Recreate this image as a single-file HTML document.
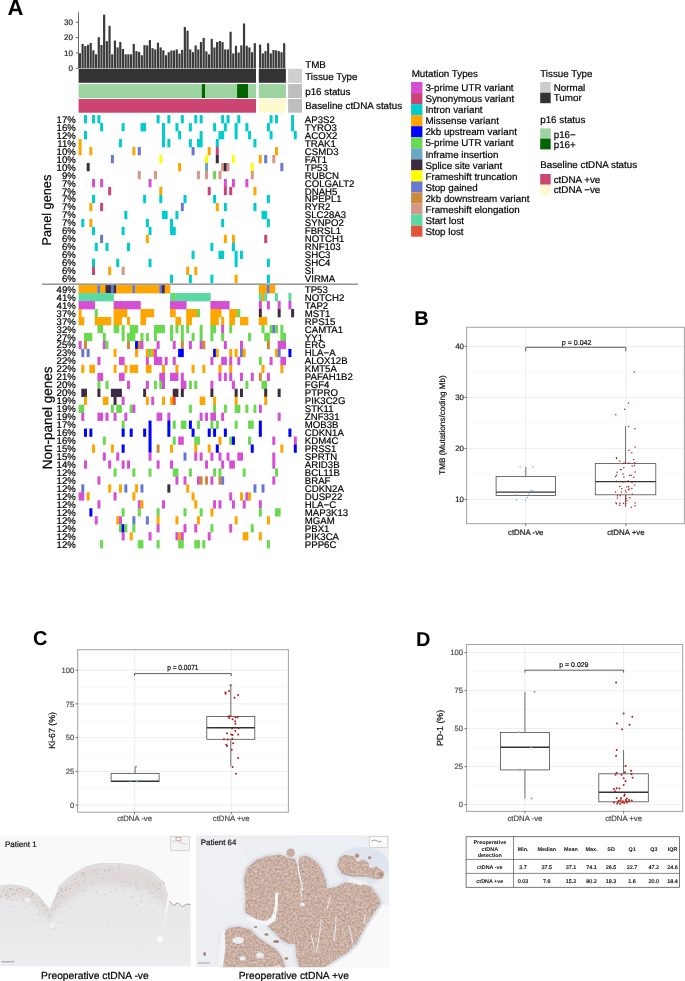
<!DOCTYPE html>
<html><head><meta charset="utf-8"><style>
html,body{margin:0;padding:0;background:#fff;}
body{width:685px;height:981px;overflow:hidden;position:relative;font-family:"Liberation Sans", sans-serif;}
svg{position:absolute;left:0;top:0;will-change:transform;}
svg text{font-family:"Liberation Sans", sans-serif;text-rendering:geometricPrecision;}
</style></head><body>
<svg width="685" height="981" viewBox="0 0 685 981" shape-rendering="auto">
<text transform="translate(7.40 14.70) scale(1 1.0)" font-size="22" text-anchor="start" font-weight="bold" fill="#000" >A</text>
<line x1="78.50" y1="12.30" x2="78.50" y2="68.30" stroke="#444" stroke-width="0.8" />
<line x1="75.90" y1="68.30" x2="78.50" y2="68.30" stroke="#444" stroke-width="0.8" />
<text transform="translate(73.00 71.10) scale(1 1.0)" font-size="8" text-anchor="end" font-weight="normal" fill="#222" stroke="#222" stroke-width="0.2" >0</text>
<line x1="75.90" y1="52.95" x2="78.50" y2="52.95" stroke="#444" stroke-width="0.8" />
<text transform="translate(73.00 55.75) scale(1 1.0)" font-size="8" text-anchor="end" font-weight="normal" fill="#222" stroke="#222" stroke-width="0.2" >10</text>
<line x1="75.90" y1="37.60" x2="78.50" y2="37.60" stroke="#444" stroke-width="0.8" />
<text transform="translate(73.00 40.40) scale(1 1.0)" font-size="8" text-anchor="end" font-weight="normal" fill="#222" stroke="#222" stroke-width="0.2" >20</text>
<line x1="75.90" y1="22.25" x2="78.50" y2="22.25" stroke="#444" stroke-width="0.8" />
<text transform="translate(73.00 25.05) scale(1 1.0)" font-size="8" text-anchor="end" font-weight="normal" fill="#222" stroke="#222" stroke-width="0.2" >30</text>
<rect x="78.85" y="53.26" width="2.19" height="15.04" fill="#3a3a3a" />
<rect x="81.54" y="43.89" width="2.19" height="24.41" fill="#3a3a3a" />
<rect x="84.23" y="46.04" width="2.19" height="22.26" fill="#3a3a3a" />
<rect x="86.92" y="44.81" width="2.19" height="23.49" fill="#3a3a3a" />
<rect x="89.61" y="42.97" width="2.19" height="25.33" fill="#3a3a3a" />
<rect x="92.30" y="50.34" width="2.19" height="17.96" fill="#3a3a3a" />
<rect x="94.99" y="54.33" width="2.19" height="13.97" fill="#3a3a3a" />
<rect x="97.68" y="37.14" width="2.19" height="31.16" fill="#3a3a3a" />
<rect x="100.37" y="44.97" width="2.19" height="23.33" fill="#3a3a3a" />
<rect x="103.06" y="14.58" width="2.19" height="53.72" fill="#3a3a3a" />
<rect x="105.75" y="41.13" width="2.19" height="27.17" fill="#3a3a3a" />
<rect x="108.44" y="25.78" width="2.19" height="42.52" fill="#3a3a3a" />
<rect x="111.13" y="54.33" width="2.19" height="13.97" fill="#3a3a3a" />
<rect x="113.82" y="40.52" width="2.19" height="27.78" fill="#3a3a3a" />
<rect x="116.51" y="47.42" width="2.19" height="20.88" fill="#3a3a3a" />
<rect x="119.20" y="42.05" width="2.19" height="26.25" fill="#3a3a3a" />
<rect x="121.89" y="48.96" width="2.19" height="19.34" fill="#3a3a3a" />
<rect x="124.58" y="54.33" width="2.19" height="13.97" fill="#3a3a3a" />
<rect x="127.27" y="54.33" width="2.19" height="13.97" fill="#3a3a3a" />
<rect x="129.96" y="54.33" width="2.19" height="13.97" fill="#3a3a3a" />
<rect x="132.65" y="43.89" width="2.19" height="24.41" fill="#3a3a3a" />
<rect x="135.34" y="51.11" width="2.19" height="17.19" fill="#3a3a3a" />
<rect x="138.03" y="51.88" width="2.19" height="16.42" fill="#3a3a3a" />
<rect x="140.72" y="55.25" width="2.19" height="13.05" fill="#3a3a3a" />
<rect x="143.41" y="45.12" width="2.19" height="23.18" fill="#3a3a3a" />
<rect x="146.10" y="45.43" width="2.19" height="22.87" fill="#3a3a3a" />
<rect x="148.79" y="40.06" width="2.19" height="28.24" fill="#3a3a3a" />
<rect x="151.48" y="48.19" width="2.19" height="20.11" fill="#3a3a3a" />
<rect x="154.17" y="49.42" width="2.19" height="18.88" fill="#3a3a3a" />
<rect x="156.86" y="42.67" width="2.19" height="25.63" fill="#3a3a3a" />
<rect x="159.55" y="47.42" width="2.19" height="20.88" fill="#3a3a3a" />
<rect x="162.24" y="50.34" width="2.19" height="17.96" fill="#3a3a3a" />
<rect x="164.93" y="55.25" width="2.19" height="13.05" fill="#3a3a3a" />
<rect x="167.62" y="52.18" width="2.19" height="16.12" fill="#3a3a3a" />
<rect x="170.31" y="50.49" width="2.19" height="17.81" fill="#3a3a3a" />
<rect x="173.00" y="50.49" width="2.19" height="17.81" fill="#3a3a3a" />
<rect x="175.69" y="49.42" width="2.19" height="18.88" fill="#3a3a3a" />
<rect x="178.38" y="53.56" width="2.19" height="14.74" fill="#3a3a3a" />
<rect x="181.07" y="49.88" width="2.19" height="18.42" fill="#3a3a3a" />
<rect x="183.76" y="27.01" width="2.19" height="41.29" fill="#3a3a3a" />
<rect x="186.45" y="30.69" width="2.19" height="37.61" fill="#3a3a3a" />
<rect x="189.14" y="49.42" width="2.19" height="18.88" fill="#3a3a3a" />
<rect x="191.83" y="52.18" width="2.19" height="16.12" fill="#3a3a3a" />
<rect x="194.52" y="45.43" width="2.19" height="22.87" fill="#3a3a3a" />
<rect x="197.21" y="49.42" width="2.19" height="18.88" fill="#3a3a3a" />
<rect x="199.90" y="42.05" width="2.19" height="26.25" fill="#3a3a3a" />
<rect x="202.59" y="37.91" width="2.19" height="30.39" fill="#3a3a3a" />
<rect x="205.28" y="51.41" width="2.19" height="16.88" fill="#3a3a3a" />
<rect x="207.97" y="54.33" width="2.19" height="13.97" fill="#3a3a3a" />
<rect x="210.66" y="38.83" width="2.19" height="29.47" fill="#3a3a3a" />
<rect x="213.35" y="47.42" width="2.19" height="20.88" fill="#3a3a3a" />
<rect x="216.04" y="42.05" width="2.19" height="26.25" fill="#3a3a3a" />
<rect x="218.73" y="40.98" width="2.19" height="27.32" fill="#3a3a3a" />
<rect x="221.42" y="42.05" width="2.19" height="26.25" fill="#3a3a3a" />
<rect x="224.11" y="49.42" width="2.19" height="18.88" fill="#3a3a3a" />
<rect x="226.80" y="49.42" width="2.19" height="18.88" fill="#3a3a3a" />
<rect x="229.49" y="31.77" width="2.19" height="36.53" fill="#3a3a3a" />
<rect x="232.18" y="53.41" width="2.19" height="14.89" fill="#3a3a3a" />
<rect x="234.87" y="45.74" width="2.19" height="22.56" fill="#3a3a3a" />
<rect x="237.56" y="52.49" width="2.19" height="15.81" fill="#3a3a3a" />
<rect x="240.25" y="45.43" width="2.19" height="22.87" fill="#3a3a3a" />
<rect x="242.94" y="23.48" width="2.19" height="44.82" fill="#3a3a3a" />
<rect x="245.63" y="45.74" width="2.19" height="22.56" fill="#3a3a3a" />
<rect x="248.32" y="47.42" width="2.19" height="20.88" fill="#3a3a3a" />
<rect x="251.01" y="52.18" width="2.19" height="16.12" fill="#3a3a3a" />
<rect x="253.70" y="43.13" width="2.19" height="25.17" fill="#3a3a3a" />
<rect x="259.05" y="44.51" width="2.17" height="23.79" fill="#3a3a3a" />
<rect x="261.72" y="53.41" width="2.17" height="14.89" fill="#3a3a3a" />
<rect x="264.39" y="51.11" width="2.17" height="17.19" fill="#3a3a3a" />
<rect x="267.06" y="43.13" width="2.17" height="25.17" fill="#3a3a3a" />
<rect x="269.73" y="53.41" width="2.17" height="14.89" fill="#3a3a3a" />
<rect x="272.40" y="50.03" width="2.17" height="18.27" fill="#3a3a3a" />
<rect x="275.07" y="50.34" width="2.17" height="17.96" fill="#3a3a3a" />
<rect x="277.74" y="51.11" width="2.17" height="17.19" fill="#3a3a3a" />
<rect x="280.41" y="52.18" width="2.17" height="16.12" fill="#3a3a3a" />
<rect x="283.08" y="43.13" width="2.17" height="25.17" fill="#3a3a3a" />
<rect x="78.60" y="68.80" width="177.40" height="14.00" fill="#333333" />
<rect x="258.80" y="68.80" width="27.10" height="14.00" fill="#333333" />
<rect x="78.60" y="84.10" width="177.40" height="13.90" fill="#9dd3a0" />
<rect x="258.80" y="84.10" width="27.10" height="13.90" fill="#9dd3a0" />
<rect x="201.90" y="84.10" width="3.10" height="13.90" fill="#006400" />
<rect x="237.10" y="84.10" width="10.90" height="13.90" fill="#006400" />
<rect x="78.60" y="99.00" width="177.40" height="13.70" fill="#cc4470" />
<rect x="258.80" y="99.00" width="27.10" height="13.70" fill="#fffacd" />
<rect x="288.10" y="68.80" width="13.90" height="14.00" fill="#cfcfcf" />
<rect x="288.10" y="84.10" width="13.90" height="13.90" fill="#bebebe" />
<rect x="288.10" y="99.00" width="13.90" height="13.70" fill="#bebebe" />
<text transform="translate(305.20 68.40) scale(1 1.0)" font-size="9.8" text-anchor="start" font-weight="normal" fill="#000" stroke="#000" stroke-width="0.2" >TMB</text>
<text transform="translate(305.20 80.00) scale(1 1.0)" font-size="9.8" text-anchor="start" font-weight="normal" fill="#000" stroke="#000" stroke-width="0.2" >Tissue Type</text>
<text transform="translate(305.20 94.90) scale(1 1.0)" font-size="9.8" text-anchor="start" font-weight="normal" fill="#000" stroke="#000" stroke-width="0.2" >p16 status</text>
<text transform="translate(305.20 109.20) scale(1 1.0)" font-size="9.8" text-anchor="start" font-weight="normal" fill="#000" stroke="#000" stroke-width="0.2" >Baseline ctDNA status</text>
<rect x="83.98" y="115.10" width="2.99" height="8.28" fill="#00cccc" />
<rect x="92.05" y="115.10" width="2.99" height="8.28" fill="#00cccc" />
<rect x="97.43" y="115.10" width="2.99" height="8.28" fill="#00cccc" />
<rect x="156.61" y="115.10" width="2.99" height="8.28" fill="#00cccc" />
<rect x="167.37" y="115.10" width="2.99" height="8.28" fill="#00cccc" />
<rect x="180.82" y="115.10" width="2.99" height="8.28" fill="#00cccc" />
<rect x="194.27" y="115.10" width="2.99" height="8.28" fill="#00cccc" />
<rect x="199.65" y="115.10" width="2.99" height="8.28" fill="#00cccc" />
<rect x="221.17" y="115.10" width="2.99" height="8.28" fill="#00cccc" />
<rect x="226.55" y="115.10" width="2.99" height="8.28" fill="#00cccc" />
<rect x="237.31" y="115.10" width="2.99" height="8.28" fill="#00cccc" />
<rect x="269.59" y="115.10" width="2.99" height="8.28" fill="#00cccc" />
<rect x="274.97" y="115.10" width="2.99" height="8.28" fill="#00cccc" />
<rect x="291.11" y="115.10" width="2.99" height="8.28" fill="#00cccc" />
<text transform="translate(75.80 122.69) scale(1 1.0)" font-size="9.6" text-anchor="end" font-weight="normal" fill="#000" stroke="#000" stroke-width="0.2" >17%</text>
<text transform="translate(304.80 122.69) scale(1 1.0)" font-size="9.65" text-anchor="start" font-weight="normal" fill="#000" stroke="#000" stroke-width="0.2" >AP3S2</text>
<rect x="100.12" y="123.08" width="2.99" height="8.28" fill="#00cccc" />
<rect x="121.64" y="123.08" width="2.99" height="8.28" fill="#00cccc" />
<rect x="140.47" y="123.08" width="5.68" height="8.28" fill="#00cccc" />
<rect x="161.99" y="123.08" width="2.99" height="8.28" fill="#00cccc" />
<rect x="175.44" y="123.08" width="2.99" height="8.28" fill="#00cccc" />
<rect x="188.89" y="123.08" width="2.99" height="8.28" fill="#00cccc" />
<rect x="213.10" y="123.08" width="2.99" height="8.28" fill="#00cccc" />
<rect x="223.86" y="123.08" width="2.99" height="8.28" fill="#00cccc" />
<rect x="234.62" y="123.08" width="2.99" height="8.28" fill="#00cccc" />
<rect x="245.38" y="123.08" width="2.99" height="8.28" fill="#00cccc" />
<rect x="266.90" y="123.08" width="2.99" height="8.28" fill="#00cccc" />
<rect x="291.11" y="123.08" width="2.99" height="8.28" fill="#00cccc" />
<text transform="translate(75.80 130.67) scale(1 1.0)" font-size="9.6" text-anchor="end" font-weight="normal" fill="#000" stroke="#000" stroke-width="0.2" >16%</text>
<text transform="translate(304.80 130.67) scale(1 1.0)" font-size="9.65" text-anchor="start" font-weight="normal" fill="#000" stroke="#000" stroke-width="0.2" >TYRO3</text>
<rect x="83.98" y="131.06" width="2.99" height="8.28" fill="#00cccc" />
<rect x="161.99" y="131.06" width="2.99" height="8.28" fill="#00cccc" />
<rect x="178.13" y="131.06" width="2.99" height="8.28" fill="#00cccc" />
<rect x="199.65" y="131.06" width="2.99" height="8.28" fill="#00cccc" />
<rect x="218.48" y="131.06" width="5.68" height="8.28" fill="#00cccc" />
<rect x="234.62" y="131.06" width="2.99" height="8.28" fill="#00cccc" />
<rect x="248.07" y="131.06" width="2.99" height="8.28" fill="#00cccc" />
<rect x="269.59" y="131.06" width="2.99" height="8.28" fill="#00cccc" />
<rect x="293.80" y="131.06" width="2.99" height="8.28" fill="#00cccc" />
<text transform="translate(75.80 138.65) scale(1 1.0)" font-size="9.6" text-anchor="end" font-weight="normal" fill="#000" stroke="#000" stroke-width="0.2" >12%</text>
<text transform="translate(304.80 138.65) scale(1 1.0)" font-size="9.65" text-anchor="start" font-weight="normal" fill="#000" stroke="#000" stroke-width="0.2" >ACOX2</text>
<rect x="78.60" y="139.04" width="2.99" height="8.28" fill="#ffa500" />
<rect x="118.95" y="139.04" width="2.99" height="8.28" fill="#00cccc" />
<rect x="161.99" y="139.04" width="2.99" height="8.28" fill="#00cccc" />
<rect x="167.37" y="139.04" width="2.99" height="8.28" fill="#00cccc" />
<rect x="188.89" y="139.04" width="2.99" height="8.28" fill="#00cccc" />
<rect x="196.96" y="139.04" width="5.68" height="8.28" fill="#00cccc" />
<rect x="215.79" y="139.04" width="2.99" height="8.28" fill="#00cccc" />
<rect x="253.45" y="139.04" width="2.99" height="8.28" fill="#00cccc" />
<text transform="translate(75.80 146.63) scale(1 1.0)" font-size="9.6" text-anchor="end" font-weight="normal" fill="#000" stroke="#000" stroke-width="0.2" >11%</text>
<text transform="translate(304.80 146.63) scale(1 1.0)" font-size="9.65" text-anchor="start" font-weight="normal" fill="#000" stroke="#000" stroke-width="0.2" >TRAK1</text>
<rect x="78.60" y="147.02" width="2.99" height="8.28" fill="#ffa500" />
<rect x="89.36" y="147.02" width="2.99" height="8.28" fill="#ffa500" />
<rect x="132.40" y="147.02" width="2.99" height="8.28" fill="#ffa500" />
<rect x="137.78" y="147.02" width="2.99" height="8.28" fill="#6878d0" />
<rect x="191.58" y="147.02" width="2.99" height="8.28" fill="#6878d0" />
<rect x="207.72" y="147.02" width="2.99" height="8.28" fill="#ffa500" />
<rect x="215.79" y="147.02" width="2.99" height="8.28" fill="#cc4477" />
<rect x="274.97" y="147.02" width="2.99" height="8.28" fill="#ffa500" />
<text transform="translate(75.80 154.61) scale(1 1.0)" font-size="9.6" text-anchor="end" font-weight="normal" fill="#000" stroke="#000" stroke-width="0.2" >10%</text>
<text transform="translate(304.80 154.61) scale(1 1.0)" font-size="9.65" text-anchor="start" font-weight="normal" fill="#000" stroke="#000" stroke-width="0.2" >CSMD3</text>
<rect x="110.88" y="155.00" width="2.99" height="8.28" fill="#6878d0" />
<rect x="159.30" y="155.00" width="2.99" height="8.28" fill="#ffff00" />
<rect x="205.03" y="155.00" width="2.99" height="8.28" fill="#ffff00" />
<rect x="215.79" y="155.00" width="2.99" height="8.28" fill="#3d2b42" />
<rect x="231.93" y="155.00" width="2.99" height="8.28" fill="#ffff00" />
<rect x="258.83" y="155.00" width="2.99" height="8.28" fill="#ffa500" />
<rect x="264.21" y="155.00" width="2.99" height="8.28" fill="#6878d0" />
<rect x="272.28" y="155.00" width="2.99" height="8.28" fill="#d49888" />
<text transform="translate(75.80 162.59) scale(1 1.0)" font-size="9.6" text-anchor="end" font-weight="normal" fill="#000" stroke="#000" stroke-width="0.2" >10%</text>
<text transform="translate(304.80 162.59) scale(1 1.0)" font-size="9.65" text-anchor="start" font-weight="normal" fill="#000" stroke="#000" stroke-width="0.2" >FAT1</text>
<rect x="86.67" y="162.98" width="2.99" height="8.28" fill="#3d2b42" />
<rect x="178.13" y="162.98" width="2.99" height="8.28" fill="#ffa500" />
<rect x="205.03" y="162.98" width="2.99" height="8.28" fill="#6aa8c4" />
<rect x="221.17" y="162.98" width="2.99" height="8.28" fill="#d49888" />
<rect x="223.86" y="162.98" width="2.99" height="8.28" fill="#3d2b42" />
<rect x="226.55" y="162.98" width="2.99" height="8.28" fill="#d49888" />
<rect x="250.76" y="162.98" width="2.99" height="8.28" fill="#ffff00" />
<rect x="280.35" y="162.98" width="2.99" height="8.28" fill="#6878d0" />
<text transform="translate(75.80 170.57) scale(1 1.0)" font-size="9.6" text-anchor="end" font-weight="normal" fill="#000" stroke="#000" stroke-width="0.2" >10%</text>
<text transform="translate(304.80 170.57) scale(1 1.0)" font-size="9.65" text-anchor="start" font-weight="normal" fill="#000" stroke="#000" stroke-width="0.2" >TP53</text>
<rect x="137.78" y="170.96" width="2.99" height="8.28" fill="#d49888" />
<rect x="153.92" y="170.96" width="2.99" height="8.28" fill="#d49888" />
<rect x="196.96" y="170.96" width="2.99" height="8.28" fill="#d49888" />
<rect x="205.03" y="170.96" width="2.99" height="8.28" fill="#d49888" />
<rect x="213.10" y="170.96" width="2.99" height="8.28" fill="#6ad94f" />
<rect x="218.48" y="170.96" width="2.99" height="8.28" fill="#d49888" />
<rect x="250.76" y="170.96" width="2.99" height="8.28" fill="#d49888" />
<text transform="translate(75.80 178.55) scale(1 1.0)" font-size="9.6" text-anchor="end" font-weight="normal" fill="#000" stroke="#000" stroke-width="0.2" >9%</text>
<text transform="translate(304.80 178.55) scale(1 1.0)" font-size="9.65" text-anchor="start" font-weight="normal" fill="#000" stroke="#000" stroke-width="0.2" >RUBCN</text>
<rect x="92.05" y="178.94" width="2.99" height="8.28" fill="#d44fd4" />
<rect x="100.12" y="178.94" width="2.99" height="8.28" fill="#d44fd4" />
<rect x="148.54" y="178.94" width="2.99" height="8.28" fill="#d44fd4" />
<rect x="223.86" y="178.94" width="2.99" height="8.28" fill="#d44fd4" />
<rect x="231.93" y="178.94" width="2.99" height="8.28" fill="#d44fd4" />
<rect x="245.38" y="178.94" width="2.99" height="8.28" fill="#d44fd4" />
<text transform="translate(75.80 186.53) scale(1 1.0)" font-size="9.6" text-anchor="end" font-weight="normal" fill="#000" stroke="#000" stroke-width="0.2" >7%</text>
<text transform="translate(304.80 186.53) scale(1 1.0)" font-size="9.65" text-anchor="start" font-weight="normal" fill="#000" stroke="#000" stroke-width="0.2" >COLGALT2</text>
<rect x="108.19" y="186.92" width="2.99" height="8.28" fill="#cc4477" />
<rect x="159.30" y="186.92" width="2.99" height="8.28" fill="#ffa500" />
<rect x="207.72" y="186.92" width="2.99" height="8.28" fill="#cc4477" />
<rect x="223.86" y="186.92" width="2.99" height="8.28" fill="#cc4477" />
<rect x="229.24" y="186.92" width="2.99" height="8.28" fill="#cc4477" />
<rect x="253.45" y="186.92" width="2.99" height="8.28" fill="#ffa500" />
<text transform="translate(75.80 194.51) scale(1 1.0)" font-size="9.6" text-anchor="end" font-weight="normal" fill="#000" stroke="#000" stroke-width="0.2" >7%</text>
<text transform="translate(304.80 194.51) scale(1 1.0)" font-size="9.65" text-anchor="start" font-weight="normal" fill="#000" stroke="#000" stroke-width="0.2" >DNAH5</text>
<rect x="92.05" y="194.90" width="2.99" height="8.28" fill="#00cccc" />
<rect x="143.16" y="194.90" width="2.99" height="8.28" fill="#00cccc" />
<rect x="159.30" y="194.90" width="2.99" height="8.28" fill="#00cccc" />
<rect x="183.51" y="194.90" width="2.99" height="8.28" fill="#00cccc" />
<rect x="213.10" y="194.90" width="2.99" height="8.28" fill="#00cccc" />
<rect x="266.90" y="194.90" width="2.99" height="8.28" fill="#00cccc" />
<text transform="translate(75.80 202.49) scale(1 1.0)" font-size="9.6" text-anchor="end" font-weight="normal" fill="#000" stroke="#000" stroke-width="0.2" >7%</text>
<text transform="translate(304.80 202.49) scale(1 1.0)" font-size="9.65" text-anchor="start" font-weight="normal" fill="#000" stroke="#000" stroke-width="0.2" >NPEPL1</text>
<rect x="89.36" y="202.88" width="2.99" height="8.28" fill="#ffa500" />
<rect x="100.12" y="202.88" width="2.99" height="8.28" fill="#cc4477" />
<rect x="180.82" y="202.88" width="2.99" height="8.28" fill="#6878d0" />
<rect x="215.79" y="202.88" width="2.99" height="8.28" fill="#ffa500" />
<rect x="223.86" y="202.88" width="2.99" height="8.28" fill="#00cccc" />
<rect x="253.45" y="202.88" width="2.99" height="8.28" fill="#00cccc" />
<text transform="translate(75.80 210.47) scale(1 1.0)" font-size="9.6" text-anchor="end" font-weight="normal" fill="#000" stroke="#000" stroke-width="0.2" >7%</text>
<text transform="translate(304.80 210.47) scale(1 1.0)" font-size="9.65" text-anchor="start" font-weight="normal" fill="#000" stroke="#000" stroke-width="0.2" >RYR2</text>
<rect x="124.33" y="210.86" width="2.99" height="8.28" fill="#00cccc" />
<rect x="161.99" y="210.86" width="5.68" height="8.28" fill="#00cccc" />
<rect x="175.44" y="210.86" width="2.99" height="8.28" fill="#00cccc" />
<rect x="261.52" y="210.86" width="5.68" height="8.28" fill="#00cccc" />
<text transform="translate(75.80 218.45) scale(1 1.0)" font-size="9.6" text-anchor="end" font-weight="normal" fill="#000" stroke="#000" stroke-width="0.2" >7%</text>
<text transform="translate(304.80 218.45) scale(1 1.0)" font-size="9.65" text-anchor="start" font-weight="normal" fill="#000" stroke="#000" stroke-width="0.2" >SLC28A3</text>
<rect x="81.29" y="218.84" width="2.99" height="8.28" fill="#00cccc" />
<rect x="89.36" y="218.84" width="2.99" height="8.28" fill="#ffa500" />
<rect x="145.85" y="218.84" width="2.99" height="8.28" fill="#00cccc" />
<rect x="170.06" y="218.84" width="2.99" height="8.28" fill="#00cccc" />
<rect x="221.17" y="218.84" width="2.99" height="8.28" fill="#00cccc" />
<rect x="266.90" y="218.84" width="2.99" height="8.28" fill="#00cccc" />
<text transform="translate(75.80 226.43) scale(1 1.0)" font-size="9.6" text-anchor="end" font-weight="normal" fill="#000" stroke="#000" stroke-width="0.2" >7%</text>
<text transform="translate(304.80 226.43) scale(1 1.0)" font-size="9.65" text-anchor="start" font-weight="normal" fill="#000" stroke="#000" stroke-width="0.2" >SYNPO2</text>
<rect x="92.05" y="226.82" width="2.99" height="8.28" fill="#00cccc" />
<rect x="121.64" y="226.82" width="2.99" height="8.28" fill="#00cccc" />
<rect x="148.54" y="226.82" width="2.99" height="8.28" fill="#00cccc" />
<rect x="170.06" y="226.82" width="5.68" height="8.28" fill="#00cccc" />
<text transform="translate(75.80 234.41) scale(1 1.0)" font-size="9.6" text-anchor="end" font-weight="normal" fill="#000" stroke="#000" stroke-width="0.2" >6%</text>
<text transform="translate(304.80 234.41) scale(1 1.0)" font-size="9.65" text-anchor="start" font-weight="normal" fill="#000" stroke="#000" stroke-width="0.2" >FBRSL1</text>
<rect x="100.12" y="234.80" width="2.99" height="8.28" fill="#6878d0" />
<rect x="145.85" y="234.80" width="2.99" height="8.28" fill="#ffa500" />
<rect x="223.86" y="234.80" width="2.99" height="8.28" fill="#ffa500" />
<rect x="231.93" y="234.80" width="2.99" height="8.28" fill="#ffa500" />
<rect x="264.21" y="234.80" width="2.99" height="8.28" fill="#cc4477" />
<text transform="translate(75.80 242.39) scale(1 1.0)" font-size="9.6" text-anchor="end" font-weight="normal" fill="#000" stroke="#000" stroke-width="0.2" >6%</text>
<text transform="translate(304.80 242.39) scale(1 1.0)" font-size="9.65" text-anchor="start" font-weight="normal" fill="#000" stroke="#000" stroke-width="0.2" >NOTCH1</text>
<rect x="94.74" y="242.78" width="2.99" height="8.28" fill="#00cccc" />
<rect x="105.50" y="242.78" width="2.99" height="8.28" fill="#00cccc" />
<rect x="127.02" y="242.78" width="2.99" height="8.28" fill="#00cccc" />
<rect x="210.41" y="242.78" width="2.99" height="8.28" fill="#00cccc" />
<rect x="231.93" y="242.78" width="2.99" height="8.28" fill="#00cccc" />
<text transform="translate(75.80 250.37) scale(1 1.0)" font-size="9.6" text-anchor="end" font-weight="normal" fill="#000" stroke="#000" stroke-width="0.2" >6%</text>
<text transform="translate(304.80 250.37) scale(1 1.0)" font-size="9.65" text-anchor="start" font-weight="normal" fill="#000" stroke="#000" stroke-width="0.2" >RNF103</text>
<rect x="191.58" y="250.76" width="2.99" height="8.28" fill="#00cccc" />
<rect x="218.48" y="250.76" width="5.68" height="8.28" fill="#00cccc" />
<rect x="234.62" y="250.76" width="2.99" height="8.28" fill="#00cccc" />
<rect x="240.00" y="250.76" width="2.99" height="8.28" fill="#00cccc" />
<text transform="translate(75.80 258.35) scale(1 1.0)" font-size="9.6" text-anchor="end" font-weight="normal" fill="#000" stroke="#000" stroke-width="0.2" >6%</text>
<text transform="translate(304.80 258.35) scale(1 1.0)" font-size="9.65" text-anchor="start" font-weight="normal" fill="#000" stroke="#000" stroke-width="0.2" >SHC3</text>
<rect x="92.05" y="258.74" width="2.99" height="8.28" fill="#00cccc" />
<rect x="116.26" y="258.74" width="2.99" height="8.28" fill="#00cccc" />
<rect x="148.54" y="258.74" width="2.99" height="8.28" fill="#00cccc" />
<rect x="234.62" y="258.74" width="2.99" height="8.28" fill="#00cccc" />
<rect x="266.90" y="258.74" width="2.99" height="8.28" fill="#00cccc" />
<text transform="translate(75.80 266.33) scale(1 1.0)" font-size="9.6" text-anchor="end" font-weight="normal" fill="#000" stroke="#000" stroke-width="0.2" >6%</text>
<text transform="translate(304.80 266.33) scale(1 1.0)" font-size="9.65" text-anchor="start" font-weight="normal" fill="#000" stroke="#000" stroke-width="0.2" >SHC4</text>
<rect x="92.05" y="266.72" width="2.99" height="8.28" fill="#cc4477" />
<rect x="108.19" y="266.72" width="2.99" height="8.28" fill="#ffa500" />
<rect x="121.64" y="266.72" width="2.99" height="8.28" fill="#d49888" />
<rect x="186.20" y="266.72" width="2.99" height="8.28" fill="#ffa500" />
<rect x="194.27" y="266.72" width="2.99" height="8.28" fill="#ffa500" />
<text transform="translate(75.80 274.31) scale(1 1.0)" font-size="9.6" text-anchor="end" font-weight="normal" fill="#000" stroke="#000" stroke-width="0.2" >6%</text>
<text transform="translate(304.80 274.31) scale(1 1.0)" font-size="9.65" text-anchor="start" font-weight="normal" fill="#000" stroke="#000" stroke-width="0.2" >SI</text>
<rect x="170.06" y="274.70" width="2.99" height="8.28" fill="#00cccc" />
<rect x="188.89" y="274.70" width="2.99" height="8.28" fill="#00cccc" />
<rect x="210.41" y="274.70" width="2.99" height="8.28" fill="#00cccc" />
<rect x="234.62" y="274.70" width="2.99" height="8.28" fill="#ffa500" />
<rect x="266.90" y="274.70" width="2.99" height="8.28" fill="#00cccc" />
<text transform="translate(75.80 282.29) scale(1 1.0)" font-size="9.6" text-anchor="end" font-weight="normal" fill="#000" stroke="#000" stroke-width="0.2" >6%</text>
<text transform="translate(304.80 282.29) scale(1 1.0)" font-size="9.65" text-anchor="start" font-weight="normal" fill="#000" stroke="#000" stroke-width="0.2" >VIRMA</text>
<rect x="78.60" y="285.10" width="19.13" height="8.27" fill="#ffa500" />
<rect x="97.43" y="285.10" width="2.99" height="8.27" fill="#6878d0" />
<rect x="100.12" y="285.10" width="5.68" height="8.27" fill="#ffa500" />
<rect x="105.50" y="285.10" width="5.68" height="8.27" fill="#3d2b42" />
<rect x="110.88" y="285.10" width="2.99" height="8.27" fill="#6878d0" />
<rect x="113.57" y="285.10" width="2.99" height="8.27" fill="#3d2b42" />
<rect x="116.26" y="285.10" width="16.44" height="8.27" fill="#ffa500" />
<rect x="132.40" y="285.10" width="2.99" height="8.27" fill="#6878d0" />
<rect x="135.09" y="285.10" width="24.51" height="8.27" fill="#ffa500" />
<rect x="159.30" y="285.10" width="2.99" height="8.27" fill="#6878d0" />
<rect x="161.99" y="285.10" width="2.99" height="8.27" fill="#3d2b42" />
<rect x="164.68" y="285.10" width="5.68" height="8.27" fill="#ffa500" />
<rect x="258.83" y="285.10" width="8.37" height="8.27" fill="#ffa500" />
<rect x="266.90" y="285.10" width="2.99" height="8.27" fill="#6878d0" />
<rect x="269.59" y="285.10" width="5.68" height="8.27" fill="#ffa500" />
<text transform="translate(75.80 292.69) scale(1 1.0)" font-size="9.6" text-anchor="end" font-weight="normal" fill="#000" stroke="#000" stroke-width="0.2" >49%</text>
<text transform="translate(304.80 292.69) scale(1 1.0)" font-size="9.65" text-anchor="start" font-weight="normal" fill="#000" stroke="#000" stroke-width="0.2" >TP53</text>
<rect x="78.60" y="293.07" width="35.27" height="8.27" fill="#58daa2" />
<rect x="170.06" y="293.07" width="2.99" height="8.27" fill="#58daa2" />
<rect x="172.75" y="293.07" width="2.99" height="8.27" fill="#6ad94f" />
<rect x="175.44" y="293.07" width="35.27" height="8.27" fill="#58daa2" />
<rect x="258.83" y="293.07" width="2.99" height="8.27" fill="#58daa2" />
<rect x="261.52" y="293.07" width="2.99" height="8.27" fill="#ffa500" />
<rect x="264.21" y="293.07" width="2.99" height="8.27" fill="#58daa2" />
<rect x="274.97" y="293.07" width="2.99" height="8.27" fill="#58daa2" />
<rect x="288.42" y="293.07" width="2.99" height="8.27" fill="#58daa2" />
<text transform="translate(75.80 300.66) scale(1 1.0)" font-size="9.6" text-anchor="end" font-weight="normal" fill="#000" stroke="#000" stroke-width="0.2" >41%</text>
<text transform="translate(304.80 300.66) scale(1 1.0)" font-size="9.65" text-anchor="start" font-weight="normal" fill="#000" stroke="#000" stroke-width="0.2" >NOTCH2</text>
<rect x="78.60" y="301.04" width="16.44" height="8.27" fill="#d44fd4" />
<rect x="113.57" y="301.04" width="27.20" height="8.27" fill="#d44fd4" />
<rect x="170.06" y="301.04" width="16.44" height="8.27" fill="#d44fd4" />
<rect x="210.41" y="301.04" width="19.13" height="8.27" fill="#d44fd4" />
<rect x="258.83" y="301.04" width="2.99" height="8.27" fill="#d44fd4" />
<rect x="266.90" y="301.04" width="2.99" height="8.27" fill="#d44fd4" />
<rect x="277.66" y="301.04" width="2.99" height="8.27" fill="#d44fd4" />
<rect x="288.42" y="301.04" width="2.99" height="8.27" fill="#d44fd4" />
<text transform="translate(75.80 308.63) scale(1 1.0)" font-size="9.6" text-anchor="end" font-weight="normal" fill="#000" stroke="#000" stroke-width="0.2" >41%</text>
<text transform="translate(304.80 308.63) scale(1 1.0)" font-size="9.65" text-anchor="start" font-weight="normal" fill="#000" stroke="#000" stroke-width="0.2" >TAP2</text>
<rect x="78.60" y="309.01" width="2.99" height="8.27" fill="#ffa500" />
<rect x="94.74" y="309.01" width="2.99" height="8.27" fill="#6ad94f" />
<rect x="113.57" y="309.01" width="13.75" height="8.27" fill="#ffa500" />
<rect x="140.47" y="309.01" width="13.75" height="8.27" fill="#ffa500" />
<rect x="170.06" y="309.01" width="5.68" height="8.27" fill="#ffa500" />
<rect x="186.20" y="309.01" width="11.06" height="8.27" fill="#ffa500" />
<rect x="196.96" y="309.01" width="2.99" height="8.27" fill="#6ad94f" />
<rect x="210.41" y="309.01" width="11.06" height="8.27" fill="#ffa500" />
<rect x="229.24" y="309.01" width="8.37" height="8.27" fill="#ffa500" />
<rect x="237.31" y="309.01" width="2.99" height="8.27" fill="#6ad94f" />
<rect x="258.83" y="309.01" width="2.99" height="8.27" fill="#3d2b42" />
<rect x="277.66" y="309.01" width="2.99" height="8.27" fill="#3d2b42" />
<rect x="291.11" y="309.01" width="2.99" height="8.27" fill="#3d2b42" />
<text transform="translate(75.80 316.60) scale(1 1.0)" font-size="9.6" text-anchor="end" font-weight="normal" fill="#000" stroke="#000" stroke-width="0.2" >37%</text>
<text transform="translate(304.80 316.60) scale(1 1.0)" font-size="9.65" text-anchor="start" font-weight="normal" fill="#000" stroke="#000" stroke-width="0.2" >MST1</text>
<rect x="78.60" y="316.98" width="5.68" height="8.27" fill="#ffa500" />
<rect x="94.74" y="316.98" width="16.44" height="8.27" fill="#ffa500" />
<rect x="113.57" y="316.98" width="8.37" height="8.27" fill="#ffa500" />
<rect x="127.02" y="316.98" width="2.99" height="8.27" fill="#ffa500" />
<rect x="140.47" y="316.98" width="5.68" height="8.27" fill="#ffa500" />
<rect x="175.44" y="316.98" width="5.68" height="8.27" fill="#ffa500" />
<rect x="186.20" y="316.98" width="5.68" height="8.27" fill="#ffa500" />
<rect x="210.41" y="316.98" width="8.37" height="8.27" fill="#ffa500" />
<rect x="221.17" y="316.98" width="2.99" height="8.27" fill="#ffa500" />
<rect x="229.24" y="316.98" width="5.68" height="8.27" fill="#ffa500" />
<rect x="240.00" y="316.98" width="8.37" height="8.27" fill="#ffa500" />
<rect x="258.83" y="316.98" width="8.37" height="8.27" fill="#ffa500" />
<text transform="translate(75.80 324.57) scale(1 1.0)" font-size="9.6" text-anchor="end" font-weight="normal" fill="#000" stroke="#000" stroke-width="0.2" >37%</text>
<text transform="translate(304.80 324.57) scale(1 1.0)" font-size="9.65" text-anchor="start" font-weight="normal" fill="#000" stroke="#000" stroke-width="0.2" >RPS15</text>
<rect x="97.43" y="324.95" width="5.68" height="8.27" fill="#6ad94f" />
<rect x="113.57" y="324.95" width="5.68" height="8.27" fill="#6ad94f" />
<rect x="121.64" y="324.95" width="2.99" height="8.27" fill="#6ad94f" />
<rect x="129.71" y="324.95" width="8.37" height="8.27" fill="#6ad94f" />
<rect x="153.92" y="324.95" width="11.06" height="8.27" fill="#6ad94f" />
<rect x="170.06" y="324.95" width="2.99" height="8.27" fill="#6ad94f" />
<rect x="175.44" y="324.95" width="2.99" height="8.27" fill="#6ad94f" />
<rect x="180.82" y="324.95" width="2.99" height="8.27" fill="#6ad94f" />
<rect x="186.20" y="324.95" width="2.99" height="8.27" fill="#6ad94f" />
<rect x="199.65" y="324.95" width="2.99" height="8.27" fill="#6ad94f" />
<rect x="210.41" y="324.95" width="5.68" height="8.27" fill="#6ad94f" />
<rect x="221.17" y="324.95" width="2.99" height="8.27" fill="#d44fd4" />
<rect x="229.24" y="324.95" width="2.99" height="8.27" fill="#6ad94f" />
<rect x="261.52" y="324.95" width="2.99" height="8.27" fill="#6ad94f" />
<rect x="269.59" y="324.95" width="2.99" height="8.27" fill="#6ad94f" />
<rect x="272.28" y="324.95" width="2.99" height="8.27" fill="#6878d0" />
<rect x="274.97" y="324.95" width="2.99" height="8.27" fill="#6ad94f" />
<rect x="280.35" y="324.95" width="2.99" height="8.27" fill="#6ad94f" />
<text transform="translate(75.80 332.54) scale(1 1.0)" font-size="9.6" text-anchor="end" font-weight="normal" fill="#000" stroke="#000" stroke-width="0.2" >32%</text>
<text transform="translate(304.80 332.54) scale(1 1.0)" font-size="9.65" text-anchor="start" font-weight="normal" fill="#000" stroke="#000" stroke-width="0.2" >CAMTA1</text>
<rect x="83.98" y="332.92" width="8.37" height="8.27" fill="#6ad94f" />
<rect x="102.81" y="332.92" width="2.99" height="8.27" fill="#6ad94f" />
<rect x="121.64" y="332.92" width="2.99" height="8.27" fill="#6ad94f" />
<rect x="127.02" y="332.92" width="8.37" height="8.27" fill="#6ad94f" />
<rect x="140.47" y="332.92" width="2.99" height="8.27" fill="#6ad94f" />
<rect x="145.85" y="332.92" width="2.99" height="8.27" fill="#6ad94f" />
<rect x="153.92" y="332.92" width="2.99" height="8.27" fill="#6ad94f" />
<rect x="170.06" y="332.92" width="2.99" height="8.27" fill="#6ad94f" />
<rect x="180.82" y="332.92" width="2.99" height="8.27" fill="#6ad94f" />
<rect x="191.58" y="332.92" width="2.99" height="8.27" fill="#6ad94f" />
<rect x="199.65" y="332.92" width="2.99" height="8.27" fill="#6ad94f" />
<rect x="210.41" y="332.92" width="2.99" height="8.27" fill="#6ad94f" />
<rect x="221.17" y="332.92" width="2.99" height="8.27" fill="#6ad94f" />
<rect x="248.07" y="332.92" width="2.99" height="8.27" fill="#6ad94f" />
<rect x="264.21" y="332.92" width="5.68" height="8.27" fill="#6ad94f" />
<rect x="280.35" y="332.92" width="5.68" height="8.27" fill="#6ad94f" />
<text transform="translate(75.80 340.51) scale(1 1.0)" font-size="9.6" text-anchor="end" font-weight="normal" fill="#000" stroke="#000" stroke-width="0.2" >27%</text>
<text transform="translate(304.80 340.51) scale(1 1.0)" font-size="9.65" text-anchor="start" font-weight="normal" fill="#000" stroke="#000" stroke-width="0.2" >YY1</text>
<rect x="78.60" y="340.89" width="2.99" height="8.27" fill="#d44fd4" />
<rect x="83.98" y="340.89" width="2.99" height="8.27" fill="#cd8a3c" />
<rect x="102.81" y="340.89" width="2.99" height="8.27" fill="#d44fd4" />
<rect x="105.50" y="340.89" width="2.99" height="8.27" fill="#6ad94f" />
<rect x="127.02" y="340.89" width="2.99" height="8.27" fill="#cd8a3c" />
<rect x="135.09" y="340.89" width="2.99" height="8.27" fill="#0000ff" />
<rect x="137.78" y="340.89" width="2.99" height="8.27" fill="#cd8a3c" />
<rect x="140.47" y="340.89" width="2.99" height="8.27" fill="#d44fd4" />
<rect x="156.61" y="340.89" width="2.99" height="8.27" fill="#d44fd4" />
<rect x="172.75" y="340.89" width="2.99" height="8.27" fill="#d44fd4" />
<rect x="180.82" y="340.89" width="2.99" height="8.27" fill="#cd8a3c" />
<rect x="188.89" y="340.89" width="2.99" height="8.27" fill="#d44fd4" />
<rect x="199.65" y="340.89" width="2.99" height="8.27" fill="#d44fd4" />
<rect x="202.34" y="340.89" width="2.99" height="8.27" fill="#cd8a3c" />
<rect x="223.86" y="340.89" width="2.99" height="8.27" fill="#d44fd4" />
<rect x="240.00" y="340.89" width="2.99" height="8.27" fill="#d44fd4" />
<rect x="266.90" y="340.89" width="2.99" height="8.27" fill="#cd8a3c" />
<rect x="277.66" y="340.89" width="8.37" height="8.27" fill="#d44fd4" />
<text transform="translate(75.80 348.48) scale(1 1.0)" font-size="9.6" text-anchor="end" font-weight="normal" fill="#000" stroke="#000" stroke-width="0.2" >25%</text>
<text transform="translate(304.80 348.48) scale(1 1.0)" font-size="9.65" text-anchor="start" font-weight="normal" fill="#000" stroke="#000" stroke-width="0.2" >ERG</text>
<rect x="81.29" y="348.86" width="2.99" height="8.27" fill="#6878d0" />
<rect x="86.67" y="348.86" width="2.99" height="8.27" fill="#6878d0" />
<rect x="113.57" y="348.86" width="2.99" height="8.27" fill="#ffa500" />
<rect x="135.09" y="348.86" width="2.99" height="8.27" fill="#ffa500" />
<rect x="145.85" y="348.86" width="2.99" height="8.27" fill="#ffa500" />
<rect x="148.54" y="348.86" width="2.99" height="8.27" fill="#6ad94f" />
<rect x="151.23" y="348.86" width="2.99" height="8.27" fill="#ffa500" />
<rect x="153.92" y="348.86" width="2.99" height="8.27" fill="#d44fd4" />
<rect x="178.13" y="348.86" width="5.68" height="8.27" fill="#0000ff" />
<rect x="213.10" y="348.86" width="2.99" height="8.27" fill="#0000ff" />
<rect x="215.79" y="348.86" width="2.99" height="8.27" fill="#ffa500" />
<rect x="229.24" y="348.86" width="2.99" height="8.27" fill="#ffa500" />
<rect x="234.62" y="348.86" width="2.99" height="8.27" fill="#ffa500" />
<rect x="240.00" y="348.86" width="2.99" height="8.27" fill="#6878d0" />
<rect x="242.69" y="348.86" width="2.99" height="8.27" fill="#ffa500" />
<rect x="274.97" y="348.86" width="2.99" height="8.27" fill="#ffa500" />
<rect x="277.66" y="348.86" width="2.99" height="8.27" fill="#6878d0" />
<rect x="288.42" y="348.86" width="2.99" height="8.27" fill="#0000ff" />
<text transform="translate(75.80 356.45) scale(1 1.0)" font-size="9.6" text-anchor="end" font-weight="normal" fill="#000" stroke="#000" stroke-width="0.2" >23%</text>
<text transform="translate(304.80 356.45) scale(1 1.0)" font-size="9.65" text-anchor="start" font-weight="normal" fill="#000" stroke="#000" stroke-width="0.2" >HLA−A</text>
<rect x="97.43" y="356.83" width="2.99" height="8.27" fill="#d44fd4" />
<rect x="118.95" y="356.83" width="5.68" height="8.27" fill="#d44fd4" />
<rect x="145.85" y="356.83" width="2.99" height="8.27" fill="#d44fd4" />
<rect x="153.92" y="356.83" width="8.37" height="8.27" fill="#d44fd4" />
<rect x="164.68" y="356.83" width="2.99" height="8.27" fill="#d44fd4" />
<rect x="172.75" y="356.83" width="2.99" height="8.27" fill="#d44fd4" />
<rect x="210.41" y="356.83" width="2.99" height="8.27" fill="#d44fd4" />
<rect x="221.17" y="356.83" width="5.68" height="8.27" fill="#d44fd4" />
<rect x="229.24" y="356.83" width="2.99" height="8.27" fill="#d44fd4" />
<rect x="237.31" y="356.83" width="2.99" height="8.27" fill="#d44fd4" />
<rect x="258.83" y="356.83" width="2.99" height="8.27" fill="#6ad94f" />
<rect x="269.59" y="356.83" width="2.99" height="8.27" fill="#d44fd4" />
<rect x="280.35" y="356.83" width="5.68" height="8.27" fill="#d44fd4" />
<text transform="translate(75.80 364.42) scale(1 1.0)" font-size="9.6" text-anchor="end" font-weight="normal" fill="#000" stroke="#000" stroke-width="0.2" >22%</text>
<text transform="translate(304.80 364.42) scale(1 1.0)" font-size="9.65" text-anchor="start" font-weight="normal" fill="#000" stroke="#000" stroke-width="0.2" >ALOX12B</text>
<rect x="81.29" y="364.80" width="2.99" height="8.27" fill="#ffa500" />
<rect x="89.36" y="364.80" width="5.68" height="8.27" fill="#ffa500" />
<rect x="113.57" y="364.80" width="2.99" height="8.27" fill="#ffa500" />
<rect x="124.33" y="364.80" width="2.99" height="8.27" fill="#ffa500" />
<rect x="129.71" y="364.80" width="8.37" height="8.27" fill="#ffa500" />
<rect x="145.85" y="364.80" width="5.68" height="8.27" fill="#ffa500" />
<rect x="161.99" y="364.80" width="2.99" height="8.27" fill="#ffa500" />
<rect x="175.44" y="364.80" width="2.99" height="8.27" fill="#ffa500" />
<rect x="191.58" y="364.80" width="2.99" height="8.27" fill="#ffa500" />
<rect x="202.34" y="364.80" width="2.99" height="8.27" fill="#ffa500" />
<rect x="218.48" y="364.80" width="2.99" height="8.27" fill="#ffa500" />
<rect x="229.24" y="364.80" width="2.99" height="8.27" fill="#ffa500" />
<rect x="261.52" y="364.80" width="2.99" height="8.27" fill="#ffa500" />
<rect x="280.35" y="364.80" width="2.99" height="8.27" fill="#ffa500" />
<text transform="translate(75.80 372.39) scale(1 1.0)" font-size="9.6" text-anchor="end" font-weight="normal" fill="#000" stroke="#000" stroke-width="0.2" >22%</text>
<text transform="translate(304.80 372.39) scale(1 1.0)" font-size="9.65" text-anchor="start" font-weight="normal" fill="#000" stroke="#000" stroke-width="0.2" >KMT5A</text>
<rect x="97.43" y="372.77" width="5.68" height="8.27" fill="#d44fd4" />
<rect x="118.95" y="372.77" width="5.68" height="8.27" fill="#d44fd4" />
<rect x="159.30" y="372.77" width="5.68" height="8.27" fill="#d44fd4" />
<rect x="170.06" y="372.77" width="8.37" height="8.27" fill="#d44fd4" />
<rect x="180.82" y="372.77" width="2.99" height="8.27" fill="#d44fd4" />
<rect x="218.48" y="372.77" width="2.99" height="8.27" fill="#d44fd4" />
<rect x="223.86" y="372.77" width="2.99" height="8.27" fill="#d44fd4" />
<rect x="229.24" y="372.77" width="2.99" height="8.27" fill="#d44fd4" />
<rect x="240.00" y="372.77" width="2.99" height="8.27" fill="#d44fd4" />
<rect x="250.76" y="372.77" width="2.99" height="8.27" fill="#d44fd4" />
<rect x="258.83" y="372.77" width="2.99" height="8.27" fill="#cd8a3c" />
<rect x="266.90" y="372.77" width="2.99" height="8.27" fill="#d44fd4" />
<text transform="translate(75.80 380.36) scale(1 1.0)" font-size="9.6" text-anchor="end" font-weight="normal" fill="#000" stroke="#000" stroke-width="0.2" >21%</text>
<text transform="translate(304.80 380.36) scale(1 1.0)" font-size="9.65" text-anchor="start" font-weight="normal" fill="#000" stroke="#000" stroke-width="0.2" >PAFAH1B2</text>
<rect x="97.43" y="380.74" width="2.99" height="8.27" fill="#6ad94f" />
<rect x="105.50" y="380.74" width="2.99" height="8.27" fill="#6ad94f" />
<rect x="127.02" y="380.74" width="2.99" height="8.27" fill="#d44fd4" />
<rect x="145.85" y="380.74" width="2.99" height="8.27" fill="#d44fd4" />
<rect x="153.92" y="380.74" width="2.99" height="8.27" fill="#6ad94f" />
<rect x="159.30" y="380.74" width="2.99" height="8.27" fill="#6ad94f" />
<rect x="161.99" y="380.74" width="2.99" height="8.27" fill="#d44fd4" />
<rect x="180.82" y="380.74" width="5.68" height="8.27" fill="#d44fd4" />
<rect x="188.89" y="380.74" width="2.99" height="8.27" fill="#6ad94f" />
<rect x="194.27" y="380.74" width="2.99" height="8.27" fill="#6ad94f" />
<rect x="210.41" y="380.74" width="2.99" height="8.27" fill="#d44fd4" />
<rect x="231.93" y="380.74" width="2.99" height="8.27" fill="#d44fd4" />
<rect x="245.38" y="380.74" width="2.99" height="8.27" fill="#6ad94f" />
<rect x="261.52" y="380.74" width="5.68" height="8.27" fill="#6ad94f" />
<text transform="translate(75.80 388.33) scale(1 1.0)" font-size="9.6" text-anchor="end" font-weight="normal" fill="#000" stroke="#000" stroke-width="0.2" >20%</text>
<text transform="translate(304.80 388.33) scale(1 1.0)" font-size="9.65" text-anchor="start" font-weight="normal" fill="#000" stroke="#000" stroke-width="0.2" >FGF4</text>
<rect x="81.29" y="388.71" width="5.68" height="8.27" fill="#3d2b42" />
<rect x="97.43" y="388.71" width="2.99" height="8.27" fill="#3d2b42" />
<rect x="110.88" y="388.71" width="11.06" height="8.27" fill="#3d2b42" />
<rect x="143.16" y="388.71" width="2.99" height="8.27" fill="#3d2b42" />
<rect x="172.75" y="388.71" width="5.68" height="8.27" fill="#3d2b42" />
<rect x="180.82" y="388.71" width="2.99" height="8.27" fill="#3d2b42" />
<rect x="210.41" y="388.71" width="2.99" height="8.27" fill="#3d2b42" />
<rect x="234.62" y="388.71" width="2.99" height="8.27" fill="#3d2b42" />
<rect x="240.00" y="388.71" width="2.99" height="8.27" fill="#3d2b42" />
<rect x="264.21" y="388.71" width="2.99" height="8.27" fill="#3d2b42" />
<rect x="277.66" y="388.71" width="2.99" height="8.27" fill="#3d2b42" />
<text transform="translate(75.80 396.30) scale(1 1.0)" font-size="9.6" text-anchor="end" font-weight="normal" fill="#000" stroke="#000" stroke-width="0.2" >20%</text>
<text transform="translate(304.80 396.30) scale(1 1.0)" font-size="9.65" text-anchor="start" font-weight="normal" fill="#000" stroke="#000" stroke-width="0.2" >PTPRO</text>
<rect x="83.98" y="396.68" width="2.99" height="8.27" fill="#ffa500" />
<rect x="102.81" y="396.68" width="5.68" height="8.27" fill="#ffa500" />
<rect x="113.57" y="396.68" width="2.99" height="8.27" fill="#3d2b42" />
<rect x="121.64" y="396.68" width="2.99" height="8.27" fill="#d44fd4" />
<rect x="145.85" y="396.68" width="2.99" height="8.27" fill="#ffa500" />
<rect x="151.23" y="396.68" width="2.99" height="8.27" fill="#d44fd4" />
<rect x="161.99" y="396.68" width="2.99" height="8.27" fill="#ffa500" />
<rect x="170.06" y="396.68" width="2.99" height="8.27" fill="#ffa500" />
<rect x="172.75" y="396.68" width="2.99" height="8.27" fill="#e0543a" />
<rect x="199.65" y="396.68" width="5.68" height="8.27" fill="#ffa500" />
<rect x="213.10" y="396.68" width="2.99" height="8.27" fill="#ffa500" />
<rect x="234.62" y="396.68" width="2.99" height="8.27" fill="#ffa500" />
<rect x="264.21" y="396.68" width="2.99" height="8.27" fill="#ffa500" />
<text transform="translate(75.80 404.27) scale(1 1.0)" font-size="9.6" text-anchor="end" font-weight="normal" fill="#000" stroke="#000" stroke-width="0.2" >19%</text>
<text transform="translate(304.80 404.27) scale(1 1.0)" font-size="9.65" text-anchor="start" font-weight="normal" fill="#000" stroke="#000" stroke-width="0.2" >PIK3C2G</text>
<rect x="78.60" y="404.65" width="5.68" height="8.27" fill="#6ad94f" />
<rect x="110.88" y="404.65" width="2.99" height="8.27" fill="#6ad94f" />
<rect x="116.26" y="404.65" width="5.68" height="8.27" fill="#6ad94f" />
<rect x="129.71" y="404.65" width="2.99" height="8.27" fill="#6ad94f" />
<rect x="132.40" y="404.65" width="2.99" height="8.27" fill="#d44fd4" />
<rect x="188.89" y="404.65" width="2.99" height="8.27" fill="#6ad94f" />
<rect x="213.10" y="404.65" width="2.99" height="8.27" fill="#6ad94f" />
<rect x="223.86" y="404.65" width="2.99" height="8.27" fill="#6ad94f" />
<rect x="234.62" y="404.65" width="5.68" height="8.27" fill="#6ad94f" />
<rect x="245.38" y="404.65" width="2.99" height="8.27" fill="#6ad94f" />
<rect x="253.45" y="404.65" width="2.99" height="8.27" fill="#6ad94f" />
<rect x="258.83" y="404.65" width="2.99" height="8.27" fill="#d44fd4" />
<text transform="translate(75.80 412.24) scale(1 1.0)" font-size="9.6" text-anchor="end" font-weight="normal" fill="#000" stroke="#000" stroke-width="0.2" >19%</text>
<text transform="translate(304.80 412.24) scale(1 1.0)" font-size="9.65" text-anchor="start" font-weight="normal" fill="#000" stroke="#000" stroke-width="0.2" >STK11</text>
<rect x="81.29" y="412.62" width="2.99" height="8.27" fill="#d44fd4" />
<rect x="97.43" y="412.62" width="5.68" height="8.27" fill="#d44fd4" />
<rect x="105.50" y="412.62" width="2.99" height="8.27" fill="#d44fd4" />
<rect x="113.57" y="412.62" width="2.99" height="8.27" fill="#d44fd4" />
<rect x="124.33" y="412.62" width="2.99" height="8.27" fill="#d44fd4" />
<rect x="156.61" y="412.62" width="5.68" height="8.27" fill="#d44fd4" />
<rect x="167.37" y="412.62" width="2.99" height="8.27" fill="#d44fd4" />
<rect x="199.65" y="412.62" width="2.99" height="8.27" fill="#d44fd4" />
<rect x="205.03" y="412.62" width="2.99" height="8.27" fill="#d44fd4" />
<rect x="210.41" y="412.62" width="5.68" height="8.27" fill="#d44fd4" />
<rect x="221.17" y="412.62" width="2.99" height="8.27" fill="#d44fd4" />
<rect x="277.66" y="412.62" width="2.99" height="8.27" fill="#d44fd4" />
<text transform="translate(75.80 420.21) scale(1 1.0)" font-size="9.6" text-anchor="end" font-weight="normal" fill="#000" stroke="#000" stroke-width="0.2" >19%</text>
<text transform="translate(304.80 420.21) scale(1 1.0)" font-size="9.65" text-anchor="start" font-weight="normal" fill="#000" stroke="#000" stroke-width="0.2" >ZNF331</text>
<rect x="121.64" y="420.59" width="2.99" height="8.27" fill="#6ad94f" />
<rect x="148.54" y="420.59" width="2.99" height="8.27" fill="#0000ff" />
<rect x="167.37" y="420.59" width="2.99" height="8.27" fill="#0000ff" />
<rect x="172.75" y="420.59" width="2.99" height="8.27" fill="#6ad94f" />
<rect x="180.82" y="420.59" width="5.68" height="8.27" fill="#6ad94f" />
<rect x="188.89" y="420.59" width="2.99" height="8.27" fill="#0000ff" />
<rect x="196.96" y="420.59" width="2.99" height="8.27" fill="#6ad94f" />
<rect x="210.41" y="420.59" width="2.99" height="8.27" fill="#6ad94f" />
<rect x="215.79" y="420.59" width="2.99" height="8.27" fill="#6ad94f" />
<rect x="234.62" y="420.59" width="2.99" height="8.27" fill="#6ad94f" />
<rect x="248.07" y="420.59" width="5.68" height="8.27" fill="#6ad94f" />
<rect x="258.83" y="420.59" width="2.99" height="8.27" fill="#0000ff" />
<text transform="translate(75.80 428.18) scale(1 1.0)" font-size="9.6" text-anchor="end" font-weight="normal" fill="#000" stroke="#000" stroke-width="0.2" >17%</text>
<text transform="translate(304.80 428.18) scale(1 1.0)" font-size="9.65" text-anchor="start" font-weight="normal" fill="#000" stroke="#000" stroke-width="0.2" >MOB3B</text>
<rect x="83.98" y="428.56" width="2.99" height="8.27" fill="#0000ff" />
<rect x="89.36" y="428.56" width="2.99" height="8.27" fill="#0000ff" />
<rect x="121.64" y="428.56" width="2.99" height="8.27" fill="#0000ff" />
<rect x="129.71" y="428.56" width="2.99" height="8.27" fill="#0000ff" />
<rect x="143.16" y="428.56" width="2.99" height="8.27" fill="#0000ff" />
<rect x="148.54" y="428.56" width="2.99" height="8.27" fill="#0000ff" />
<rect x="167.37" y="428.56" width="2.99" height="8.27" fill="#0000ff" />
<rect x="191.58" y="428.56" width="2.99" height="8.27" fill="#0000ff" />
<rect x="207.72" y="428.56" width="2.99" height="8.27" fill="#0000ff" />
<rect x="213.10" y="428.56" width="2.99" height="8.27" fill="#0000ff" />
<rect x="223.86" y="428.56" width="2.99" height="8.27" fill="#0000ff" />
<rect x="258.83" y="428.56" width="2.99" height="8.27" fill="#0000ff" />
<rect x="288.42" y="428.56" width="2.99" height="8.27" fill="#0000ff" />
<text transform="translate(75.80 436.15) scale(1 1.0)" font-size="9.6" text-anchor="end" font-weight="normal" fill="#000" stroke="#000" stroke-width="0.2" >16%</text>
<text transform="translate(304.80 436.15) scale(1 1.0)" font-size="9.65" text-anchor="start" font-weight="normal" fill="#000" stroke="#000" stroke-width="0.2" >CDKN1A</text>
<rect x="102.81" y="436.53" width="2.99" height="8.27" fill="#6ad94f" />
<rect x="148.54" y="436.53" width="2.99" height="8.27" fill="#0000ff" />
<rect x="172.75" y="436.53" width="2.99" height="8.27" fill="#6ad94f" />
<rect x="178.13" y="436.53" width="5.68" height="8.27" fill="#d44fd4" />
<rect x="194.27" y="436.53" width="5.68" height="8.27" fill="#6ad94f" />
<rect x="218.48" y="436.53" width="2.99" height="8.27" fill="#ffa500" />
<rect x="229.24" y="436.53" width="2.99" height="8.27" fill="#6ad94f" />
<rect x="231.93" y="436.53" width="2.99" height="8.27" fill="#0000ff" />
<rect x="248.07" y="436.53" width="2.99" height="8.27" fill="#6ad94f" />
<rect x="272.28" y="436.53" width="2.99" height="8.27" fill="#d44fd4" />
<rect x="293.80" y="436.53" width="2.99" height="8.27" fill="#d44fd4" />
<text transform="translate(75.80 444.12) scale(1 1.0)" font-size="9.6" text-anchor="end" font-weight="normal" fill="#000" stroke="#000" stroke-width="0.2" >16%</text>
<text transform="translate(304.80 444.12) scale(1 1.0)" font-size="9.65" text-anchor="start" font-weight="normal" fill="#000" stroke="#000" stroke-width="0.2" >KDM4C</text>
<rect x="92.05" y="444.50" width="2.99" height="8.27" fill="#ffa500" />
<rect x="110.88" y="444.50" width="2.99" height="8.27" fill="#ffa500" />
<rect x="121.64" y="444.50" width="2.99" height="8.27" fill="#0000ff" />
<rect x="148.54" y="444.50" width="2.99" height="8.27" fill="#0000ff" />
<rect x="156.61" y="444.50" width="2.99" height="8.27" fill="#cd8a3c" />
<rect x="170.06" y="444.50" width="2.99" height="8.27" fill="#ffa500" />
<rect x="194.27" y="444.50" width="2.99" height="8.27" fill="#ffa500" />
<rect x="207.72" y="444.50" width="2.99" height="8.27" fill="#ffa500" />
<rect x="215.79" y="444.50" width="2.99" height="8.27" fill="#0000ff" />
<rect x="250.76" y="444.50" width="2.99" height="8.27" fill="#0000ff" />
<rect x="280.35" y="444.50" width="2.99" height="8.27" fill="#ffa500" />
<rect x="293.80" y="444.50" width="2.99" height="8.27" fill="#0000ff" />
<text transform="translate(75.80 452.09) scale(1 1.0)" font-size="9.6" text-anchor="end" font-weight="normal" fill="#000" stroke="#000" stroke-width="0.2" >15%</text>
<text transform="translate(304.80 452.09) scale(1 1.0)" font-size="9.65" text-anchor="start" font-weight="normal" fill="#000" stroke="#000" stroke-width="0.2" >PRSS1</text>
<rect x="102.81" y="452.47" width="2.99" height="8.27" fill="#d44fd4" />
<rect x="116.26" y="452.47" width="2.99" height="8.27" fill="#d44fd4" />
<rect x="148.54" y="452.47" width="2.99" height="8.27" fill="#d44fd4" />
<rect x="183.51" y="452.47" width="2.99" height="8.27" fill="#6878d0" />
<rect x="194.27" y="452.47" width="2.99" height="8.27" fill="#d44fd4" />
<rect x="199.65" y="452.47" width="2.99" height="8.27" fill="#d44fd4" />
<rect x="210.41" y="452.47" width="2.99" height="8.27" fill="#d44fd4" />
<rect x="218.48" y="452.47" width="2.99" height="8.27" fill="#d44fd4" />
<rect x="226.55" y="452.47" width="2.99" height="8.27" fill="#d44fd4" />
<rect x="237.31" y="452.47" width="5.68" height="8.27" fill="#d44fd4" />
<rect x="272.28" y="452.47" width="2.99" height="8.27" fill="#d44fd4" />
<text transform="translate(75.80 460.06) scale(1 1.0)" font-size="9.6" text-anchor="end" font-weight="normal" fill="#000" stroke="#000" stroke-width="0.2" >15%</text>
<text transform="translate(304.80 460.06) scale(1 1.0)" font-size="9.65" text-anchor="start" font-weight="normal" fill="#000" stroke="#000" stroke-width="0.2" >SPRTN</text>
<rect x="83.98" y="460.44" width="2.99" height="8.27" fill="#d44fd4" />
<rect x="108.19" y="460.44" width="2.99" height="8.27" fill="#d44fd4" />
<rect x="121.64" y="460.44" width="2.99" height="8.27" fill="#d44fd4" />
<rect x="127.02" y="460.44" width="2.99" height="8.27" fill="#d44fd4" />
<rect x="156.61" y="460.44" width="2.99" height="8.27" fill="#d44fd4" />
<rect x="170.06" y="460.44" width="2.99" height="8.27" fill="#d44fd4" />
<rect x="205.03" y="460.44" width="2.99" height="8.27" fill="#d44fd4" />
<rect x="221.17" y="460.44" width="2.99" height="8.27" fill="#d44fd4" />
<rect x="229.24" y="460.44" width="5.68" height="8.27" fill="#d44fd4" />
<rect x="272.28" y="460.44" width="2.99" height="8.27" fill="#d44fd4" />
<text transform="translate(75.80 468.03) scale(1 1.0)" font-size="9.6" text-anchor="end" font-weight="normal" fill="#000" stroke="#000" stroke-width="0.2" >14%</text>
<text transform="translate(304.80 468.03) scale(1 1.0)" font-size="9.65" text-anchor="start" font-weight="normal" fill="#000" stroke="#000" stroke-width="0.2" >ARID3B</text>
<rect x="113.57" y="468.41" width="2.99" height="8.27" fill="#6ad94f" />
<rect x="132.40" y="468.41" width="2.99" height="8.27" fill="#6ad94f" />
<rect x="148.54" y="468.41" width="2.99" height="8.27" fill="#6ad94f" />
<rect x="172.75" y="468.41" width="5.68" height="8.27" fill="#6ad94f" />
<rect x="188.89" y="468.41" width="2.99" height="8.27" fill="#6ad94f" />
<rect x="213.10" y="468.41" width="2.99" height="8.27" fill="#6ad94f" />
<rect x="218.48" y="468.41" width="2.99" height="8.27" fill="#6ad94f" />
<rect x="242.69" y="468.41" width="2.99" height="8.27" fill="#6ad94f" />
<rect x="274.97" y="468.41" width="2.99" height="8.27" fill="#6ad94f" />
<text transform="translate(75.80 476.00) scale(1 1.0)" font-size="9.6" text-anchor="end" font-weight="normal" fill="#000" stroke="#000" stroke-width="0.2" >12%</text>
<text transform="translate(304.80 476.00) scale(1 1.0)" font-size="9.65" text-anchor="start" font-weight="normal" fill="#000" stroke="#000" stroke-width="0.2" >BCL11B</text>
<rect x="97.43" y="476.38" width="2.99" height="8.27" fill="#d44fd4" />
<rect x="175.44" y="476.38" width="2.99" height="8.27" fill="#d44fd4" />
<rect x="183.51" y="476.38" width="2.99" height="8.27" fill="#d44fd4" />
<rect x="196.96" y="476.38" width="2.99" height="8.27" fill="#d44fd4" />
<rect x="199.65" y="476.38" width="2.99" height="8.27" fill="#cd8a3c" />
<rect x="205.03" y="476.38" width="2.99" height="8.27" fill="#cd8a3c" />
<rect x="210.41" y="476.38" width="2.99" height="8.27" fill="#d44fd4" />
<rect x="218.48" y="476.38" width="2.99" height="8.27" fill="#cd8a3c" />
<rect x="221.17" y="476.38" width="2.99" height="8.27" fill="#6878d0" />
<rect x="272.28" y="476.38" width="2.99" height="8.27" fill="#d44fd4" />
<text transform="translate(75.80 483.97) scale(1 1.0)" font-size="9.6" text-anchor="end" font-weight="normal" fill="#000" stroke="#000" stroke-width="0.2" >12%</text>
<text transform="translate(304.80 483.97) scale(1 1.0)" font-size="9.65" text-anchor="start" font-weight="normal" fill="#000" stroke="#000" stroke-width="0.2" >BRAF</text>
<rect x="81.29" y="484.35" width="2.99" height="8.27" fill="#6878d0" />
<rect x="108.19" y="484.35" width="2.99" height="8.27" fill="#ffa500" />
<rect x="118.95" y="484.35" width="2.99" height="8.27" fill="#ffa500" />
<rect x="124.33" y="484.35" width="2.99" height="8.27" fill="#6878d0" />
<rect x="135.09" y="484.35" width="2.99" height="8.27" fill="#ffa500" />
<rect x="140.47" y="484.35" width="2.99" height="8.27" fill="#6878d0" />
<rect x="167.37" y="484.35" width="2.99" height="8.27" fill="#3d2b42" />
<rect x="186.20" y="484.35" width="2.99" height="8.27" fill="#ffa500" />
<rect x="253.45" y="484.35" width="2.99" height="8.27" fill="#6878d0" />
<rect x="261.52" y="484.35" width="2.99" height="8.27" fill="#6878d0" />
<text transform="translate(75.80 491.94) scale(1 1.0)" font-size="9.6" text-anchor="end" font-weight="normal" fill="#000" stroke="#000" stroke-width="0.2" >12%</text>
<text transform="translate(304.80 491.94) scale(1 1.0)" font-size="9.65" text-anchor="start" font-weight="normal" fill="#000" stroke="#000" stroke-width="0.2" >CDKN2A</text>
<rect x="78.60" y="492.32" width="5.68" height="8.27" fill="#d44fd4" />
<rect x="86.67" y="492.32" width="2.99" height="8.27" fill="#ffa500" />
<rect x="113.57" y="492.32" width="2.99" height="8.27" fill="#d44fd4" />
<rect x="132.40" y="492.32" width="2.99" height="8.27" fill="#ffa500" />
<rect x="191.58" y="492.32" width="2.99" height="8.27" fill="#ffa500" />
<rect x="229.24" y="492.32" width="2.99" height="8.27" fill="#d44fd4" />
<rect x="240.00" y="492.32" width="2.99" height="8.27" fill="#ffa500" />
<rect x="245.38" y="492.32" width="2.99" height="8.27" fill="#d44fd4" />
<rect x="248.07" y="492.32" width="2.99" height="8.27" fill="#ffa500" />
<text transform="translate(75.80 499.91) scale(1 1.0)" font-size="9.6" text-anchor="end" font-weight="normal" fill="#000" stroke="#000" stroke-width="0.2" >12%</text>
<text transform="translate(304.80 499.91) scale(1 1.0)" font-size="9.65" text-anchor="start" font-weight="normal" fill="#000" stroke="#000" stroke-width="0.2" >DUSP22</text>
<rect x="97.43" y="500.29" width="2.99" height="8.27" fill="#d44fd4" />
<rect x="137.78" y="500.29" width="2.99" height="8.27" fill="#d44fd4" />
<rect x="140.47" y="500.29" width="2.99" height="8.27" fill="#ffa500" />
<rect x="161.99" y="500.29" width="2.99" height="8.27" fill="#d44fd4" />
<rect x="194.27" y="500.29" width="2.99" height="8.27" fill="#ffa500" />
<rect x="213.10" y="500.29" width="2.99" height="8.27" fill="#d44fd4" />
<rect x="218.48" y="500.29" width="2.99" height="8.27" fill="#d44fd4" />
<rect x="231.93" y="500.29" width="2.99" height="8.27" fill="#d44fd4" />
<rect x="242.69" y="500.29" width="2.99" height="8.27" fill="#d44fd4" />
<rect x="258.83" y="500.29" width="2.99" height="8.27" fill="#d44fd4" />
<text transform="translate(75.80 507.88) scale(1 1.0)" font-size="9.6" text-anchor="end" font-weight="normal" fill="#000" stroke="#000" stroke-width="0.2" >12%</text>
<text transform="translate(304.80 507.88) scale(1 1.0)" font-size="9.65" text-anchor="start" font-weight="normal" fill="#000" stroke="#000" stroke-width="0.2" >HLA−C</text>
<rect x="89.36" y="508.26" width="2.99" height="8.27" fill="#0000ff" />
<rect x="121.64" y="508.26" width="2.99" height="8.27" fill="#6ad94f" />
<rect x="137.78" y="508.26" width="2.99" height="8.27" fill="#6ad94f" />
<rect x="156.61" y="508.26" width="2.99" height="8.27" fill="#6ad94f" />
<rect x="183.51" y="508.26" width="2.99" height="8.27" fill="#6ad94f" />
<rect x="199.65" y="508.26" width="2.99" height="8.27" fill="#6ad94f" />
<rect x="210.41" y="508.26" width="2.99" height="8.27" fill="#ffa500" />
<rect x="258.83" y="508.26" width="2.99" height="8.27" fill="#6ad94f" />
<rect x="274.97" y="508.26" width="5.68" height="8.27" fill="#6ad94f" />
<text transform="translate(75.80 515.85) scale(1 1.0)" font-size="9.6" text-anchor="end" font-weight="normal" fill="#000" stroke="#000" stroke-width="0.2" >12%</text>
<text transform="translate(304.80 515.85) scale(1 1.0)" font-size="9.65" text-anchor="start" font-weight="normal" fill="#000" stroke="#000" stroke-width="0.2" >MAP3K13</text>
<rect x="94.74" y="516.23" width="2.99" height="8.27" fill="#d44fd4" />
<rect x="116.26" y="516.23" width="2.99" height="8.27" fill="#ffa500" />
<rect x="118.95" y="516.23" width="2.99" height="8.27" fill="#d44fd4" />
<rect x="132.40" y="516.23" width="2.99" height="8.27" fill="#6878d0" />
<rect x="145.85" y="516.23" width="2.99" height="8.27" fill="#6878d0" />
<rect x="156.61" y="516.23" width="2.99" height="8.27" fill="#ffa500" />
<rect x="175.44" y="516.23" width="2.99" height="8.27" fill="#ffa500" />
<rect x="196.96" y="516.23" width="2.99" height="8.27" fill="#ffa500" />
<rect x="234.62" y="516.23" width="2.99" height="8.27" fill="#ffa500" />
<rect x="266.90" y="516.23" width="2.99" height="8.27" fill="#ffa500" />
<text transform="translate(75.80 523.82) scale(1 1.0)" font-size="9.6" text-anchor="end" font-weight="normal" fill="#000" stroke="#000" stroke-width="0.2" >12%</text>
<text transform="translate(304.80 523.82) scale(1 1.0)" font-size="9.65" text-anchor="start" font-weight="normal" fill="#000" stroke="#000" stroke-width="0.2" >MGAM</text>
<rect x="118.95" y="524.20" width="2.99" height="8.27" fill="#6ad94f" />
<rect x="121.64" y="524.20" width="2.99" height="8.27" fill="#0000ff" />
<rect x="124.33" y="524.20" width="2.99" height="8.27" fill="#6ad94f" />
<rect x="132.40" y="524.20" width="2.99" height="8.27" fill="#6ad94f" />
<rect x="156.61" y="524.20" width="2.99" height="8.27" fill="#d44fd4" />
<rect x="183.51" y="524.20" width="2.99" height="8.27" fill="#d44fd4" />
<rect x="194.27" y="524.20" width="2.99" height="8.27" fill="#d44fd4" />
<rect x="210.41" y="524.20" width="2.99" height="8.27" fill="#6ad94f" />
<rect x="229.24" y="524.20" width="2.99" height="8.27" fill="#d44fd4" />
<rect x="250.76" y="524.20" width="2.99" height="8.27" fill="#6ad94f" />
<text transform="translate(75.80 531.79) scale(1 1.0)" font-size="9.6" text-anchor="end" font-weight="normal" fill="#000" stroke="#000" stroke-width="0.2" >12%</text>
<text transform="translate(304.80 531.79) scale(1 1.0)" font-size="9.65" text-anchor="start" font-weight="normal" fill="#000" stroke="#000" stroke-width="0.2" >PBX1</text>
<rect x="121.64" y="532.17" width="2.99" height="8.27" fill="#d44fd4" />
<rect x="129.71" y="532.17" width="2.99" height="8.27" fill="#ffa500" />
<rect x="148.54" y="532.17" width="2.99" height="8.27" fill="#d44fd4" />
<rect x="175.44" y="532.17" width="2.99" height="8.27" fill="#d44fd4" />
<rect x="178.13" y="532.17" width="2.99" height="8.27" fill="#ffa500" />
<rect x="180.82" y="532.17" width="2.99" height="8.27" fill="#d44fd4" />
<rect x="207.72" y="532.17" width="2.99" height="8.27" fill="#d44fd4" />
<rect x="242.69" y="532.17" width="5.68" height="8.27" fill="#ffa500" />
<rect x="258.83" y="532.17" width="2.99" height="8.27" fill="#ffa500" />
<text transform="translate(75.80 539.76) scale(1 1.0)" font-size="9.6" text-anchor="end" font-weight="normal" fill="#000" stroke="#000" stroke-width="0.2" >12%</text>
<text transform="translate(304.80 539.76) scale(1 1.0)" font-size="9.65" text-anchor="start" font-weight="normal" fill="#000" stroke="#000" stroke-width="0.2" >PIK3CA</text>
<rect x="100.12" y="540.14" width="2.99" height="8.27" fill="#6ad94f" />
<rect x="137.78" y="540.14" width="5.68" height="8.27" fill="#6ad94f" />
<rect x="156.61" y="540.14" width="2.99" height="8.27" fill="#6ad94f" />
<rect x="178.13" y="540.14" width="5.68" height="8.27" fill="#6ad94f" />
<rect x="194.27" y="540.14" width="5.68" height="8.27" fill="#6ad94f" />
<rect x="202.34" y="540.14" width="2.99" height="8.27" fill="#6ad94f" />
<rect x="266.90" y="540.14" width="2.99" height="8.27" fill="#6ad94f" />
<text transform="translate(75.80 547.73) scale(1 1.0)" font-size="9.6" text-anchor="end" font-weight="normal" fill="#000" stroke="#000" stroke-width="0.2" >12%</text>
<text transform="translate(304.80 547.73) scale(1 1.0)" font-size="9.65" text-anchor="start" font-weight="normal" fill="#000" stroke="#000" stroke-width="0.2" >PPP6C</text>
<rect x="42.00" y="283.40" width="316.00" height="1.60" fill="#9a9a9a" />
<text transform="translate(51.4,210.1) rotate(-90)" font-size="12.75" text-anchor="middle" stroke="#000" stroke-width="0.2">Panel genes</text>
<text transform="translate(51.6,417.8) rotate(-90)" font-size="13.5" text-anchor="middle" stroke="#000" stroke-width="0.2">Non-panel genes</text>
<text transform="translate(411.70 76.50) scale(1 1.0)" font-size="9.8" text-anchor="start" font-weight="normal" fill="#000" stroke="#000" stroke-width="0.2" >Mutation Types</text>
<rect x="411.10" y="82.00" width="11.30" height="11.05" fill="#d44fd4" />
<text transform="translate(425.40 91.20) scale(1 1.0)" font-size="9.8" text-anchor="start" font-weight="normal" fill="#000" stroke="#000" stroke-width="0.2" >3-prime UTR variant</text>
<rect x="411.10" y="93.05" width="11.30" height="11.05" fill="#cc4477" />
<text transform="translate(425.40 102.25) scale(1 1.0)" font-size="9.8" text-anchor="start" font-weight="normal" fill="#000" stroke="#000" stroke-width="0.2" >Synonymous variant</text>
<rect x="411.10" y="104.10" width="11.30" height="11.05" fill="#00cccc" />
<text transform="translate(425.40 113.30) scale(1 1.0)" font-size="9.8" text-anchor="start" font-weight="normal" fill="#000" stroke="#000" stroke-width="0.2" >Intron variant</text>
<rect x="411.10" y="115.15" width="11.30" height="11.05" fill="#ffa500" />
<text transform="translate(425.40 124.35) scale(1 1.0)" font-size="9.8" text-anchor="start" font-weight="normal" fill="#000" stroke="#000" stroke-width="0.2" >Missense variant</text>
<rect x="411.10" y="126.20" width="11.30" height="11.05" fill="#0000ff" />
<text transform="translate(425.40 135.40) scale(1 1.0)" font-size="9.8" text-anchor="start" font-weight="normal" fill="#000" stroke="#000" stroke-width="0.2" >2kb upstream variant</text>
<rect x="411.10" y="137.25" width="11.30" height="11.05" fill="#6ad94f" />
<text transform="translate(425.40 146.45) scale(1 1.0)" font-size="9.8" text-anchor="start" font-weight="normal" fill="#000" stroke="#000" stroke-width="0.2" >5-prime UTR variant</text>
<rect x="411.10" y="148.30" width="11.30" height="11.05" fill="#6aa8c4" />
<text transform="translate(425.40 157.50) scale(1 1.0)" font-size="9.8" text-anchor="start" font-weight="normal" fill="#000" stroke="#000" stroke-width="0.2" >Inframe insertion</text>
<rect x="411.10" y="159.35" width="11.30" height="11.05" fill="#3d2b42" />
<text transform="translate(425.40 168.55) scale(1 1.0)" font-size="9.8" text-anchor="start" font-weight="normal" fill="#000" stroke="#000" stroke-width="0.2" >Splice site variant</text>
<rect x="411.10" y="170.40" width="11.30" height="11.05" fill="#ffff00" />
<text transform="translate(425.40 179.60) scale(1 1.0)" font-size="9.8" text-anchor="start" font-weight="normal" fill="#000" stroke="#000" stroke-width="0.2" >Frameshift truncation</text>
<rect x="411.10" y="181.45" width="11.30" height="11.05" fill="#6878d0" />
<text transform="translate(425.40 190.65) scale(1 1.0)" font-size="9.8" text-anchor="start" font-weight="normal" fill="#000" stroke="#000" stroke-width="0.2" >Stop gained</text>
<rect x="411.10" y="192.50" width="11.30" height="11.05" fill="#cd8a3c" />
<text transform="translate(425.40 201.70) scale(1 1.0)" font-size="9.8" text-anchor="start" font-weight="normal" fill="#000" stroke="#000" stroke-width="0.2" >2kb downstream variant</text>
<rect x="411.10" y="203.55" width="11.30" height="11.05" fill="#d49888" />
<text transform="translate(425.40 212.75) scale(1 1.0)" font-size="9.8" text-anchor="start" font-weight="normal" fill="#000" stroke="#000" stroke-width="0.2" >Frameshift elongation</text>
<rect x="411.10" y="214.60" width="11.30" height="11.05" fill="#58daa2" />
<text transform="translate(425.40 223.80) scale(1 1.0)" font-size="9.8" text-anchor="start" font-weight="normal" fill="#000" stroke="#000" stroke-width="0.2" >Start lost</text>
<rect x="411.10" y="225.65" width="11.30" height="11.05" fill="#e0543a" />
<text transform="translate(425.40 234.85) scale(1 1.0)" font-size="9.8" text-anchor="start" font-weight="normal" fill="#000" stroke="#000" stroke-width="0.2" >Stop lost</text>
<text transform="translate(540.20 76.70) scale(1 1.0)" font-size="9.8" text-anchor="start" font-weight="normal" fill="#000" stroke="#000" stroke-width="0.2" >Tissue Type</text>
<rect x="540.20" y="82.00" width="10.50" height="10.70" fill="#cccccc" />
<rect x="540.20" y="92.70" width="10.50" height="10.50" fill="#333333" />
<text transform="translate(553.70 90.80) scale(1 1.0)" font-size="9.8" text-anchor="start" font-weight="normal" fill="#000" stroke="#000" stroke-width="0.2" >Normal</text>
<text transform="translate(553.70 101.40) scale(1 1.0)" font-size="9.8" text-anchor="start" font-weight="normal" fill="#000" stroke="#000" stroke-width="0.2" >Tumor</text>
<text transform="translate(540.20 123.00) scale(1 1.0)" font-size="9.8" text-anchor="start" font-weight="normal" fill="#000" stroke="#000" stroke-width="0.2" >p16 status</text>
<rect x="540.20" y="128.40" width="10.50" height="10.20" fill="#9dd3a0" />
<rect x="540.20" y="138.60" width="10.50" height="10.80" fill="#006400" />
<text transform="translate(553.70 137.50) scale(1 1.0)" font-size="9.8" text-anchor="start" font-weight="normal" fill="#000" stroke="#000" stroke-width="0.2" >p16−</text>
<text transform="translate(553.70 148.10) scale(1 1.0)" font-size="9.8" text-anchor="start" font-weight="normal" fill="#000" stroke="#000" stroke-width="0.2" >p16+</text>
<text transform="translate(540.20 167.90) scale(1 1.0)" font-size="9.8" text-anchor="start" font-weight="normal" fill="#000" stroke="#000" stroke-width="0.2" >Baseline ctDNA status</text>
<rect x="540.20" y="174.00" width="10.50" height="10.70" fill="#cc4470" />
<rect x="540.20" y="184.70" width="10.50" height="10.30" fill="#fffacd" />
<text transform="translate(553.70 182.60) scale(1 1.0)" font-size="9.8" text-anchor="start" font-weight="normal" fill="#000" stroke="#000" stroke-width="0.2" >ctDNA +ve</text>
<text transform="translate(553.70 193.20) scale(1 1.0)" font-size="9.8" text-anchor="start" font-weight="normal" fill="#000" stroke="#000" stroke-width="0.2" >ctDNA −ve</text>
<text transform="translate(414.30 325.00) scale(1 1.0)" font-size="20" text-anchor="start" font-weight="bold" fill="#000" >B</text>
<line x1="466.60" y1="473.90" x2="684.40" y2="473.90" stroke="#f4f4f4" stroke-width="0.6" />
<line x1="466.60" y1="422.90" x2="684.40" y2="422.90" stroke="#f4f4f4" stroke-width="0.6" />
<line x1="466.60" y1="371.90" x2="684.40" y2="371.90" stroke="#f4f4f4" stroke-width="0.6" />
<line x1="466.60" y1="499.40" x2="684.40" y2="499.40" stroke="#ebebeb" stroke-width="0.9" />
<line x1="466.60" y1="448.40" x2="684.40" y2="448.40" stroke="#ebebeb" stroke-width="0.9" />
<line x1="466.60" y1="397.40" x2="684.40" y2="397.40" stroke="#ebebeb" stroke-width="0.9" />
<line x1="466.60" y1="346.40" x2="684.40" y2="346.40" stroke="#ebebeb" stroke-width="0.9" />
<line x1="525.70" y1="327.30" x2="525.70" y2="523.70" stroke="#ebebeb" stroke-width="0.9" />
<line x1="625.90" y1="327.30" x2="625.90" y2="523.70" stroke="#ebebeb" stroke-width="0.9" />
<line x1="525.85" y1="466.80" x2="525.85" y2="476.40" stroke="#4d4d4d" stroke-width="0.8" />
<rect x="496.10" y="476.40" width="59.50" height="19.00" fill="#fff" stroke="#4d4d4d" stroke-width="0.8"/>
<line x1="496.10" y1="492.10" x2="555.60" y2="492.10" stroke="#333" stroke-width="1.4" />
<line x1="625.55" y1="426.10" x2="625.55" y2="463.60" stroke="#4d4d4d" stroke-width="0.8" />
<line x1="625.55" y1="494.80" x2="625.55" y2="507.00" stroke="#4d4d4d" stroke-width="0.8" />
<rect x="595.30" y="463.60" width="60.50" height="31.20" fill="#fff" stroke="#4d4d4d" stroke-width="0.8"/>
<line x1="595.30" y1="481.60" x2="655.80" y2="481.60" stroke="#333" stroke-width="1.4" />
<circle cx="520.12" cy="466.85" r="0.75" fill="#7ea4dc"/>
<circle cx="525.05" cy="471.77" r="0.75" fill="#7ea4dc"/>
<circle cx="532.93" cy="466.85" r="0.75" fill="#7ea4dc"/>
<circle cx="530.63" cy="490.17" r="0.75" fill="#7ea4dc"/>
<circle cx="532.93" cy="490.83" r="0.75" fill="#7ea4dc"/>
<circle cx="528.99" cy="494.11" r="0.75" fill="#7ea4dc"/>
<circle cx="516.50" cy="494.77" r="0.75" fill="#7ea4dc"/>
<circle cx="527.35" cy="497.40" r="0.75" fill="#7ea4dc"/>
<circle cx="525.70" cy="500.03" r="0.75" fill="#7ea4dc"/>
<circle cx="516.50" cy="500.03" r="0.75" fill="#7ea4dc"/>
<circle cx="634.08" cy="371.92" r="0.75" fill="#b31b1b"/>
<circle cx="628.53" cy="402.94" r="0.75" fill="#b31b1b"/>
<circle cx="624.78" cy="409.31" r="0.75" fill="#b31b1b"/>
<circle cx="615.80" cy="414.69" r="0.75" fill="#b31b1b"/>
<circle cx="628.53" cy="426.61" r="0.75" fill="#b31b1b"/>
<circle cx="634.90" cy="428.73" r="0.75" fill="#b31b1b"/>
<circle cx="635.06" cy="447.02" r="0.75" fill="#b31b1b"/>
<circle cx="628.86" cy="450.29" r="0.75" fill="#b31b1b"/>
<circle cx="631.80" cy="452.73" r="0.75" fill="#b31b1b"/>
<circle cx="616.45" cy="457.63" r="0.75" fill="#b31b1b"/>
<circle cx="616.61" cy="458.45" r="0.75" fill="#b31b1b"/>
<circle cx="619.88" cy="461.06" r="0.75" fill="#b31b1b"/>
<circle cx="633.76" cy="459.43" r="0.75" fill="#b31b1b"/>
<circle cx="623.80" cy="463.02" r="0.75" fill="#b31b1b"/>
<circle cx="625.43" cy="463.02" r="0.75" fill="#b31b1b"/>
<circle cx="628.86" cy="463.02" r="0.75" fill="#b31b1b"/>
<circle cx="634.73" cy="462.69" r="0.75" fill="#b31b1b"/>
<circle cx="632.12" cy="466.12" r="0.75" fill="#b31b1b"/>
<circle cx="634.41" cy="465.47" r="0.75" fill="#b31b1b"/>
<circle cx="623.80" cy="467.76" r="0.75" fill="#b31b1b"/>
<circle cx="621.02" cy="469.39" r="0.75" fill="#b31b1b"/>
<circle cx="620.53" cy="469.71" r="0.75" fill="#b31b1b"/>
<circle cx="617.10" cy="472.33" r="0.75" fill="#b31b1b"/>
<circle cx="635.06" cy="472.00" r="0.75" fill="#b31b1b"/>
<circle cx="622.98" cy="473.96" r="0.75" fill="#b31b1b"/>
<circle cx="616.61" cy="475.10" r="0.75" fill="#b31b1b"/>
<circle cx="615.63" cy="476.41" r="0.75" fill="#b31b1b"/>
<circle cx="629.51" cy="475.27" r="0.75" fill="#b31b1b"/>
<circle cx="631.31" cy="475.27" r="0.75" fill="#b31b1b"/>
<circle cx="623.96" cy="476.90" r="0.75" fill="#b31b1b"/>
<circle cx="633.76" cy="477.22" r="0.75" fill="#b31b1b"/>
<circle cx="616.45" cy="481.31" r="0.75" fill="#b31b1b"/>
<circle cx="622.98" cy="482.12" r="0.75" fill="#b31b1b"/>
<circle cx="628.04" cy="480.98" r="0.75" fill="#b31b1b"/>
<circle cx="631.96" cy="482.29" r="0.75" fill="#b31b1b"/>
<circle cx="634.73" cy="484.90" r="0.75" fill="#b31b1b"/>
<circle cx="619.71" cy="486.53" r="0.75" fill="#b31b1b"/>
<circle cx="626.90" cy="487.02" r="0.75" fill="#b31b1b"/>
<circle cx="628.69" cy="486.69" r="0.75" fill="#b31b1b"/>
<circle cx="621.84" cy="488.65" r="0.75" fill="#b31b1b"/>
<circle cx="629.18" cy="488.98" r="0.75" fill="#b31b1b"/>
<circle cx="631.80" cy="488.49" r="0.75" fill="#b31b1b"/>
<circle cx="628.53" cy="489.63" r="0.75" fill="#b31b1b"/>
<circle cx="625.59" cy="490.61" r="0.75" fill="#b31b1b"/>
<circle cx="615.63" cy="491.92" r="0.75" fill="#b31b1b"/>
<circle cx="621.51" cy="491.92" r="0.75" fill="#b31b1b"/>
<circle cx="626.08" cy="492.24" r="0.75" fill="#b31b1b"/>
<circle cx="632.45" cy="494.20" r="0.75" fill="#b31b1b"/>
<circle cx="617.43" cy="495.67" r="0.75" fill="#b31b1b"/>
<circle cx="620.37" cy="495.67" r="0.75" fill="#b31b1b"/>
<circle cx="625.92" cy="496.00" r="0.75" fill="#b31b1b"/>
<circle cx="617.43" cy="498.12" r="0.75" fill="#b31b1b"/>
<circle cx="626.24" cy="498.45" r="0.75" fill="#b31b1b"/>
<circle cx="629.84" cy="497.63" r="0.75" fill="#b31b1b"/>
<circle cx="626.90" cy="500.41" r="0.75" fill="#b31b1b"/>
<circle cx="625.43" cy="501.71" r="0.75" fill="#b31b1b"/>
<circle cx="615.96" cy="502.69" r="0.75" fill="#b31b1b"/>
<circle cx="619.88" cy="503.18" r="0.75" fill="#b31b1b"/>
<circle cx="623.47" cy="503.18" r="0.75" fill="#b31b1b"/>
<circle cx="616.45" cy="503.84" r="0.75" fill="#b31b1b"/>
<circle cx="625.92" cy="503.67" r="0.75" fill="#b31b1b"/>
<circle cx="635.06" cy="503.02" r="0.75" fill="#b31b1b"/>
<circle cx="619.71" cy="505.14" r="0.75" fill="#b31b1b"/>
<circle cx="635.06" cy="505.80" r="0.75" fill="#b31b1b"/>
<circle cx="631.14" cy="507.27" r="0.75" fill="#b31b1b"/>
<rect x="466.60" y="327.30" width="217.80" height="196.40" fill="none" stroke="#a5a5a5" stroke-width="1.05"/>
<line x1="464.50" y1="499.40" x2="466.60" y2="499.40" stroke="#333" stroke-width="0.7" />
<text transform="translate(464.00 502.10) scale(1 1.0)" font-size="7.9" text-anchor="end" font-weight="normal" fill="#1a1a1a" stroke="#1a1a1a" stroke-width="0.2" >10</text>
<line x1="464.50" y1="448.40" x2="466.60" y2="448.40" stroke="#333" stroke-width="0.7" />
<text transform="translate(464.00 451.10) scale(1 1.0)" font-size="7.9" text-anchor="end" font-weight="normal" fill="#1a1a1a" stroke="#1a1a1a" stroke-width="0.2" >20</text>
<line x1="464.50" y1="397.40" x2="466.60" y2="397.40" stroke="#333" stroke-width="0.7" />
<text transform="translate(464.00 400.10) scale(1 1.0)" font-size="7.9" text-anchor="end" font-weight="normal" fill="#1a1a1a" stroke="#1a1a1a" stroke-width="0.2" >30</text>
<line x1="464.50" y1="346.40" x2="466.60" y2="346.40" stroke="#333" stroke-width="0.7" />
<text transform="translate(464.00 349.10) scale(1 1.0)" font-size="7.9" text-anchor="end" font-weight="normal" fill="#1a1a1a" stroke="#1a1a1a" stroke-width="0.2" >40</text>
<line x1="525.70" y1="523.70" x2="525.70" y2="525.80" stroke="#333" stroke-width="0.7" />
<text transform="translate(525.70 535.00) scale(1 1.0)" font-size="7.9" text-anchor="middle" font-weight="normal" fill="#1a1a1a" stroke="#1a1a1a" stroke-width="0.2" >ctDNA -ve</text>
<line x1="625.90" y1="523.70" x2="625.90" y2="525.80" stroke="#333" stroke-width="0.7" />
<text transform="translate(625.90 535.00) scale(1 1.0)" font-size="7.9" text-anchor="middle" font-weight="normal" fill="#1a1a1a" stroke="#1a1a1a" stroke-width="0.2" >ctDNA +ve</text>
<text transform="translate(444.9,425.0) rotate(-90)" font-size="8.1" text-anchor="middle" fill="#111" stroke="#111" stroke-width="0.2">TMB (Mutations/coding Mb)</text>
<path d="M525.70,351.20 V347.30 H625.90 V351.20" fill="none" stroke="#333" stroke-width="0.8"/>
<text transform="translate(576.60 344.60) scale(1 1.0)" font-size="7.1" text-anchor="middle" font-weight="normal" fill="#111" stroke="#111" stroke-width="0.2" >p = 0.042</text>
<text transform="translate(33.00 645.20) scale(1 1.0)" font-size="20" text-anchor="start" font-weight="bold" fill="#000" >C</text>
<line x1="77.70" y1="788.23" x2="288.40" y2="788.23" stroke="#f4f4f4" stroke-width="0.6" />
<line x1="77.70" y1="754.50" x2="288.40" y2="754.50" stroke="#f4f4f4" stroke-width="0.6" />
<line x1="77.70" y1="720.77" x2="288.40" y2="720.77" stroke="#f4f4f4" stroke-width="0.6" />
<line x1="77.70" y1="687.04" x2="288.40" y2="687.04" stroke="#f4f4f4" stroke-width="0.6" />
<line x1="77.70" y1="653.30" x2="288.40" y2="653.30" stroke="#f4f4f4" stroke-width="0.6" />
<line x1="77.70" y1="805.10" x2="288.40" y2="805.10" stroke="#ebebeb" stroke-width="0.9" />
<line x1="77.70" y1="771.37" x2="288.40" y2="771.37" stroke="#ebebeb" stroke-width="0.9" />
<line x1="77.70" y1="737.63" x2="288.40" y2="737.63" stroke="#ebebeb" stroke-width="0.9" />
<line x1="77.70" y1="703.90" x2="288.40" y2="703.90" stroke="#ebebeb" stroke-width="0.9" />
<line x1="77.70" y1="670.17" x2="288.40" y2="670.17" stroke="#ebebeb" stroke-width="0.9" />
<line x1="134.60" y1="649.70" x2="134.60" y2="812.20" stroke="#ebebeb" stroke-width="0.9" />
<line x1="231.20" y1="649.70" x2="231.20" y2="812.20" stroke="#ebebeb" stroke-width="0.9" />
<line x1="135.10" y1="766.50" x2="135.10" y2="773.40" stroke="#4d4d4d" stroke-width="0.8" />
<rect x="111.10" y="773.40" width="48.00" height="8.10" fill="#fff" stroke="#4d4d4d" stroke-width="0.8"/>
<line x1="111.10" y1="781.30" x2="159.10" y2="781.30" stroke="#333" stroke-width="1.4" />
<line x1="230.80" y1="685.20" x2="230.80" y2="716.60" stroke="#4d4d4d" stroke-width="0.8" />
<line x1="230.80" y1="739.30" x2="230.80" y2="766.50" stroke="#4d4d4d" stroke-width="0.8" />
<rect x="206.80" y="716.60" width="48.00" height="22.70" fill="#fff" stroke="#4d4d4d" stroke-width="0.8"/>
<line x1="206.80" y1="727.70" x2="254.80" y2="727.70" stroke="#333" stroke-width="1.4" />
<circle cx="136.06" cy="766.50" r="1.0" fill="#7ea4dc"/>
<circle cx="130.51" cy="780.93" r="1.0" fill="#7ea4dc"/>
<circle cx="136.89" cy="781.48" r="1.0" fill="#7ea4dc"/>
<circle cx="230.65" cy="685.23" r="1.0" fill="#b31b1b"/>
<circle cx="228.99" cy="691.05" r="1.0" fill="#b31b1b"/>
<circle cx="225.38" cy="692.44" r="1.0" fill="#b31b1b"/>
<circle cx="225.66" cy="693.83" r="1.0" fill="#b31b1b"/>
<circle cx="238.14" cy="694.94" r="1.0" fill="#b31b1b"/>
<circle cx="234.54" cy="697.71" r="1.0" fill="#b31b1b"/>
<circle cx="228.16" cy="716.57" r="1.0" fill="#b31b1b"/>
<circle cx="230.10" cy="716.02" r="1.0" fill="#b31b1b"/>
<circle cx="229.26" cy="717.96" r="1.0" fill="#b31b1b"/>
<circle cx="235.37" cy="717.13" r="1.0" fill="#b31b1b"/>
<circle cx="237.59" cy="717.13" r="1.0" fill="#b31b1b"/>
<circle cx="232.59" cy="719.35" r="1.0" fill="#b31b1b"/>
<circle cx="235.09" cy="721.29" r="1.0" fill="#b31b1b"/>
<circle cx="235.37" cy="723.79" r="1.0" fill="#b31b1b"/>
<circle cx="232.04" cy="728.50" r="1.0" fill="#b31b1b"/>
<circle cx="238.70" cy="728.22" r="1.0" fill="#b31b1b"/>
<circle cx="235.37" cy="731.00" r="1.0" fill="#b31b1b"/>
<circle cx="227.05" cy="733.22" r="1.0" fill="#b31b1b"/>
<circle cx="231.21" cy="734.60" r="1.0" fill="#b31b1b"/>
<circle cx="232.59" cy="734.88" r="1.0" fill="#b31b1b"/>
<circle cx="238.14" cy="734.60" r="1.0" fill="#b31b1b"/>
<circle cx="223.99" cy="739.32" r="1.0" fill="#b31b1b"/>
<circle cx="227.88" cy="739.60" r="1.0" fill="#b31b1b"/>
<circle cx="232.32" cy="738.77" r="1.0" fill="#b31b1b"/>
<circle cx="233.15" cy="743.20" r="1.0" fill="#b31b1b"/>
<circle cx="226.21" cy="744.87" r="1.0" fill="#b31b1b"/>
<circle cx="227.05" cy="745.98" r="1.0" fill="#b31b1b"/>
<circle cx="231.76" cy="749.86" r="1.0" fill="#b31b1b"/>
<circle cx="238.14" cy="757.91" r="1.0" fill="#b31b1b"/>
<circle cx="232.59" cy="767.06" r="1.0" fill="#b31b1b"/>
<circle cx="235.92" cy="773.72" r="1.0" fill="#b31b1b"/>
<rect x="77.70" y="649.70" width="210.70" height="162.50" fill="none" stroke="#a5a5a5" stroke-width="1.05"/>
<line x1="75.60" y1="805.10" x2="77.70" y2="805.10" stroke="#333" stroke-width="0.7" />
<text transform="translate(74.20 807.80) scale(1 1.0)" font-size="7.6" text-anchor="end" font-weight="normal" fill="#4d4d4d" stroke="#4d4d4d" stroke-width="0.2" >0</text>
<line x1="75.60" y1="771.37" x2="77.70" y2="771.37" stroke="#333" stroke-width="0.7" />
<text transform="translate(74.20 774.07) scale(1 1.0)" font-size="7.6" text-anchor="end" font-weight="normal" fill="#4d4d4d" stroke="#4d4d4d" stroke-width="0.2" >25</text>
<line x1="75.60" y1="737.63" x2="77.70" y2="737.63" stroke="#333" stroke-width="0.7" />
<text transform="translate(74.20 740.34) scale(1 1.0)" font-size="7.6" text-anchor="end" font-weight="normal" fill="#4d4d4d" stroke="#4d4d4d" stroke-width="0.2" >50</text>
<line x1="75.60" y1="703.90" x2="77.70" y2="703.90" stroke="#333" stroke-width="0.7" />
<text transform="translate(74.20 706.60) scale(1 1.0)" font-size="7.6" text-anchor="end" font-weight="normal" fill="#4d4d4d" stroke="#4d4d4d" stroke-width="0.2" >75</text>
<line x1="75.60" y1="670.17" x2="77.70" y2="670.17" stroke="#333" stroke-width="0.7" />
<text transform="translate(74.20 672.87) scale(1 1.0)" font-size="7.6" text-anchor="end" font-weight="normal" fill="#4d4d4d" stroke="#4d4d4d" stroke-width="0.2" >100</text>
<line x1="134.60" y1="812.20" x2="134.60" y2="814.30" stroke="#333" stroke-width="0.7" />
<text transform="translate(134.60 821.40) scale(1 1.0)" font-size="7.75" text-anchor="middle" font-weight="normal" fill="#4d4d4d" stroke="#4d4d4d" stroke-width="0.2" >ctDNA -ve</text>
<line x1="231.20" y1="812.20" x2="231.20" y2="814.30" stroke="#333" stroke-width="0.7" />
<text transform="translate(231.20 821.40) scale(1 1.0)" font-size="7.75" text-anchor="middle" font-weight="normal" fill="#4d4d4d" stroke="#4d4d4d" stroke-width="0.2" >ctDNA +ve</text>
<text transform="translate(55.2,730.4) rotate(-90)" font-size="8.8" text-anchor="middle" fill="#111" stroke="#111" stroke-width="0.2">Ki-67 (%)</text>
<path d="M134.60,676.00 V673.60 H231.20 V676.00" fill="none" stroke="#333" stroke-width="0.8"/>
<text transform="translate(182.85 669.60) scale(1 1.12)" font-size="6.6" text-anchor="middle" font-weight="normal" fill="#111" stroke="#111" stroke-width="0.2" >p = 0.0071</text>
<text transform="translate(416.00 645.70) scale(1 1.0)" font-size="20" text-anchor="start" font-weight="bold" fill="#000" >D</text>
<line x1="466.60" y1="785.70" x2="682.70" y2="785.70" stroke="#f4f4f4" stroke-width="0.6" />
<line x1="466.60" y1="747.70" x2="682.70" y2="747.70" stroke="#f4f4f4" stroke-width="0.6" />
<line x1="466.60" y1="709.70" x2="682.70" y2="709.70" stroke="#f4f4f4" stroke-width="0.6" />
<line x1="466.60" y1="671.70" x2="682.70" y2="671.70" stroke="#f4f4f4" stroke-width="0.6" />
<line x1="466.60" y1="804.70" x2="682.70" y2="804.70" stroke="#ebebeb" stroke-width="0.9" />
<line x1="466.60" y1="766.70" x2="682.70" y2="766.70" stroke="#ebebeb" stroke-width="0.9" />
<line x1="466.60" y1="728.70" x2="682.70" y2="728.70" stroke="#ebebeb" stroke-width="0.9" />
<line x1="466.60" y1="690.70" x2="682.70" y2="690.70" stroke="#ebebeb" stroke-width="0.9" />
<line x1="466.60" y1="652.70" x2="682.70" y2="652.70" stroke="#ebebeb" stroke-width="0.9" />
<line x1="524.90" y1="644.50" x2="524.90" y2="811.40" stroke="#ebebeb" stroke-width="0.9" />
<line x1="623.60" y1="644.50" x2="623.60" y2="811.40" stroke="#ebebeb" stroke-width="0.9" />
<line x1="524.95" y1="692.00" x2="524.95" y2="732.50" stroke="#4d4d4d" stroke-width="0.8" />
<line x1="524.95" y1="769.90" x2="524.95" y2="798.50" stroke="#4d4d4d" stroke-width="0.8" />
<rect x="500.50" y="732.50" width="48.90" height="37.40" fill="#fff" stroke="#4d4d4d" stroke-width="0.8"/>
<line x1="500.50" y1="747.20" x2="549.40" y2="747.20" stroke="#333" stroke-width="1.4" />
<line x1="623.55" y1="750.00" x2="623.55" y2="773.80" stroke="#4d4d4d" stroke-width="0.8" />
<rect x="598.80" y="773.80" width="49.50" height="28.00" fill="#fff" stroke="#4d4d4d" stroke-width="0.8"/>
<line x1="598.80" y1="792.30" x2="648.30" y2="792.30" stroke="#333" stroke-width="1.4" />
<circle cx="534.57" cy="691.86" r="1.0" fill="#7ea4dc"/>
<circle cx="518.90" cy="732.37" r="1.0" fill="#7ea4dc"/>
<circle cx="531.06" cy="747.22" r="1.0" fill="#7ea4dc"/>
<circle cx="519.98" cy="769.63" r="1.0" fill="#7ea4dc"/>
<circle cx="531.60" cy="798.53" r="1.0" fill="#7ea4dc"/>
<circle cx="616.12" cy="682.41" r="1.0" fill="#b31b1b"/>
<circle cx="623.68" cy="713.46" r="1.0" fill="#b31b1b"/>
<circle cx="632.33" cy="716.70" r="1.0" fill="#b31b1b"/>
<circle cx="616.93" cy="723.45" r="1.0" fill="#b31b1b"/>
<circle cx="629.62" cy="724.80" r="1.0" fill="#b31b1b"/>
<circle cx="622.06" cy="729.13" r="1.0" fill="#b31b1b"/>
<circle cx="616.66" cy="749.92" r="1.0" fill="#b31b1b"/>
<circle cx="616.12" cy="755.86" r="1.0" fill="#b31b1b"/>
<circle cx="625.57" cy="766.12" r="1.0" fill="#b31b1b"/>
<circle cx="630.97" cy="770.71" r="1.0" fill="#b31b1b"/>
<circle cx="616.66" cy="772.87" r="1.0" fill="#b31b1b"/>
<circle cx="621.52" cy="774.76" r="1.0" fill="#b31b1b"/>
<circle cx="615.58" cy="774.76" r="1.0" fill="#b31b1b"/>
<circle cx="625.03" cy="772.33" r="1.0" fill="#b31b1b"/>
<circle cx="631.51" cy="774.22" r="1.0" fill="#b31b1b"/>
<circle cx="623.68" cy="778.27" r="1.0" fill="#b31b1b"/>
<circle cx="632.60" cy="777.73" r="1.0" fill="#b31b1b"/>
<circle cx="625.57" cy="780.97" r="1.0" fill="#b31b1b"/>
<circle cx="623.68" cy="785.03" r="1.0" fill="#b31b1b"/>
<circle cx="613.96" cy="789.08" r="1.0" fill="#b31b1b"/>
<circle cx="616.66" cy="788.27" r="1.0" fill="#b31b1b"/>
<circle cx="619.36" cy="788.54" r="1.0" fill="#b31b1b"/>
<circle cx="615.04" cy="791.24" r="1.0" fill="#b31b1b"/>
<circle cx="624.76" cy="794.48" r="1.0" fill="#b31b1b"/>
<circle cx="624.22" cy="795.83" r="1.0" fill="#b31b1b"/>
<circle cx="616.66" cy="797.99" r="1.0" fill="#b31b1b"/>
<circle cx="620.98" cy="797.99" r="1.0" fill="#b31b1b"/>
<circle cx="626.92" cy="798.53" r="1.0" fill="#b31b1b"/>
<circle cx="629.08" cy="799.88" r="1.0" fill="#b31b1b"/>
<circle cx="631.79" cy="800.42" r="1.0" fill="#b31b1b"/>
<circle cx="618.82" cy="800.69" r="1.0" fill="#b31b1b"/>
<circle cx="622.87" cy="801.23" r="1.0" fill="#b31b1b"/>
<circle cx="626.38" cy="801.23" r="1.0" fill="#b31b1b"/>
<circle cx="613.96" cy="802.58" r="1.0" fill="#b31b1b"/>
<circle cx="617.20" cy="803.39" r="1.0" fill="#b31b1b"/>
<circle cx="620.17" cy="803.66" r="1.0" fill="#b31b1b"/>
<circle cx="622.06" cy="802.58" r="1.0" fill="#b31b1b"/>
<circle cx="624.22" cy="803.12" r="1.0" fill="#b31b1b"/>
<circle cx="629.08" cy="801.23" r="1.0" fill="#b31b1b"/>
<circle cx="626.92" cy="802.58" r="1.0" fill="#b31b1b"/>
<circle cx="618.28" cy="802.04" r="1.0" fill="#b31b1b"/>
<circle cx="620.71" cy="799.88" r="1.0" fill="#b31b1b"/>
<circle cx="625.84" cy="799.88" r="1.0" fill="#b31b1b"/>
<rect x="466.60" y="644.50" width="216.10" height="166.90" fill="none" stroke="#a5a5a5" stroke-width="1.05"/>
<line x1="464.50" y1="804.70" x2="466.60" y2="804.70" stroke="#333" stroke-width="0.7" />
<text transform="translate(463.00 807.40) scale(1 1.0)" font-size="7.6" text-anchor="end" font-weight="normal" fill="#4d4d4d" stroke="#4d4d4d" stroke-width="0.2" >0</text>
<line x1="464.50" y1="766.70" x2="466.60" y2="766.70" stroke="#333" stroke-width="0.7" />
<text transform="translate(463.00 769.40) scale(1 1.0)" font-size="7.6" text-anchor="end" font-weight="normal" fill="#4d4d4d" stroke="#4d4d4d" stroke-width="0.2" >25</text>
<line x1="464.50" y1="728.70" x2="466.60" y2="728.70" stroke="#333" stroke-width="0.7" />
<text transform="translate(463.00 731.40) scale(1 1.0)" font-size="7.6" text-anchor="end" font-weight="normal" fill="#4d4d4d" stroke="#4d4d4d" stroke-width="0.2" >50</text>
<line x1="464.50" y1="690.70" x2="466.60" y2="690.70" stroke="#333" stroke-width="0.7" />
<text transform="translate(463.00 693.40) scale(1 1.0)" font-size="7.6" text-anchor="end" font-weight="normal" fill="#4d4d4d" stroke="#4d4d4d" stroke-width="0.2" >75</text>
<line x1="464.50" y1="652.70" x2="466.60" y2="652.70" stroke="#333" stroke-width="0.7" />
<text transform="translate(463.00 655.40) scale(1 1.0)" font-size="7.6" text-anchor="end" font-weight="normal" fill="#4d4d4d" stroke="#4d4d4d" stroke-width="0.2" >100</text>
<line x1="524.90" y1="811.40" x2="524.90" y2="813.50" stroke="#333" stroke-width="0.7" />
<text transform="translate(524.90 820.70) scale(1 1.0)" font-size="7.75" text-anchor="middle" font-weight="normal" fill="#4d4d4d" stroke="#4d4d4d" stroke-width="0.2" >ctDNA -ve</text>
<line x1="623.60" y1="811.40" x2="623.60" y2="813.50" stroke="#333" stroke-width="0.7" />
<text transform="translate(623.60 820.70) scale(1 1.0)" font-size="7.75" text-anchor="middle" font-weight="normal" fill="#4d4d4d" stroke="#4d4d4d" stroke-width="0.2" >ctDNA +ve</text>
<text transform="translate(443.0,728.0) rotate(-90)" font-size="8.8" text-anchor="middle" fill="#111" stroke="#111" stroke-width="0.2">PD-1 (%)</text>
<path d="M524.90,672.60 V670.20 H623.60 V672.60" fill="none" stroke="#333" stroke-width="0.8"/>
<text transform="translate(573.90 666.70) scale(1 1.0)" font-size="6.95" text-anchor="middle" font-weight="normal" fill="#111" stroke="#111" stroke-width="0.2" >p = 0.029</text>
<rect x="466.1" y="836.7" width="213.30" height="50.60" fill="#fff" stroke="#555" stroke-width="0.8"/>
<line x1="466.10" y1="859.40" x2="679.40" y2="859.40" stroke="#555" stroke-width="0.7" />
<line x1="466.10" y1="873.40" x2="679.40" y2="873.40" stroke="#555" stroke-width="0.7" />
<line x1="513.50" y1="836.70" x2="513.50" y2="887.30" stroke="#555" stroke-width="0.7" />
<text transform="translate(489.80 844.40) scale(1 1.0)" font-size="5.4" text-anchor="middle" font-weight="bold" fill="#111" >Preoperative</text>
<text transform="translate(489.80 850.80) scale(1 1.0)" font-size="5.4" text-anchor="middle" font-weight="bold" fill="#111" >ctDNA</text>
<text transform="translate(489.80 856.80) scale(1 1.0)" font-size="5.4" text-anchor="middle" font-weight="bold" fill="#111" >detection</text>
<text transform="translate(523.10 850.60) scale(1 1.0)" font-size="5.4" text-anchor="middle" font-weight="bold" fill="#111" >Min.</text>
<text transform="translate(546.70 850.60) scale(1 1.0)" font-size="5.4" text-anchor="middle" font-weight="bold" fill="#111" >Median</text>
<text transform="translate(571.00 850.60) scale(1 1.0)" font-size="5.4" text-anchor="middle" font-weight="bold" fill="#111" >Mean</text>
<text transform="translate(591.40 850.60) scale(1 1.0)" font-size="5.4" text-anchor="middle" font-weight="bold" fill="#111" >Max.</text>
<text transform="translate(611.10 850.60) scale(1 1.0)" font-size="5.4" text-anchor="middle" font-weight="bold" fill="#111" >SD</text>
<text transform="translate(632.10 850.60) scale(1 1.0)" font-size="5.4" text-anchor="middle" font-weight="bold" fill="#111" >Q1</text>
<text transform="translate(653.80 850.60) scale(1 1.0)" font-size="5.4" text-anchor="middle" font-weight="bold" fill="#111" >Q3</text>
<text transform="translate(672.50 850.60) scale(1 1.0)" font-size="5.4" text-anchor="middle" font-weight="bold" fill="#111" >IQR</text>
<text transform="translate(489.80 869.20) scale(1 1.0)" font-size="5.4" text-anchor="middle" font-weight="bold" fill="#111" >ctDNA -ve</text>
<text transform="translate(489.80 883.00) scale(1 1.0)" font-size="5.4" text-anchor="middle" font-weight="bold" fill="#111" >ctDNA +ve</text>
<text transform="translate(523.10 869.20) scale(1 1.0)" font-size="5.4" text-anchor="middle" font-weight="normal" fill="#111" stroke="#111" stroke-width="0.2" >3.7</text>
<text transform="translate(546.70 869.20) scale(1 1.0)" font-size="5.4" text-anchor="middle" font-weight="normal" fill="#111" stroke="#111" stroke-width="0.2" >37.5</text>
<text transform="translate(571.00 869.20) scale(1 1.0)" font-size="5.4" text-anchor="middle" font-weight="normal" fill="#111" stroke="#111" stroke-width="0.2" >37.1</text>
<text transform="translate(591.40 869.20) scale(1 1.0)" font-size="5.4" text-anchor="middle" font-weight="normal" fill="#111" stroke="#111" stroke-width="0.2" >74.1</text>
<text transform="translate(611.10 869.20) scale(1 1.0)" font-size="5.4" text-anchor="middle" font-weight="normal" fill="#111" stroke="#111" stroke-width="0.2" >26.5</text>
<text transform="translate(632.10 869.20) scale(1 1.0)" font-size="5.4" text-anchor="middle" font-weight="normal" fill="#111" stroke="#111" stroke-width="0.2" >22.7</text>
<text transform="translate(653.80 869.20) scale(1 1.0)" font-size="5.4" text-anchor="middle" font-weight="normal" fill="#111" stroke="#111" stroke-width="0.2" >47.2</text>
<text transform="translate(672.50 869.20) scale(1 1.0)" font-size="5.4" text-anchor="middle" font-weight="normal" fill="#111" stroke="#111" stroke-width="0.2" >24.6</text>
<text transform="translate(523.10 883.00) scale(1 1.0)" font-size="5.4" text-anchor="middle" font-weight="normal" fill="#111" stroke="#111" stroke-width="0.2" >0.03</text>
<text transform="translate(546.70 883.00) scale(1 1.0)" font-size="5.4" text-anchor="middle" font-weight="normal" fill="#111" stroke="#111" stroke-width="0.2" >7.6</text>
<text transform="translate(571.00 883.00) scale(1 1.0)" font-size="5.4" text-anchor="middle" font-weight="normal" fill="#111" stroke="#111" stroke-width="0.2" >15.2</text>
<text transform="translate(591.40 883.00) scale(1 1.0)" font-size="5.4" text-anchor="middle" font-weight="normal" fill="#111" stroke="#111" stroke-width="0.2" >80.2</text>
<text transform="translate(611.10 883.00) scale(1 1.0)" font-size="5.4" text-anchor="middle" font-weight="normal" fill="#111" stroke="#111" stroke-width="0.2" >19.3</text>
<text transform="translate(632.10 883.00) scale(1 1.0)" font-size="5.4" text-anchor="middle" font-weight="normal" fill="#111" stroke="#111" stroke-width="0.2" >1.6</text>
<text transform="translate(653.80 883.00) scale(1 1.0)" font-size="5.4" text-anchor="middle" font-weight="normal" fill="#111" stroke="#111" stroke-width="0.2" >20.0</text>
<text transform="translate(672.50 883.00) scale(1 1.0)" font-size="5.4" text-anchor="middle" font-weight="normal" fill="#111" stroke="#111" stroke-width="0.2" >18.4</text>
<defs><clipPath id="c1"><rect x="0" y="835.2" width="190.7" height="131.1"/></clipPath><clipPath id="c2"><rect x="196.1" y="835.2" width="193.2" height="132.1"/></clipPath></defs>
<g clip-path="url(#c1)">
<rect x="0.00" y="835.20" width="190.70" height="131.10" fill="#f9f9f9" />
<polygon points="0.0,885.5 8.5,884.7 19.9,885.5 28.5,888.4 37.0,894.0 45.5,904.0 49.8,909.7 54.1,899.7 59.8,885.5 71.2,875.5 85.4,867.0 99.6,863.6 119.6,863.6 136.6,865.6 153.7,872.7 163.7,882.7 168.0,895.5 166.5,904.0 165.1,915.4 163.7,929.6 166.0,916.0 169.4,901.2 173.6,905.4 177.9,902.6 182.2,906.9 186.5,904.0 190.7,904.6 190.7,966.3 0.0,966.3" fill="#e8e8eb" />
<filter id="bl2" x="-10%" y="-10%" width="120%" height="120%"><feGaussianBlur stdDeviation="3"/></filter>
<clipPath id="ct1"><polygon points="0.0,885.5 8.5,884.7 19.9,885.5 28.5,888.4 37.0,894.0 45.5,904.0 49.8,909.7 54.1,899.7 59.8,885.5 71.2,875.5 85.4,867.0 99.6,863.6 119.6,863.6 136.6,865.6 153.7,872.7 163.7,882.7 168.0,895.5 166.5,904.0 165.1,915.4 163.7,929.6 166.0,916.0 169.4,901.2 173.6,905.4 177.9,902.6 182.2,906.9 186.5,904.0 190.7,904.6 190.7,966.3 0.0,966.3"/></clipPath>
<g clip-path="url(#ct1)">
<polygon points="0.0,886.0 8.5,885.2 19.9,886.0 28.5,888.9 37.0,894.5 45.5,904.5 49.8,910.2 54.1,900.2 59.8,886.0 71.2,876.0 85.4,867.5 99.6,864.1 119.6,864.1 136.6,866.1 153.7,873.2 163.7,883.2 168.0,896.0 168.0,908.5 163.7,904.7 153.7,894.7 136.6,887.6 119.6,885.6 99.6,885.6 85.4,889.0 71.2,897.5 59.8,907.5 54.1,912.7 49.8,922.7 45.5,917.0 37.0,907.0 28.5,901.4 19.9,898.5 8.5,897.7 0.0,898.5" fill="#d9d0cd"  opacity="0.6" filter="url(#bl2)"/>
</g>
<polyline points="0.0,885.5 8.5,884.7 19.9,885.5 28.5,888.4 37.0,894.0 45.5,904.0 49.8,909.7 54.1,899.7 59.8,885.5 71.2,875.5 85.4,867.0 99.6,863.6 119.6,863.6 136.6,865.6 153.7,872.7 163.7,882.7 168.0,895.5" fill="none" stroke="#d5d6dc" stroke-width="0.8" stroke-linecap="round" stroke-linejoin="round" />
<linearGradient id="lg1" x1="0" y1="0" x2="0" y2="1"><stop offset="0" stop-color="#eeeef0" stop-opacity="0"/><stop offset="1" stop-color="#eeeef0" stop-opacity="0.9"/></linearGradient>
<rect x="0" y="915" width="190.7" height="52" fill="url(#lg1)"/>
<circle cx="53.8" cy="903.1" r="0.50" fill="#a8806c" opacity="0.28"/>
<circle cx="89.0" cy="873.1" r="0.32" fill="#a8806c" opacity="0.43"/>
<circle cx="6.2" cy="890.4" r="0.32" fill="#a8806c" opacity="0.28"/>
<circle cx="70.5" cy="898.7" r="0.34" fill="#a8806c" opacity="0.33"/>
<circle cx="104.2" cy="900.5" r="0.47" fill="#a8806c" opacity="0.39"/>
<circle cx="162.1" cy="882.1" r="0.56" fill="#a8806c" opacity="0.35"/>
<circle cx="23.9" cy="889.2" r="0.39" fill="#a8806c" opacity="0.54"/>
<circle cx="30.0" cy="897.0" r="0.49" fill="#a8806c" opacity="0.38"/>
<circle cx="90.9" cy="868.0" r="0.32" fill="#a8806c" opacity="0.32"/>
<circle cx="112.9" cy="871.8" r="0.39" fill="#a8806c" opacity="0.45"/>
<circle cx="75.2" cy="878.9" r="0.54" fill="#a8806c" opacity="0.49"/>
<circle cx="40.5" cy="905.6" r="0.46" fill="#a8806c" opacity="0.56"/>
<circle cx="121.1" cy="885.6" r="0.59" fill="#a8806c" opacity="0.29"/>
<circle cx="69.4" cy="895.6" r="0.35" fill="#a8806c" opacity="0.42"/>
<circle cx="6.5" cy="894.1" r="0.53" fill="#a8806c" opacity="0.45"/>
<circle cx="145.3" cy="886.0" r="0.51" fill="#a8806c" opacity="0.46"/>
<circle cx="96.3" cy="873.2" r="0.55" fill="#a8806c" opacity="0.58"/>
<circle cx="78.7" cy="885.6" r="0.32" fill="#a8806c" opacity="0.50"/>
<circle cx="107.4" cy="924.8" r="0.55" fill="#a8806c" opacity="0.35"/>
<circle cx="64.0" cy="896.5" r="0.31" fill="#a8806c" opacity="0.41"/>
<circle cx="27.9" cy="890.6" r="0.32" fill="#a8806c" opacity="0.52"/>
<circle cx="21.5" cy="889.5" r="0.42" fill="#a8806c" opacity="0.55"/>
<circle cx="13.4" cy="890.7" r="0.46" fill="#a8806c" opacity="0.56"/>
<circle cx="136.0" cy="905.4" r="0.38" fill="#a8806c" opacity="0.40"/>
<circle cx="59.6" cy="902.7" r="0.59" fill="#a8806c" opacity="0.30"/>
<circle cx="29.3" cy="892.2" r="0.37" fill="#a8806c" opacity="0.42"/>
<circle cx="97.8" cy="869.2" r="0.30" fill="#a8806c" opacity="0.40"/>
<circle cx="61.3" cy="895.7" r="0.59" fill="#a8806c" opacity="0.49"/>
<circle cx="85.6" cy="880.0" r="0.50" fill="#a8806c" opacity="0.27"/>
<circle cx="149.3" cy="899.7" r="0.56" fill="#a8806c" opacity="0.53"/>
<circle cx="65.1" cy="888.4" r="0.33" fill="#a8806c" opacity="0.47"/>
<circle cx="10.3" cy="886.8" r="0.36" fill="#a8806c" opacity="0.31"/>
<circle cx="56.4" cy="895.7" r="0.30" fill="#a8806c" opacity="0.30"/>
<circle cx="16.8" cy="889.9" r="0.31" fill="#a8806c" opacity="0.56"/>
<circle cx="101.9" cy="867.0" r="0.38" fill="#a8806c" opacity="0.37"/>
<circle cx="60.5" cy="888.0" r="0.55" fill="#a8806c" opacity="0.60"/>
<circle cx="77.4" cy="881.3" r="0.33" fill="#a8806c" opacity="0.29"/>
<circle cx="56.9" cy="896.4" r="0.55" fill="#a8806c" opacity="0.31"/>
<circle cx="3.8" cy="907.7" r="0.46" fill="#a8806c" opacity="0.30"/>
<circle cx="90.2" cy="867.7" r="0.46" fill="#a8806c" opacity="0.59"/>
<circle cx="143.3" cy="895.8" r="0.38" fill="#a8806c" opacity="0.38"/>
<circle cx="27.7" cy="900.0" r="0.46" fill="#a8806c" opacity="0.52"/>
<circle cx="54.7" cy="901.4" r="0.54" fill="#a8806c" opacity="0.59"/>
<circle cx="141.5" cy="901.2" r="0.55" fill="#a8806c" opacity="0.51"/>
<circle cx="37.6" cy="901.4" r="0.41" fill="#a8806c" opacity="0.26"/>
<circle cx="4.6" cy="888.9" r="0.38" fill="#a8806c" opacity="0.49"/>
<circle cx="158.8" cy="888.6" r="0.58" fill="#a8806c" opacity="0.60"/>
<circle cx="158.5" cy="886.9" r="0.37" fill="#a8806c" opacity="0.33"/>
<circle cx="32.7" cy="894.2" r="0.49" fill="#a8806c" opacity="0.57"/>
<circle cx="139.5" cy="889.3" r="0.50" fill="#a8806c" opacity="0.53"/>
<circle cx="14.1" cy="894.2" r="0.57" fill="#a8806c" opacity="0.52"/>
<circle cx="124.5" cy="889.3" r="0.35" fill="#a8806c" opacity="0.53"/>
<circle cx="55.2" cy="909.8" r="0.59" fill="#a8806c" opacity="0.39"/>
<circle cx="66.6" cy="916.2" r="0.52" fill="#a8806c" opacity="0.31"/>
<circle cx="21.1" cy="888.5" r="0.57" fill="#a8806c" opacity="0.53"/>
<circle cx="24.3" cy="900.7" r="0.59" fill="#a8806c" opacity="0.48"/>
<circle cx="58.2" cy="896.6" r="0.34" fill="#a8806c" opacity="0.25"/>
<circle cx="161.2" cy="894.1" r="0.46" fill="#a8806c" opacity="0.58"/>
<circle cx="72.0" cy="901.2" r="0.55" fill="#a8806c" opacity="0.32"/>
<circle cx="41.8" cy="903.6" r="0.37" fill="#a8806c" opacity="0.46"/>
<circle cx="43.1" cy="906.4" r="0.34" fill="#a8806c" opacity="0.57"/>
<circle cx="58.7" cy="894.0" r="0.48" fill="#a8806c" opacity="0.57"/>
<circle cx="69.8" cy="908.2" r="0.45" fill="#a8806c" opacity="0.44"/>
<circle cx="86.9" cy="868.4" r="0.43" fill="#a8806c" opacity="0.31"/>
<circle cx="0.7" cy="898.2" r="0.35" fill="#a8806c" opacity="0.42"/>
<circle cx="120.4" cy="891.3" r="0.40" fill="#a8806c" opacity="0.43"/>
<circle cx="92.2" cy="885.3" r="0.33" fill="#a8806c" opacity="0.45"/>
<circle cx="41.3" cy="902.8" r="0.53" fill="#a8806c" opacity="0.43"/>
<circle cx="93.2" cy="883.7" r="0.57" fill="#a8806c" opacity="0.41"/>
<circle cx="101.7" cy="873.6" r="0.45" fill="#a8806c" opacity="0.49"/>
<circle cx="75.1" cy="883.8" r="0.44" fill="#a8806c" opacity="0.58"/>
<circle cx="116.1" cy="890.2" r="0.58" fill="#a8806c" opacity="0.34"/>
<circle cx="92.9" cy="901.1" r="0.55" fill="#a8806c" opacity="0.30"/>
<circle cx="20.2" cy="891.2" r="0.32" fill="#a8806c" opacity="0.33"/>
<circle cx="12.1" cy="894.2" r="0.54" fill="#a8806c" opacity="0.56"/>
<circle cx="25.6" cy="897.7" r="0.50" fill="#a8806c" opacity="0.30"/>
<circle cx="146.6" cy="922.6" r="0.37" fill="#a8806c" opacity="0.58"/>
<circle cx="66.1" cy="889.5" r="0.60" fill="#a8806c" opacity="0.54"/>
<circle cx="26.8" cy="893.3" r="0.45" fill="#a8806c" opacity="0.37"/>
<circle cx="32.5" cy="895.2" r="0.52" fill="#a8806c" opacity="0.26"/>
<circle cx="92.0" cy="873.9" r="0.31" fill="#a8806c" opacity="0.37"/>
<circle cx="103.6" cy="873.7" r="0.32" fill="#a8806c" opacity="0.59"/>
<circle cx="130.9" cy="924.3" r="0.33" fill="#a8806c" opacity="0.34"/>
<circle cx="6.6" cy="896.9" r="0.38" fill="#a8806c" opacity="0.30"/>
<circle cx="70.1" cy="907.1" r="0.55" fill="#a8806c" opacity="0.34"/>
<circle cx="24.8" cy="906.3" r="0.47" fill="#a8806c" opacity="0.50"/>
<circle cx="14.9" cy="887.1" r="0.51" fill="#a8806c" opacity="0.40"/>
<circle cx="12.0" cy="906.0" r="0.49" fill="#a8806c" opacity="0.53"/>
<circle cx="13.9" cy="900.2" r="0.32" fill="#a8806c" opacity="0.55"/>
<circle cx="75.3" cy="879.5" r="0.47" fill="#a8806c" opacity="0.57"/>
<circle cx="44.5" cy="905.3" r="0.46" fill="#a8806c" opacity="0.33"/>
<circle cx="18.2" cy="888.1" r="0.32" fill="#a8806c" opacity="0.32"/>
<circle cx="51.8" cy="909.1" r="0.53" fill="#a8806c" opacity="0.35"/>
<circle cx="83.0" cy="872.3" r="0.40" fill="#a8806c" opacity="0.26"/>
<circle cx="41.6" cy="901.0" r="0.52" fill="#a8806c" opacity="0.44"/>
<circle cx="31.4" cy="896.4" r="0.58" fill="#a8806c" opacity="0.29"/>
<circle cx="135.9" cy="888.3" r="0.45" fill="#a8806c" opacity="0.54"/>
<circle cx="65.3" cy="890.7" r="0.51" fill="#a8806c" opacity="0.59"/>
<circle cx="56.9" cy="906.8" r="0.51" fill="#a8806c" opacity="0.47"/>
<circle cx="67.2" cy="885.7" r="0.32" fill="#a8806c" opacity="0.30"/>
<circle cx="11.7" cy="895.9" r="0.38" fill="#a8806c" opacity="0.31"/>
<circle cx="14.0" cy="899.5" r="0.56" fill="#a8806c" opacity="0.48"/>
<circle cx="46.8" cy="909.2" r="0.39" fill="#a8806c" opacity="0.41"/>
<circle cx="26.2" cy="893.2" r="0.38" fill="#a8806c" opacity="0.59"/>
<circle cx="161.5" cy="891.0" r="0.37" fill="#a8806c" opacity="0.59"/>
<circle cx="51.4" cy="910.6" r="0.30" fill="#a8806c" opacity="0.38"/>
<circle cx="78.8" cy="880.8" r="0.36" fill="#a8806c" opacity="0.43"/>
<circle cx="0.8" cy="889.1" r="0.33" fill="#a8806c" opacity="0.39"/>
<circle cx="6.9" cy="886.5" r="0.39" fill="#a8806c" opacity="0.33"/>
<circle cx="97.2" cy="874.7" r="0.53" fill="#a8806c" opacity="0.48"/>
<circle cx="118.9" cy="890.5" r="0.42" fill="#a8806c" opacity="0.36"/>
<circle cx="163.5" cy="883.4" r="0.52" fill="#a8806c" opacity="0.48"/>
<circle cx="7.3" cy="898.9" r="0.57" fill="#a8806c" opacity="0.47"/>
<circle cx="121.8" cy="901.6" r="0.34" fill="#a8806c" opacity="0.43"/>
<circle cx="83.7" cy="891.1" r="0.54" fill="#a8806c" opacity="0.54"/>
<circle cx="97.0" cy="892.5" r="0.50" fill="#a8806c" opacity="0.49"/>
<circle cx="38.2" cy="897.1" r="0.34" fill="#a8806c" opacity="0.38"/>
<circle cx="17.4" cy="899.5" r="0.47" fill="#a8806c" opacity="0.47"/>
<circle cx="104.0" cy="878.8" r="0.45" fill="#a8806c" opacity="0.25"/>
<circle cx="132.4" cy="898.1" r="0.45" fill="#a8806c" opacity="0.44"/>
<circle cx="109.4" cy="865.9" r="0.52" fill="#a8806c" opacity="0.34"/>
<circle cx="12.4" cy="888.6" r="0.52" fill="#a8806c" opacity="0.32"/>
<circle cx="122.8" cy="926.1" r="0.45" fill="#a8806c" opacity="0.38"/>
<circle cx="79.5" cy="885.8" r="0.53" fill="#a8806c" opacity="0.47"/>
<circle cx="106.7" cy="866.1" r="0.34" fill="#a8806c" opacity="0.34"/>
<circle cx="123.4" cy="885.9" r="0.47" fill="#a8806c" opacity="0.25"/>
<circle cx="10.1" cy="888.5" r="0.50" fill="#a8806c" opacity="0.49"/>
<circle cx="112.2" cy="869.2" r="0.45" fill="#a8806c" opacity="0.41"/>
<circle cx="77.4" cy="874.8" r="0.57" fill="#a8806c" opacity="0.32"/>
<circle cx="162.4" cy="914.5" r="0.31" fill="#a8806c" opacity="0.41"/>
<circle cx="136.1" cy="922.8" r="0.43" fill="#a8806c" opacity="0.34"/>
<circle cx="34.8" cy="914.5" r="0.36" fill="#a8806c" opacity="0.45"/>
<circle cx="23.5" cy="893.4" r="0.59" fill="#a8806c" opacity="0.30"/>
<circle cx="136.2" cy="890.0" r="0.57" fill="#a8806c" opacity="0.50"/>
<circle cx="38.4" cy="913.1" r="0.45" fill="#a8806c" opacity="0.26"/>
<circle cx="0.6" cy="891.7" r="0.44" fill="#a8806c" opacity="0.36"/>
<circle cx="23.4" cy="891.1" r="0.39" fill="#a8806c" opacity="0.54"/>
<circle cx="0.3" cy="896.7" r="0.55" fill="#a8806c" opacity="0.29"/>
<circle cx="153.8" cy="896.5" r="0.57" fill="#a8806c" opacity="0.35"/>
<circle cx="61.8" cy="891.2" r="0.60" fill="#a8806c" opacity="0.46"/>
<circle cx="59.9" cy="890.8" r="0.38" fill="#a8806c" opacity="0.27"/>
<circle cx="16.9" cy="899.4" r="0.39" fill="#a8806c" opacity="0.58"/>
<circle cx="41.4" cy="902.8" r="0.45" fill="#a8806c" opacity="0.32"/>
<circle cx="62.0" cy="922.6" r="0.57" fill="#a8806c" opacity="0.53"/>
<circle cx="104.7" cy="894.5" r="0.58" fill="#a8806c" opacity="0.44"/>
<circle cx="119.4" cy="865.7" r="0.52" fill="#a8806c" opacity="0.41"/>
<circle cx="124.9" cy="893.9" r="0.39" fill="#a8806c" opacity="0.27"/>
<circle cx="153.8" cy="883.1" r="0.44" fill="#a8806c" opacity="0.37"/>
<circle cx="49.4" cy="920.1" r="0.59" fill="#a8806c" opacity="0.34"/>
<circle cx="108.9" cy="869.4" r="0.47" fill="#a8806c" opacity="0.39"/>
<circle cx="27.8" cy="890.9" r="0.36" fill="#a8806c" opacity="0.57"/>
<circle cx="82.5" cy="873.2" r="0.57" fill="#a8806c" opacity="0.60"/>
<circle cx="74.7" cy="876.7" r="0.36" fill="#a8806c" opacity="0.28"/>
<circle cx="56.8" cy="895.2" r="0.37" fill="#a8806c" opacity="0.34"/>
<circle cx="94.6" cy="892.5" r="0.52" fill="#a8806c" opacity="0.39"/>
<circle cx="68.7" cy="888.1" r="0.41" fill="#a8806c" opacity="0.37"/>
<circle cx="10.3" cy="888.6" r="0.59" fill="#a8806c" opacity="0.29"/>
<circle cx="83.6" cy="881.5" r="0.56" fill="#a8806c" opacity="0.33"/>
<circle cx="45.0" cy="906.9" r="0.42" fill="#a8806c" opacity="0.41"/>
<circle cx="158.4" cy="904.2" r="0.56" fill="#a8806c" opacity="0.26"/>
<circle cx="5.4" cy="895.1" r="0.57" fill="#a8806c" opacity="0.42"/>
<circle cx="97.5" cy="865.6" r="0.42" fill="#a8806c" opacity="0.57"/>
<circle cx="137.0" cy="904.7" r="0.59" fill="#a8806c" opacity="0.34"/>
<circle cx="18.1" cy="888.0" r="0.46" fill="#a8806c" opacity="0.49"/>
<circle cx="156.3" cy="896.9" r="0.49" fill="#a8806c" opacity="0.52"/>
<circle cx="75.9" cy="883.8" r="0.31" fill="#a8806c" opacity="0.52"/>
<circle cx="38.6" cy="915.1" r="0.49" fill="#a8806c" opacity="0.36"/>
<circle cx="21.2" cy="889.5" r="0.49" fill="#a8806c" opacity="0.49"/>
<circle cx="18.6" cy="887.4" r="0.46" fill="#a8806c" opacity="0.45"/>
<circle cx="64.4" cy="886.0" r="0.48" fill="#a8806c" opacity="0.25"/>
<circle cx="50.1" cy="914.9" r="0.59" fill="#a8806c" opacity="0.48"/>
<circle cx="146.7" cy="889.2" r="0.37" fill="#a8806c" opacity="0.34"/>
<circle cx="159.5" cy="896.1" r="0.39" fill="#a8806c" opacity="0.26"/>
<circle cx="82.7" cy="883.6" r="0.43" fill="#a8806c" opacity="0.34"/>
<circle cx="110.8" cy="896.2" r="0.37" fill="#a8806c" opacity="0.26"/>
<circle cx="56.1" cy="900.0" r="0.50" fill="#a8806c" opacity="0.32"/>
<circle cx="132.3" cy="897.6" r="0.45" fill="#a8806c" opacity="0.32"/>
<circle cx="161.0" cy="886.0" r="0.55" fill="#a8806c" opacity="0.33"/>
<circle cx="36.8" cy="905.3" r="0.39" fill="#a8806c" opacity="0.58"/>
<circle cx="82.3" cy="872.8" r="0.37" fill="#a8806c" opacity="0.40"/>
<circle cx="110.4" cy="900.8" r="0.34" fill="#a8806c" opacity="0.39"/>
<circle cx="35.3" cy="920.0" r="0.34" fill="#a8806c" opacity="0.27"/>
<circle cx="10.0" cy="889.8" r="0.57" fill="#a8806c" opacity="0.56"/>
<circle cx="154.6" cy="886.3" r="0.36" fill="#a8806c" opacity="0.58"/>
<circle cx="123.9" cy="881.9" r="0.50" fill="#a8806c" opacity="0.38"/>
<circle cx="62.1" cy="889.8" r="0.35" fill="#a8806c" opacity="0.25"/>
<circle cx="46.4" cy="909.8" r="0.59" fill="#a8806c" opacity="0.29"/>
<circle cx="160.1" cy="884.3" r="0.41" fill="#a8806c" opacity="0.54"/>
<circle cx="136.5" cy="888.3" r="0.31" fill="#a8806c" opacity="0.42"/>
<circle cx="61.9" cy="915.4" r="0.36" fill="#a8806c" opacity="0.38"/>
<circle cx="148.9" cy="881.9" r="0.42" fill="#a8806c" opacity="0.53"/>
<circle cx="127.3" cy="882.0" r="0.31" fill="#a8806c" opacity="0.27"/>
<circle cx="152.7" cy="885.1" r="0.52" fill="#a8806c" opacity="0.56"/>
<circle cx="56.3" cy="898.0" r="0.59" fill="#a8806c" opacity="0.47"/>
<circle cx="43.5" cy="912.0" r="0.39" fill="#a8806c" opacity="0.35"/>
<circle cx="0.6" cy="896.8" r="0.57" fill="#a8806c" opacity="0.47"/>
<circle cx="156.6" cy="881.8" r="0.37" fill="#a8806c" opacity="0.42"/>
<circle cx="158.8" cy="918.4" r="0.42" fill="#a8806c" opacity="0.34"/>
<circle cx="71.4" cy="885.1" r="0.58" fill="#a8806c" opacity="0.31"/>
<circle cx="133.2" cy="897.6" r="0.55" fill="#a8806c" opacity="0.52"/>
<circle cx="100.8" cy="869.9" r="0.40" fill="#a8806c" opacity="0.38"/>
<circle cx="129.9" cy="882.5" r="0.36" fill="#a8806c" opacity="0.51"/>
<circle cx="41.1" cy="900.7" r="0.31" fill="#a8806c" opacity="0.44"/>
<circle cx="54.1" cy="928.7" r="0.57" fill="#a8806c" opacity="0.60"/>
<circle cx="44.0" cy="904.3" r="0.33" fill="#a8806c" opacity="0.42"/>
<circle cx="117.8" cy="872.2" r="0.37" fill="#a8806c" opacity="0.40"/>
<circle cx="103.0" cy="878.6" r="0.52" fill="#a8806c" opacity="0.55"/>
<circle cx="110.3" cy="866.6" r="0.55" fill="#a8806c" opacity="0.35"/>
<circle cx="94.1" cy="872.0" r="0.52" fill="#a8806c" opacity="0.32"/>
<circle cx="41.1" cy="902.3" r="0.35" fill="#a8806c" opacity="0.56"/>
<circle cx="96.0" cy="870.7" r="0.42" fill="#a8806c" opacity="0.60"/>
<circle cx="84.2" cy="872.4" r="0.54" fill="#a8806c" opacity="0.48"/>
<circle cx="164.5" cy="882.8" r="0.44" fill="#a8806c" opacity="0.54"/>
<circle cx="139.5" cy="911.0" r="0.31" fill="#a8806c" opacity="0.35"/>
<circle cx="19.8" cy="888.5" r="0.59" fill="#a8806c" opacity="0.45"/>
<circle cx="154.4" cy="887.1" r="0.56" fill="#a8806c" opacity="0.41"/>
<circle cx="43.2" cy="913.3" r="0.58" fill="#a8806c" opacity="0.29"/>
<circle cx="99.0" cy="876.9" r="0.37" fill="#a8806c" opacity="0.38"/>
<circle cx="23.5" cy="889.8" r="0.38" fill="#a8806c" opacity="0.46"/>
<circle cx="108.2" cy="867.8" r="0.30" fill="#a8806c" opacity="0.36"/>
<circle cx="112.6" cy="867.6" r="0.39" fill="#a8806c" opacity="0.32"/>
<circle cx="132.0" cy="891.0" r="0.32" fill="#a8806c" opacity="0.29"/>
<circle cx="65.6" cy="891.5" r="0.49" fill="#a8806c" opacity="0.28"/>
<circle cx="27.2" cy="897.8" r="0.42" fill="#a8806c" opacity="0.35"/>
<circle cx="51.1" cy="929.7" r="0.39" fill="#a8806c" opacity="0.45"/>
<circle cx="59.3" cy="892.0" r="0.56" fill="#a8806c" opacity="0.60"/>
<circle cx="60.4" cy="889.1" r="0.52" fill="#a8806c" opacity="0.32"/>
<circle cx="1.0" cy="903.1" r="0.43" fill="#a8806c" opacity="0.54"/>
<circle cx="67.4" cy="906.0" r="0.44" fill="#a8806c" opacity="0.31"/>
<circle cx="2.5" cy="892.4" r="0.49" fill="#a8806c" opacity="0.57"/>
<circle cx="14.8" cy="893.5" r="0.41" fill="#a8806c" opacity="0.43"/>
<circle cx="24.2" cy="890.8" r="0.46" fill="#a8806c" opacity="0.57"/>
<circle cx="18.1" cy="891.6" r="0.54" fill="#a8806c" opacity="0.59"/>
<circle cx="32.8" cy="893.7" r="0.58" fill="#a8806c" opacity="0.59"/>
<circle cx="80.1" cy="872.3" r="0.58" fill="#a8806c" opacity="0.39"/>
<circle cx="150.1" cy="893.1" r="0.55" fill="#a8806c" opacity="0.31"/>
<circle cx="130.4" cy="884.5" r="0.42" fill="#a8806c" opacity="0.55"/>
<circle cx="137.6" cy="883.9" r="0.37" fill="#a8806c" opacity="0.39"/>
<circle cx="86.0" cy="874.2" r="0.34" fill="#a8806c" opacity="0.34"/>
<circle cx="120.3" cy="908.8" r="0.31" fill="#a8806c" opacity="0.45"/>
<circle cx="125.7" cy="882.0" r="0.55" fill="#a8806c" opacity="0.29"/>
<circle cx="99.5" cy="874.7" r="0.49" fill="#a8806c" opacity="0.36"/>
<circle cx="69.7" cy="888.8" r="0.43" fill="#a8806c" opacity="0.48"/>
<circle cx="74.2" cy="882.1" r="0.31" fill="#a8806c" opacity="0.47"/>
<circle cx="81.3" cy="874.2" r="0.53" fill="#a8806c" opacity="0.52"/>
<circle cx="76.1" cy="876.5" r="0.44" fill="#a8806c" opacity="0.29"/>
<circle cx="21.3" cy="891.4" r="0.33" fill="#a8806c" opacity="0.40"/>
<circle cx="84.7" cy="869.4" r="0.49" fill="#a8806c" opacity="0.28"/>
<circle cx="121.8" cy="899.5" r="0.45" fill="#a8806c" opacity="0.27"/>
<circle cx="83.7" cy="875.2" r="0.59" fill="#a8806c" opacity="0.30"/>
<circle cx="142.3" cy="948.1" r="0.52" fill="#a8806c" opacity="0.54"/>
<circle cx="32.2" cy="920.3" r="0.45" fill="#a8806c" opacity="0.58"/>
<circle cx="152.1" cy="883.7" r="0.54" fill="#a8806c" opacity="0.58"/>
<circle cx="10.9" cy="889.4" r="0.53" fill="#a8806c" opacity="0.31"/>
<circle cx="148.8" cy="885.4" r="0.54" fill="#a8806c" opacity="0.30"/>
<circle cx="83.4" cy="900.0" r="0.36" fill="#a8806c" opacity="0.34"/>
<circle cx="84.0" cy="874.0" r="0.31" fill="#a8806c" opacity="0.31"/>
<circle cx="26.8" cy="908.6" r="0.50" fill="#a8806c" opacity="0.56"/>
<circle cx="28.0" cy="900.5" r="0.33" fill="#a8806c" opacity="0.44"/>
<circle cx="105.6" cy="870.5" r="0.56" fill="#a8806c" opacity="0.44"/>
<circle cx="96.3" cy="891.6" r="0.33" fill="#a8806c" opacity="0.60"/>
<circle cx="104.5" cy="871.1" r="0.54" fill="#a8806c" opacity="0.34"/>
<circle cx="164.4" cy="891.8" r="0.41" fill="#a8806c" opacity="0.52"/>
<circle cx="73.4" cy="878.0" r="0.52" fill="#a8806c" opacity="0.27"/>
<circle cx="136.1" cy="885.0" r="0.49" fill="#a8806c" opacity="0.59"/>
<circle cx="97.3" cy="878.7" r="0.39" fill="#a8806c" opacity="0.25"/>
<circle cx="5.6" cy="887.6" r="0.48" fill="#a8806c" opacity="0.40"/>
<circle cx="85.1" cy="895.8" r="0.34" fill="#a8806c" opacity="0.33"/>
<circle cx="108.4" cy="865.4" r="0.30" fill="#a8806c" opacity="0.37"/>
<circle cx="17.7" cy="889.9" r="0.37" fill="#a8806c" opacity="0.45"/>
<circle cx="97.8" cy="868.3" r="0.49" fill="#a8806c" opacity="0.42"/>
<circle cx="22.4" cy="907.1" r="0.37" fill="#a8806c" opacity="0.30"/>
<circle cx="15.9" cy="893.8" r="0.56" fill="#a8806c" opacity="0.52"/>
<circle cx="66.7" cy="884.6" r="0.30" fill="#a8806c" opacity="0.48"/>
<circle cx="93.3" cy="871.8" r="0.49" fill="#a8806c" opacity="0.41"/>
<circle cx="155.6" cy="897.4" r="0.37" fill="#a8806c" opacity="0.57"/>
<circle cx="7.3" cy="891.6" r="0.42" fill="#a8806c" opacity="0.33"/>
<circle cx="9.7" cy="896.8" r="0.30" fill="#a8806c" opacity="0.44"/>
<circle cx="156.2" cy="883.3" r="0.36" fill="#a8806c" opacity="0.46"/>
<circle cx="84.2" cy="881.6" r="0.54" fill="#a8806c" opacity="0.31"/>
<circle cx="51.4" cy="910.1" r="0.31" fill="#a8806c" opacity="0.56"/>
<circle cx="130.0" cy="896.6" r="0.30" fill="#a8806c" opacity="0.55"/>
<circle cx="123.7" cy="889.0" r="0.52" fill="#a8806c" opacity="0.41"/>
<circle cx="37.5" cy="896.9" r="0.37" fill="#a8806c" opacity="0.26"/>
<circle cx="55.7" cy="906.9" r="0.51" fill="#a8806c" opacity="0.55"/>
<circle cx="118.1" cy="868.8" r="0.47" fill="#a8806c" opacity="0.40"/>
<circle cx="130.9" cy="890.4" r="0.38" fill="#a8806c" opacity="0.47"/>
<circle cx="160.2" cy="884.4" r="0.56" fill="#a8806c" opacity="0.26"/>
<circle cx="43.2" cy="904.7" r="0.52" fill="#a8806c" opacity="0.58"/>
<circle cx="123.9" cy="886.2" r="0.56" fill="#a8806c" opacity="0.36"/>
<circle cx="39.7" cy="915.3" r="0.49" fill="#a8806c" opacity="0.49"/>
<circle cx="110.4" cy="911.5" r="0.44" fill="#a8806c" opacity="0.54"/>
<circle cx="115.8" cy="888.5" r="0.43" fill="#a8806c" opacity="0.50"/>
<circle cx="94.7" cy="870.7" r="0.36" fill="#a8806c" opacity="0.47"/>
<circle cx="12.9" cy="903.4" r="0.34" fill="#a8806c" opacity="0.26"/>
<circle cx="17.7" cy="905.4" r="0.40" fill="#a8806c" opacity="0.30"/>
<circle cx="4.8" cy="886.8" r="0.51" fill="#a8806c" opacity="0.47"/>
<circle cx="115.7" cy="881.1" r="0.32" fill="#a8806c" opacity="0.46"/>
<circle cx="60.3" cy="907.0" r="0.55" fill="#a8806c" opacity="0.56"/>
<circle cx="10.9" cy="900.5" r="0.57" fill="#a8806c" opacity="0.58"/>
<circle cx="17.8" cy="888.5" r="0.33" fill="#a8806c" opacity="0.26"/>
<circle cx="140.7" cy="901.6" r="0.49" fill="#a8806c" opacity="0.54"/>
<circle cx="104.8" cy="869.2" r="0.33" fill="#a8806c" opacity="0.28"/>
<circle cx="125.7" cy="884.3" r="0.40" fill="#a8806c" opacity="0.40"/>
<circle cx="3.5" cy="888.7" r="0.38" fill="#a8806c" opacity="0.50"/>
<circle cx="61.1" cy="890.5" r="0.59" fill="#a8806c" opacity="0.43"/>
<circle cx="141.3" cy="893.1" r="0.31" fill="#a8806c" opacity="0.39"/>
<circle cx="72.5" cy="894.0" r="0.40" fill="#a8806c" opacity="0.50"/>
<circle cx="89.3" cy="870.5" r="0.56" fill="#a8806c" opacity="0.28"/>
<circle cx="136.1" cy="883.7" r="0.30" fill="#a8806c" opacity="0.32"/>
<circle cx="126.5" cy="927.2" r="0.30" fill="#a8806c" opacity="0.42"/>
<circle cx="81.6" cy="889.9" r="0.36" fill="#a8806c" opacity="0.42"/>
<circle cx="57.6" cy="904.9" r="0.38" fill="#a8806c" opacity="0.58"/>
<circle cx="47.1" cy="909.3" r="0.51" fill="#a8806c" opacity="0.42"/>
<circle cx="18.2" cy="894.0" r="0.32" fill="#a8806c" opacity="0.53"/>
<circle cx="115.7" cy="883.7" r="0.49" fill="#a8806c" opacity="0.37"/>
<circle cx="66.6" cy="887.0" r="0.57" fill="#a8806c" opacity="0.28"/>
<circle cx="147.5" cy="881.8" r="0.36" fill="#a8806c" opacity="0.34"/>
<circle cx="149.6" cy="889.8" r="0.41" fill="#a8806c" opacity="0.56"/>
<circle cx="38.8" cy="901.9" r="0.46" fill="#a8806c" opacity="0.51"/>
<circle cx="125.0" cy="894.0" r="0.40" fill="#a8806c" opacity="0.36"/>
<circle cx="25.8" cy="901.9" r="0.50" fill="#a8806c" opacity="0.51"/>
<circle cx="28.1" cy="893.8" r="0.53" fill="#a8806c" opacity="0.45"/>
<circle cx="20.9" cy="891.7" r="0.57" fill="#a8806c" opacity="0.33"/>
<circle cx="31.8" cy="894.6" r="0.51" fill="#a8806c" opacity="0.55"/>
<circle cx="25.7" cy="890.1" r="0.37" fill="#a8806c" opacity="0.36"/>
<circle cx="86.7" cy="870.3" r="0.40" fill="#a8806c" opacity="0.32"/>
<circle cx="161.9" cy="897.2" r="0.33" fill="#a8806c" opacity="0.59"/>
<circle cx="16.9" cy="890.2" r="0.60" fill="#a8806c" opacity="0.53"/>
<circle cx="121.7" cy="888.3" r="0.36" fill="#a8806c" opacity="0.47"/>
<circle cx="17.7" cy="888.5" r="0.42" fill="#a8806c" opacity="0.26"/>
<circle cx="66.2" cy="900.1" r="0.51" fill="#a8806c" opacity="0.43"/>
<circle cx="105.0" cy="872.6" r="0.34" fill="#a8806c" opacity="0.46"/>
<circle cx="67.2" cy="896.7" r="0.57" fill="#a8806c" opacity="0.40"/>
<circle cx="95.3" cy="882.7" r="0.43" fill="#a8806c" opacity="0.33"/>
<circle cx="119.9" cy="907.0" r="0.53" fill="#a8806c" opacity="0.50"/>
<circle cx="141.5" cy="895.2" r="0.49" fill="#a8806c" opacity="0.41"/>
<circle cx="52.0" cy="913.1" r="0.33" fill="#a8806c" opacity="0.40"/>
<circle cx="129.9" cy="896.5" r="0.49" fill="#a8806c" opacity="0.34"/>
<circle cx="70.3" cy="885.1" r="0.49" fill="#a8806c" opacity="0.39"/>
<circle cx="112.1" cy="897.0" r="0.35" fill="#a8806c" opacity="0.48"/>
<circle cx="129.2" cy="887.4" r="0.45" fill="#a8806c" opacity="0.59"/>
<circle cx="6.3" cy="891.9" r="0.35" fill="#a8806c" opacity="0.52"/>
<circle cx="156.1" cy="890.3" r="0.33" fill="#a8806c" opacity="0.45"/>
<circle cx="89.8" cy="882.6" r="0.45" fill="#a8806c" opacity="0.47"/>
<circle cx="137.6" cy="890.3" r="0.42" fill="#a8806c" opacity="0.58"/>
<circle cx="34.9" cy="902.2" r="0.42" fill="#a8806c" opacity="0.52"/>
<circle cx="20.3" cy="916.3" r="0.41" fill="#a8806c" opacity="0.27"/>
<circle cx="45.5" cy="909.1" r="0.30" fill="#a8806c" opacity="0.40"/>
<circle cx="69.8" cy="892.6" r="0.41" fill="#a8806c" opacity="0.34"/>
<circle cx="37.3" cy="905.3" r="0.58" fill="#a8806c" opacity="0.43"/>
<circle cx="36.3" cy="906.4" r="0.42" fill="#a8806c" opacity="0.32"/>
<circle cx="21.5" cy="898.0" r="0.54" fill="#a8806c" opacity="0.47"/>
<circle cx="77.9" cy="882.9" r="0.37" fill="#a8806c" opacity="0.59"/>
<circle cx="58.6" cy="897.1" r="0.55" fill="#a8806c" opacity="0.54"/>
<circle cx="77.7" cy="877.3" r="0.46" fill="#a8806c" opacity="0.29"/>
<circle cx="138.4" cy="886.8" r="0.56" fill="#a8806c" opacity="0.34"/>
<circle cx="62.4" cy="888.2" r="0.43" fill="#a8806c" opacity="0.32"/>
<circle cx="0.4" cy="895.9" r="0.38" fill="#a8806c" opacity="0.34"/>
<circle cx="50.1" cy="915.1" r="0.43" fill="#a8806c" opacity="0.47"/>
<circle cx="109.4" cy="870.5" r="0.58" fill="#a8806c" opacity="0.55"/>
<circle cx="9.5" cy="898.6" r="0.57" fill="#a8806c" opacity="0.52"/>
<circle cx="23.3" cy="900.6" r="0.49" fill="#a8806c" opacity="0.26"/>
<circle cx="1.9" cy="908.0" r="0.50" fill="#a8806c" opacity="0.34"/>
<circle cx="16.9" cy="887.9" r="0.37" fill="#a8806c" opacity="0.52"/>
<circle cx="57.5" cy="893.9" r="0.57" fill="#a8806c" opacity="0.53"/>
<circle cx="27.9" cy="905.2" r="0.48" fill="#a8806c" opacity="0.52"/>
<circle cx="111.0" cy="892.0" r="0.54" fill="#a8806c" opacity="0.54"/>
<circle cx="32.8" cy="901.0" r="0.46" fill="#a8806c" opacity="0.51"/>
<circle cx="72.8" cy="901.8" r="0.47" fill="#a8806c" opacity="0.34"/>
<circle cx="38.9" cy="898.8" r="0.45" fill="#a8806c" opacity="0.27"/>
<circle cx="77.5" cy="875.1" r="0.45" fill="#a8806c" opacity="0.42"/>
<circle cx="89.6" cy="891.3" r="0.30" fill="#a8806c" opacity="0.54"/>
<circle cx="77.7" cy="883.0" r="0.50" fill="#a8806c" opacity="0.54"/>
<circle cx="62.2" cy="891.4" r="0.59" fill="#a8806c" opacity="0.28"/>
<circle cx="105.7" cy="877.2" r="0.31" fill="#a8806c" opacity="0.46"/>
<circle cx="113.3" cy="897.3" r="0.40" fill="#a8806c" opacity="0.59"/>
<circle cx="84.8" cy="876.8" r="0.57" fill="#a8806c" opacity="0.26"/>
<circle cx="119.2" cy="876.9" r="0.40" fill="#a8806c" opacity="0.55"/>
<circle cx="60.8" cy="893.9" r="0.46" fill="#a8806c" opacity="0.52"/>
<circle cx="35.0" cy="898.2" r="0.43" fill="#a8806c" opacity="0.44"/>
<circle cx="137.2" cy="885.7" r="0.55" fill="#a8806c" opacity="0.39"/>
<circle cx="83.6" cy="873.4" r="0.45" fill="#a8806c" opacity="0.59"/>
<circle cx="108.7" cy="883.9" r="0.40" fill="#a8806c" opacity="0.36"/>
<circle cx="49.7" cy="917.2" r="0.49" fill="#a8806c" opacity="0.52"/>
<circle cx="6.6" cy="895.4" r="0.57" fill="#a8806c" opacity="0.44"/>
<circle cx="8.3" cy="888.7" r="0.30" fill="#a8806c" opacity="0.32"/>
<circle cx="153.0" cy="892.8" r="0.50" fill="#a8806c" opacity="0.53"/>
<circle cx="151.0" cy="892.9" r="0.49" fill="#a8806c" opacity="0.47"/>
<circle cx="115.6" cy="876.0" r="0.50" fill="#a8806c" opacity="0.32"/>
<circle cx="110.7" cy="872.4" r="0.53" fill="#a8806c" opacity="0.29"/>
<circle cx="30.1" cy="891.2" r="0.53" fill="#a8806c" opacity="0.57"/>
<circle cx="108.8" cy="870.6" r="0.55" fill="#a8806c" opacity="0.53"/>
<circle cx="93.3" cy="870.2" r="0.39" fill="#a8806c" opacity="0.40"/>
<circle cx="52.9" cy="908.0" r="0.49" fill="#a8806c" opacity="0.58"/>
<circle cx="9.1" cy="892.1" r="0.31" fill="#a8806c" opacity="0.29"/>
<circle cx="134.5" cy="891.8" r="0.58" fill="#a8806c" opacity="0.41"/>
<circle cx="2.3" cy="890.2" r="0.48" fill="#a8806c" opacity="0.58"/>
<circle cx="162.8" cy="889.2" r="0.42" fill="#a8806c" opacity="0.29"/>
<circle cx="107.0" cy="868.0" r="0.35" fill="#a8806c" opacity="0.26"/>
<circle cx="0.8" cy="895.0" r="0.34" fill="#a8806c" opacity="0.59"/>
<circle cx="14.6" cy="900.9" r="0.34" fill="#a8806c" opacity="0.26"/>
<circle cx="119.4" cy="868.4" r="0.52" fill="#a8806c" opacity="0.32"/>
<circle cx="8.3" cy="896.6" r="0.51" fill="#a8806c" opacity="0.55"/>
<circle cx="121.1" cy="882.6" r="0.49" fill="#a8806c" opacity="0.50"/>
<circle cx="76.5" cy="906.2" r="0.38" fill="#a8806c" opacity="0.59"/>
<circle cx="119.1" cy="865.2" r="0.30" fill="#a8806c" opacity="0.48"/>
<circle cx="135.7" cy="882.5" r="0.39" fill="#a8806c" opacity="0.51"/>
<circle cx="27.6" cy="903.4" r="0.45" fill="#a8806c" opacity="0.27"/>
<circle cx="61.0" cy="896.2" r="0.43" fill="#a8806c" opacity="0.49"/>
<circle cx="24.1" cy="899.6" r="0.41" fill="#a8806c" opacity="0.48"/>
<circle cx="104.5" cy="871.6" r="0.42" fill="#a8806c" opacity="0.53"/>
<circle cx="156.9" cy="899.9" r="0.47" fill="#a8806c" opacity="0.35"/>
<circle cx="10.1" cy="911.8" r="0.51" fill="#a8806c" opacity="0.54"/>
<circle cx="55.1" cy="905.2" r="0.59" fill="#a8806c" opacity="0.54"/>
<circle cx="99.8" cy="869.5" r="0.43" fill="#a8806c" opacity="0.56"/>
<circle cx="62.5" cy="898.5" r="0.48" fill="#a8806c" opacity="0.56"/>
<circle cx="134.0" cy="885.5" r="0.30" fill="#a8806c" opacity="0.34"/>
<circle cx="70.1" cy="888.5" r="0.54" fill="#a8806c" opacity="0.56"/>
<polyline points="169.4,901.2 173.6,905.4 177.9,902.6 182.2,906.9 186.5,904.0 190.7,904.6" fill="none" stroke="#b08a78" stroke-width="1.0" stroke-linecap="round" stroke-linejoin="round" opacity="0.8"/>
<circle cx="160" cy="939" r="3.3" fill="#fafafa"/>
<circle cx="27" cy="900" r="2.6" fill="#f0f0f2"/>
<ellipse cx="52" cy="925" rx="1.5" ry="3" fill="#f4f4f6"/>
<line x1="1.50" y1="961.80" x2="14.20" y2="961.80" stroke="#666" stroke-width="0.6" />
<rect x="170.8" y="836.4" width="18.5" height="14.1" fill="#f3f3f5" stroke="#b5b5b5" stroke-width="0.5"/>
<rect x="176" y="837.5" width="5" height="3" fill="none" stroke="#d04040" stroke-width="0.4"/>
<path d="M172,842 q4,-3 8,0 t8,2" fill="none" stroke="#ccc" stroke-width="0.8"/>
</g>
<g clip-path="url(#c2)">
<rect x="196.10" y="835.20" width="193.20" height="132.10" fill="#eceef2" />
<ellipse cx="222" cy="868" rx="26" ry="36" fill="#eef0f4"/>
<ellipse cx="330" cy="846" rx="45" ry="10" fill="#eceff3"/>
<polygon points="381.2,903.0 390.0,906.5 390.0,970.1 322.8,970.1 324.3,967.2 333.1,961.4 347.7,952.6 356.4,943.9 365.2,926.4 376.9,908.8" fill="#f9f9fa" />
<ellipse cx="362" cy="866" rx="27" ry="19" fill="#dfe4ee"/>
<polygon points="244.0,879.6 246.9,868.0 257.2,859.2 268.8,855.7 280.5,854.8 289.3,857.7 295.1,859.2 297.4,865.0 299.5,856.9 306.8,855.7 315.5,860.7 321.4,868.0 325.8,879.6 327.2,888.4 336.0,886.9 344.7,882.6 362.3,884.0 371.0,886.9 376.9,894.2 381.2,903.0 376.9,908.8 365.2,926.4 356.4,943.9 347.7,952.6 333.1,961.4 324.3,967.2 322.8,970.1 299.8,970.1 299.0,967.3 296.0,955.0 295.0,944.0 288.4,944.0 282.6,941.0 276.8,935.2 268.0,926.4 260.7,920.6 253.0,917.0 246.0,913.0 244.9,908.8 245.5,897.2" fill="none" stroke="#dde2ec" stroke-width="5"/>
<polygon points="221.3,970.0 221.3,935.2 228.6,927.9 238.8,926.4 250.5,929.4 259.2,938.1 268.0,944.0 276.8,949.8 282.6,958.5 285.5,967.3 286.0,970.0" fill="none" stroke="#dde2ec" stroke-width="4"/>
<filter id="tex" color-interpolation-filters="sRGB"><feTurbulence type="fractalNoise" baseFrequency="0.45" numOctaves="2" seed="5" result="n"/><feColorMatrix in="n" type="matrix" values="0.32 0 0 0 0.630 0.304 0 0 0 0.538 0.288 0 0 0 0.496 0 0 0 0 1" result="c"/><feComposite in="c" in2="SourceGraphic" operator="in"/></filter>
<g filter="url(#tex)">
<polygon points="244.0,879.6 246.9,868.0 257.2,859.2 268.8,855.7 280.5,854.8 289.3,857.7 295.1,859.2 297.4,865.0 299.5,856.9 306.8,855.7 315.5,860.7 321.4,868.0 325.8,879.6 327.2,888.4 336.0,886.9 344.7,882.6 362.3,884.0 371.0,886.9 376.9,894.2 381.2,903.0 376.9,908.8 365.2,926.4 356.4,943.9 347.7,952.6 333.1,961.4 324.3,967.2 322.8,970.1 299.8,970.1 299.0,967.3 296.0,955.0 295.0,944.0 288.4,944.0 282.6,941.0 276.8,935.2 268.0,926.4 260.7,920.6 253.0,917.0 246.0,913.0 244.9,908.8 245.5,897.2" fill="#c6ad9f" />
<polygon points="221.3,970.0 221.3,935.2 228.6,927.9 238.8,926.4 250.5,929.4 259.2,938.1 268.0,944.0 276.8,949.8 282.6,958.5 285.5,967.3 286.0,970.0" fill="#c6ad9f" />
<polygon points="338.9,857.7 344.7,854.8 353.5,856.3 357.9,862.1 362.3,859.2 368.1,862.1 369.6,868.0 376.9,866.5 384.2,872.3 382.7,878.2 376.9,879.6 371.0,878.2 365.2,876.7 359.3,876.7 350.6,876.7 341.8,873.8 337.4,866.5" fill="#c6ad9f" />
</g>
<circle cx="290.7" cy="852.8" r="4.3" fill="#c6ad9f"/>
<circle cx="357.0" cy="855.7" r="2.2" fill="#b8917e"/>
<circle cx="369.6" cy="857.7" r="1.6" fill="#b8917e"/>
<circle cx="381.2" cy="874.4" r="2.4" fill="#b8917e"/>
<ellipse cx="255.7" cy="926.9" rx="1.6" ry="1.0" fill="#aa8370"/>
<ellipse cx="266.5" cy="934.5" rx="2.0" ry="1.2" fill="#aa8370"/>
<ellipse cx="276.1" cy="941.5" rx="3.0" ry="1.6" fill="#aa8370"/>
<ellipse cx="286.4" cy="958.5" rx="1.8" ry="1.3" fill="#aa8370"/>
<ellipse cx="204.6" cy="954.1" rx="1.4" ry="2.0" fill="#aa8370"/>
<polygon points="247.2,916.4 257.2,919.9 265.3,921.1 271.8,917.0 274.7,905.9 275.3,892.8 278.2,892.5 277.6,908.2 275.3,921.1 267.1,925.8 256.6,924.6 246.6,919.3" fill="#f4f5f8" />
<polyline points="297.4,859.2 298.6,870.9 300.9,881.1 302.7,889.9" fill="none" stroke="#eef0f4" stroke-width="1.3" stroke-linecap="round" stroke-linejoin="round" />
<ellipse cx="238.2" cy="940.4" rx="6" ry="3.5" fill="#eceef2"/>
<ellipse cx="260.1" cy="955.5" rx="4" ry="3" fill="#eceef2"/>
<ellipse cx="242.6" cy="958.5" rx="3" ry="2" fill="#eceef2"/>
<ellipse cx="302.4" cy="904.5" rx="2.5" ry="2" fill="#eceef2"/>
<ellipse cx="277.6" cy="967.2" rx="3" ry="2" fill="#eceef2"/>
<polygon points="224.5,929.3 225.6,946.8 222.7,970.1 217.7,970.1 219.2,952.6 220.7,932.2" fill="#f2f3f6" />
<polygon points="347.1,876.7 353.5,879.1 365.2,881.1 369.6,884.0 360.8,885.5 349.1,882.0" fill="#eef0f4" />
<polyline points="321.4,917.6 320.2,929.3 318.5,940.9 316.1,952.6" fill="none" stroke="#e9e8ec" stroke-width="1.1" stroke-linecap="round" stroke-linejoin="round" />
<polyline points="336.0,917.6 335.4,929.3 334.2,940.9" fill="none" stroke="#e9e8ec" stroke-width="1.1" stroke-linecap="round" stroke-linejoin="round" />
<polyline points="349.1,926.4 351.2,935.1 353.5,946.8" fill="none" stroke="#e9e8ec" stroke-width="1.1" stroke-linecap="round" stroke-linejoin="round" />
<polyline points="311.2,935.1 314.1,946.8" fill="none" stroke="#e9e8ec" stroke-width="1.1" stroke-linecap="round" stroke-linejoin="round" />
<polyline points="300.9,888.4 302.4,900.1" fill="none" stroke="#e9e8ec" stroke-width="1.1" stroke-linecap="round" stroke-linejoin="round" />
<polyline points="365.2,914.7 364.0,923.4" fill="none" stroke="#e9e8ec" stroke-width="1.1" stroke-linecap="round" stroke-linejoin="round" />
<polyline points="330.1,897.2 327.2,908.8" fill="none" stroke="#e9e8ec" stroke-width="1.1" stroke-linecap="round" stroke-linejoin="round" />
<circle cx="236.7" cy="947.5" r="0.47" fill="#b08f7f" opacity="0.65"/>
<circle cx="338.9" cy="956.9" r="0.59" fill="#e6dbd7" opacity="0.65"/>
<circle cx="315.9" cy="906.7" r="0.44" fill="#b89888" opacity="0.65"/>
<circle cx="267.2" cy="921.0" r="0.56" fill="#b89888" opacity="0.65"/>
<circle cx="262.8" cy="879.8" r="0.71" fill="#dccbc3" opacity="0.65"/>
<circle cx="303.1" cy="860.3" r="0.70" fill="#e6dbd7" opacity="0.65"/>
<circle cx="267.0" cy="917.8" r="0.75" fill="#e6dbd7" opacity="0.65"/>
<circle cx="313.0" cy="905.8" r="0.44" fill="#b08f7f" opacity="0.65"/>
<circle cx="260.6" cy="871.1" r="0.51" fill="#e6dbd7" opacity="0.65"/>
<circle cx="319.7" cy="897.1" r="0.46" fill="#b08f7f" opacity="0.65"/>
<circle cx="376.7" cy="907.7" r="0.52" fill="#dccbc3" opacity="0.65"/>
<circle cx="303.7" cy="859.6" r="0.62" fill="#e6dbd7" opacity="0.65"/>
<circle cx="284.8" cy="910.8" r="0.39" fill="#dccbc3" opacity="0.65"/>
<circle cx="262.5" cy="951.9" r="0.61" fill="#b89888" opacity="0.65"/>
<circle cx="264.0" cy="958.3" r="0.54" fill="#e6dbd7" opacity="0.65"/>
<circle cx="262.0" cy="871.1" r="0.36" fill="#dccbc3" opacity="0.65"/>
<circle cx="342.2" cy="907.0" r="0.74" fill="#dccbc3" opacity="0.65"/>
<circle cx="331.7" cy="957.9" r="0.47" fill="#dccbc3" opacity="0.65"/>
<circle cx="319.8" cy="925.0" r="0.43" fill="#b89888" opacity="0.65"/>
<circle cx="365.1" cy="893.4" r="0.80" fill="#b08f7f" opacity="0.65"/>
<circle cx="270.7" cy="891.2" r="0.73" fill="#dccbc3" opacity="0.65"/>
<circle cx="237.5" cy="942.0" r="0.38" fill="#b89888" opacity="0.65"/>
<circle cx="253.0" cy="938.3" r="0.65" fill="#b08f7f" opacity="0.65"/>
<circle cx="277.5" cy="919.2" r="0.56" fill="#dccbc3" opacity="0.65"/>
<circle cx="289.1" cy="895.6" r="0.57" fill="#e6dbd7" opacity="0.65"/>
<circle cx="256.8" cy="877.9" r="0.76" fill="#b08f7f" opacity="0.65"/>
<circle cx="371.9" cy="904.7" r="0.71" fill="#b08f7f" opacity="0.65"/>
<circle cx="255.0" cy="947.4" r="0.77" fill="#dccbc3" opacity="0.65"/>
<circle cx="252.2" cy="902.3" r="0.77" fill="#dccbc3" opacity="0.65"/>
<circle cx="241.9" cy="963.8" r="0.72" fill="#e6dbd7" opacity="0.65"/>
<circle cx="305.9" cy="923.5" r="0.50" fill="#b08f7f" opacity="0.65"/>
<circle cx="347.0" cy="871.1" r="0.60" fill="#b89888" opacity="0.65"/>
<circle cx="253.0" cy="951.9" r="0.54" fill="#e6dbd7" opacity="0.65"/>
<circle cx="320.8" cy="884.7" r="0.47" fill="#b08f7f" opacity="0.65"/>
<circle cx="247.4" cy="903.4" r="0.40" fill="#b89888" opacity="0.65"/>
<circle cx="263.6" cy="905.9" r="0.40" fill="#e6dbd7" opacity="0.65"/>
<circle cx="298.7" cy="880.6" r="0.77" fill="#b08f7f" opacity="0.65"/>
<circle cx="245.5" cy="883.9" r="0.38" fill="#b08f7f" opacity="0.65"/>
<circle cx="345.5" cy="884.3" r="0.55" fill="#dccbc3" opacity="0.65"/>
<circle cx="310.7" cy="909.8" r="0.35" fill="#b89888" opacity="0.65"/>
<circle cx="362.3" cy="911.6" r="0.51" fill="#b08f7f" opacity="0.65"/>
<circle cx="274.0" cy="871.1" r="0.58" fill="#b08f7f" opacity="0.65"/>
<circle cx="266.6" cy="870.5" r="0.72" fill="#dccbc3" opacity="0.65"/>
<circle cx="351.0" cy="870.5" r="0.63" fill="#b08f7f" opacity="0.65"/>
<circle cx="342.5" cy="945.0" r="0.44" fill="#e6dbd7" opacity="0.65"/>
<circle cx="240.4" cy="935.7" r="0.73" fill="#b89888" opacity="0.65"/>
<circle cx="285.3" cy="883.0" r="0.39" fill="#b89888" opacity="0.65"/>
<circle cx="295.1" cy="939.3" r="0.74" fill="#b08f7f" opacity="0.65"/>
<circle cx="272.3" cy="871.8" r="0.37" fill="#e6dbd7" opacity="0.65"/>
<circle cx="341.7" cy="917.3" r="0.51" fill="#dccbc3" opacity="0.65"/>
<circle cx="268.9" cy="947.1" r="0.70" fill="#e6dbd7" opacity="0.65"/>
<circle cx="368.0" cy="917.4" r="0.48" fill="#dccbc3" opacity="0.65"/>
<circle cx="247.1" cy="935.5" r="0.58" fill="#b89888" opacity="0.65"/>
<circle cx="314.4" cy="912.9" r="0.46" fill="#dccbc3" opacity="0.65"/>
<circle cx="256.7" cy="886.5" r="0.36" fill="#dccbc3" opacity="0.65"/>
<circle cx="271.6" cy="948.0" r="0.59" fill="#b89888" opacity="0.65"/>
<circle cx="341.7" cy="862.0" r="0.67" fill="#dccbc3" opacity="0.65"/>
<circle cx="308.5" cy="908.6" r="0.40" fill="#e6dbd7" opacity="0.65"/>
<circle cx="249.3" cy="953.5" r="0.74" fill="#b08f7f" opacity="0.65"/>
<circle cx="253.4" cy="917.0" r="0.42" fill="#b89888" opacity="0.65"/>
<circle cx="291.8" cy="899.2" r="0.53" fill="#dccbc3" opacity="0.65"/>
<circle cx="283.8" cy="878.1" r="0.67" fill="#e6dbd7" opacity="0.65"/>
<circle cx="364.0" cy="916.0" r="0.72" fill="#e6dbd7" opacity="0.65"/>
<circle cx="312.3" cy="962.1" r="0.46" fill="#e6dbd7" opacity="0.65"/>
<circle cx="297.1" cy="924.0" r="0.40" fill="#e6dbd7" opacity="0.65"/>
<circle cx="259.8" cy="887.9" r="0.58" fill="#b08f7f" opacity="0.65"/>
<circle cx="316.2" cy="958.2" r="0.46" fill="#dccbc3" opacity="0.65"/>
<circle cx="312.7" cy="900.7" r="0.48" fill="#dccbc3" opacity="0.65"/>
<circle cx="278.6" cy="925.8" r="0.38" fill="#dccbc3" opacity="0.65"/>
<circle cx="323.8" cy="959.0" r="0.41" fill="#b89888" opacity="0.65"/>
<circle cx="250.9" cy="884.4" r="0.61" fill="#b89888" opacity="0.65"/>
<circle cx="347.7" cy="883.6" r="0.62" fill="#b89888" opacity="0.65"/>
<circle cx="320.7" cy="926.1" r="0.60" fill="#b08f7f" opacity="0.65"/>
<circle cx="278.3" cy="905.9" r="0.36" fill="#e6dbd7" opacity="0.65"/>
<circle cx="283.1" cy="872.1" r="0.79" fill="#b89888" opacity="0.65"/>
<circle cx="255.8" cy="961.4" r="0.60" fill="#e6dbd7" opacity="0.65"/>
<circle cx="308.1" cy="883.3" r="0.48" fill="#b08f7f" opacity="0.65"/>
<circle cx="352.8" cy="868.6" r="0.62" fill="#dccbc3" opacity="0.65"/>
<circle cx="285.3" cy="927.0" r="0.73" fill="#b89888" opacity="0.65"/>
<circle cx="286.3" cy="939.3" r="0.80" fill="#b08f7f" opacity="0.65"/>
<circle cx="296.3" cy="928.2" r="0.65" fill="#b08f7f" opacity="0.65"/>
<circle cx="328.0" cy="949.4" r="0.68" fill="#dccbc3" opacity="0.65"/>
<circle cx="348.2" cy="938.9" r="0.47" fill="#b89888" opacity="0.65"/>
<circle cx="330.3" cy="924.0" r="0.54" fill="#b08f7f" opacity="0.65"/>
<circle cx="246.4" cy="898.0" r="0.57" fill="#dccbc3" opacity="0.65"/>
<circle cx="296.4" cy="941.7" r="0.52" fill="#dccbc3" opacity="0.65"/>
<circle cx="301.9" cy="903.6" r="0.48" fill="#e6dbd7" opacity="0.65"/>
<circle cx="292.1" cy="915.0" r="0.64" fill="#b89888" opacity="0.65"/>
<circle cx="231.1" cy="937.3" r="0.52" fill="#b89888" opacity="0.65"/>
<circle cx="277.7" cy="912.8" r="0.55" fill="#b08f7f" opacity="0.65"/>
<circle cx="289.9" cy="877.1" r="0.50" fill="#e6dbd7" opacity="0.65"/>
<circle cx="382.4" cy="873.9" r="0.75" fill="#b89888" opacity="0.65"/>
<circle cx="270.8" cy="954.8" r="0.76" fill="#e6dbd7" opacity="0.65"/>
<circle cx="353.0" cy="913.0" r="0.58" fill="#b89888" opacity="0.65"/>
<circle cx="312.2" cy="930.2" r="0.56" fill="#b89888" opacity="0.65"/>
<circle cx="236.5" cy="929.1" r="0.78" fill="#b89888" opacity="0.65"/>
<circle cx="337.6" cy="911.5" r="0.53" fill="#dccbc3" opacity="0.65"/>
<circle cx="309.6" cy="925.9" r="0.75" fill="#b08f7f" opacity="0.65"/>
<circle cx="300.0" cy="923.1" r="0.66" fill="#e6dbd7" opacity="0.65"/>
<circle cx="348.7" cy="860.8" r="0.49" fill="#e6dbd7" opacity="0.65"/>
<circle cx="311.5" cy="862.9" r="0.66" fill="#e6dbd7" opacity="0.65"/>
<circle cx="371.2" cy="899.2" r="0.59" fill="#b08f7f" opacity="0.65"/>
<circle cx="359.8" cy="874.3" r="0.54" fill="#b08f7f" opacity="0.65"/>
<circle cx="330.4" cy="934.6" r="0.35" fill="#b89888" opacity="0.65"/>
<circle cx="230.4" cy="933.1" r="0.76" fill="#dccbc3" opacity="0.65"/>
<circle cx="293.2" cy="861.5" r="0.65" fill="#dccbc3" opacity="0.65"/>
<circle cx="261.3" cy="908.2" r="0.74" fill="#e6dbd7" opacity="0.65"/>
<circle cx="372.4" cy="910.2" r="0.61" fill="#b08f7f" opacity="0.65"/>
<circle cx="295.4" cy="864.2" r="0.58" fill="#b08f7f" opacity="0.65"/>
<circle cx="242.1" cy="960.9" r="0.72" fill="#b89888" opacity="0.65"/>
<circle cx="327.5" cy="944.4" r="0.64" fill="#dccbc3" opacity="0.65"/>
<circle cx="338.8" cy="917.7" r="0.67" fill="#b08f7f" opacity="0.65"/>
<circle cx="286.3" cy="869.8" r="0.63" fill="#e6dbd7" opacity="0.65"/>
<circle cx="265.0" cy="896.3" r="0.55" fill="#dccbc3" opacity="0.65"/>
<circle cx="237.0" cy="958.9" r="0.49" fill="#b08f7f" opacity="0.65"/>
<circle cx="278.3" cy="920.5" r="0.79" fill="#b89888" opacity="0.65"/>
<circle cx="240.7" cy="929.2" r="0.54" fill="#b08f7f" opacity="0.65"/>
<circle cx="293.4" cy="933.3" r="0.71" fill="#dccbc3" opacity="0.65"/>
<circle cx="268.7" cy="870.3" r="0.52" fill="#e6dbd7" opacity="0.65"/>
<circle cx="231.2" cy="953.2" r="0.60" fill="#b89888" opacity="0.65"/>
<circle cx="248.3" cy="912.4" r="0.50" fill="#b89888" opacity="0.65"/>
<circle cx="297.1" cy="956.8" r="0.52" fill="#b08f7f" opacity="0.65"/>
<circle cx="304.3" cy="890.3" r="0.37" fill="#b89888" opacity="0.65"/>
<circle cx="335.6" cy="889.9" r="0.46" fill="#b08f7f" opacity="0.65"/>
<circle cx="250.6" cy="873.0" r="0.60" fill="#b08f7f" opacity="0.65"/>
<circle cx="304.3" cy="943.0" r="0.42" fill="#b08f7f" opacity="0.65"/>
<circle cx="286.1" cy="934.5" r="0.63" fill="#b89888" opacity="0.65"/>
<circle cx="322.3" cy="884.8" r="0.58" fill="#b89888" opacity="0.65"/>
<circle cx="266.1" cy="903.0" r="0.77" fill="#b08f7f" opacity="0.65"/>
<circle cx="300.0" cy="965.8" r="0.53" fill="#b08f7f" opacity="0.65"/>
<circle cx="311.1" cy="864.7" r="0.66" fill="#dccbc3" opacity="0.65"/>
<circle cx="244.5" cy="949.7" r="0.36" fill="#b89888" opacity="0.65"/>
<circle cx="344.2" cy="867.0" r="0.53" fill="#dccbc3" opacity="0.65"/>
<circle cx="365.3" cy="887.6" r="0.38" fill="#dccbc3" opacity="0.65"/>
<circle cx="350.6" cy="872.6" r="0.39" fill="#e6dbd7" opacity="0.65"/>
<circle cx="293.4" cy="891.6" r="0.70" fill="#b89888" opacity="0.65"/>
<circle cx="251.0" cy="882.4" r="0.51" fill="#dccbc3" opacity="0.65"/>
<circle cx="357.1" cy="930.8" r="0.36" fill="#b89888" opacity="0.65"/>
<circle cx="341.9" cy="904.1" r="0.51" fill="#b89888" opacity="0.65"/>
<circle cx="248.3" cy="956.8" r="0.67" fill="#b08f7f" opacity="0.65"/>
<circle cx="255.8" cy="873.2" r="0.42" fill="#e6dbd7" opacity="0.65"/>
<circle cx="347.4" cy="914.6" r="0.60" fill="#b08f7f" opacity="0.65"/>
<circle cx="266.2" cy="908.3" r="0.77" fill="#e6dbd7" opacity="0.65"/>
<circle cx="336.6" cy="917.3" r="0.40" fill="#dccbc3" opacity="0.65"/>
<circle cx="351.4" cy="926.7" r="0.74" fill="#dccbc3" opacity="0.65"/>
<circle cx="323.0" cy="931.4" r="0.66" fill="#b08f7f" opacity="0.65"/>
<circle cx="353.6" cy="890.4" r="0.54" fill="#dccbc3" opacity="0.65"/>
<circle cx="313.8" cy="890.8" r="0.55" fill="#b89888" opacity="0.65"/>
<circle cx="284.1" cy="908.9" r="0.58" fill="#b89888" opacity="0.65"/>
<circle cx="337.0" cy="949.0" r="0.57" fill="#b08f7f" opacity="0.65"/>
<circle cx="260.1" cy="961.4" r="0.43" fill="#e6dbd7" opacity="0.65"/>
<circle cx="256.0" cy="941.4" r="0.59" fill="#b08f7f" opacity="0.65"/>
<circle cx="269.7" cy="856.9" r="0.51" fill="#e6dbd7" opacity="0.65"/>
<circle cx="307.3" cy="906.5" r="0.35" fill="#b08f7f" opacity="0.65"/>
<circle cx="340.0" cy="865.6" r="0.66" fill="#e6dbd7" opacity="0.65"/>
<circle cx="251.2" cy="932.8" r="0.50" fill="#b08f7f" opacity="0.65"/>
<circle cx="359.6" cy="914.1" r="0.65" fill="#b08f7f" opacity="0.65"/>
<circle cx="254.6" cy="964.6" r="0.72" fill="#b89888" opacity="0.65"/>
<circle cx="248.2" cy="883.9" r="0.57" fill="#e6dbd7" opacity="0.65"/>
<circle cx="236.9" cy="954.8" r="0.44" fill="#e6dbd7" opacity="0.65"/>
<circle cx="341.6" cy="902.4" r="0.42" fill="#dccbc3" opacity="0.65"/>
<circle cx="300.8" cy="916.6" r="0.43" fill="#e6dbd7" opacity="0.65"/>
<circle cx="243.4" cy="933.9" r="0.40" fill="#e6dbd7" opacity="0.65"/>
<circle cx="307.7" cy="900.8" r="0.70" fill="#b08f7f" opacity="0.65"/>
<circle cx="281.2" cy="892.0" r="0.64" fill="#dccbc3" opacity="0.65"/>
<circle cx="329.8" cy="959.4" r="0.64" fill="#e6dbd7" opacity="0.65"/>
<circle cx="242.4" cy="937.5" r="0.70" fill="#dccbc3" opacity="0.65"/>
<circle cx="363.5" cy="884.7" r="0.78" fill="#b08f7f" opacity="0.65"/>
<circle cx="313.5" cy="954.8" r="0.40" fill="#b08f7f" opacity="0.65"/>
<circle cx="344.3" cy="886.3" r="0.52" fill="#e6dbd7" opacity="0.65"/>
<circle cx="332.9" cy="891.7" r="0.52" fill="#b08f7f" opacity="0.65"/>
<circle cx="317.6" cy="893.2" r="0.46" fill="#e6dbd7" opacity="0.65"/>
<circle cx="329.9" cy="945.9" r="0.76" fill="#b89888" opacity="0.65"/>
<circle cx="309.4" cy="868.4" r="0.62" fill="#e6dbd7" opacity="0.65"/>
<circle cx="266.2" cy="866.2" r="0.39" fill="#b89888" opacity="0.65"/>
<circle cx="230.4" cy="948.4" r="0.41" fill="#b89888" opacity="0.65"/>
<circle cx="343.0" cy="954.2" r="0.55" fill="#dccbc3" opacity="0.65"/>
<circle cx="335.9" cy="946.7" r="0.52" fill="#b08f7f" opacity="0.65"/>
<circle cx="230.7" cy="944.1" r="0.61" fill="#e6dbd7" opacity="0.65"/>
<circle cx="304.5" cy="913.5" r="0.54" fill="#b89888" opacity="0.65"/>
<circle cx="315.0" cy="923.2" r="0.79" fill="#b08f7f" opacity="0.65"/>
<circle cx="337.6" cy="921.3" r="0.60" fill="#e6dbd7" opacity="0.65"/>
<circle cx="297.0" cy="893.1" r="0.48" fill="#b08f7f" opacity="0.65"/>
<circle cx="337.9" cy="902.3" r="0.42" fill="#dccbc3" opacity="0.65"/>
<circle cx="322.1" cy="914.9" r="0.51" fill="#b89888" opacity="0.65"/>
<circle cx="268.2" cy="901.6" r="0.40" fill="#e6dbd7" opacity="0.65"/>
<circle cx="258.7" cy="954.1" r="0.45" fill="#dccbc3" opacity="0.65"/>
<circle cx="363.1" cy="926.0" r="0.59" fill="#b08f7f" opacity="0.65"/>
<circle cx="270.0" cy="907.2" r="0.45" fill="#b89888" opacity="0.65"/>
<circle cx="311.6" cy="918.8" r="0.73" fill="#dccbc3" opacity="0.65"/>
<circle cx="338.0" cy="943.6" r="0.74" fill="#b08f7f" opacity="0.65"/>
<circle cx="317.5" cy="933.6" r="0.63" fill="#dccbc3" opacity="0.65"/>
<circle cx="303.1" cy="930.3" r="0.79" fill="#b08f7f" opacity="0.65"/>
<circle cx="260.5" cy="905.6" r="0.41" fill="#dccbc3" opacity="0.65"/>
<circle cx="353.4" cy="856.7" r="0.37" fill="#b08f7f" opacity="0.65"/>
<circle cx="236.6" cy="932.1" r="0.56" fill="#b08f7f" opacity="0.65"/>
<circle cx="248.2" cy="935.2" r="0.43" fill="#e6dbd7" opacity="0.65"/>
<circle cx="348.5" cy="889.9" r="0.72" fill="#dccbc3" opacity="0.65"/>
<circle cx="249.5" cy="893.6" r="0.67" fill="#e6dbd7" opacity="0.65"/>
<circle cx="357.7" cy="863.2" r="0.46" fill="#b08f7f" opacity="0.65"/>
<circle cx="260.7" cy="902.3" r="0.40" fill="#b89888" opacity="0.65"/>
<circle cx="357.3" cy="871.7" r="0.74" fill="#e6dbd7" opacity="0.65"/>
<circle cx="336.5" cy="947.8" r="0.59" fill="#e6dbd7" opacity="0.65"/>
<circle cx="339.6" cy="944.6" r="0.36" fill="#b89888" opacity="0.65"/>
<circle cx="284.4" cy="867.7" r="0.74" fill="#b89888" opacity="0.65"/>
<circle cx="259.0" cy="945.7" r="0.73" fill="#b89888" opacity="0.65"/>
<circle cx="301.3" cy="876.8" r="0.51" fill="#dccbc3" opacity="0.65"/>
<circle cx="314.0" cy="886.4" r="0.62" fill="#b08f7f" opacity="0.65"/>
<circle cx="287.4" cy="904.7" r="0.52" fill="#b89888" opacity="0.65"/>
<circle cx="322.1" cy="889.1" r="0.46" fill="#dccbc3" opacity="0.65"/>
<circle cx="330.3" cy="935.1" r="0.47" fill="#b08f7f" opacity="0.65"/>
<circle cx="273.5" cy="908.5" r="0.51" fill="#e6dbd7" opacity="0.65"/>
<circle cx="321.2" cy="918.4" r="0.80" fill="#b08f7f" opacity="0.65"/>
<circle cx="353.1" cy="924.1" r="0.51" fill="#dccbc3" opacity="0.65"/>
<circle cx="351.4" cy="936.5" r="0.51" fill="#b08f7f" opacity="0.65"/>
<circle cx="317.6" cy="897.5" r="0.67" fill="#dccbc3" opacity="0.65"/>
<circle cx="336.8" cy="953.4" r="0.58" fill="#b89888" opacity="0.65"/>
<circle cx="262.7" cy="954.0" r="0.53" fill="#b89888" opacity="0.65"/>
<circle cx="293.0" cy="940.4" r="0.61" fill="#b08f7f" opacity="0.65"/>
<circle cx="252.9" cy="934.2" r="0.68" fill="#e6dbd7" opacity="0.65"/>
<circle cx="317.7" cy="959.7" r="0.38" fill="#e6dbd7" opacity="0.65"/>
<circle cx="260.2" cy="958.2" r="0.49" fill="#b08f7f" opacity="0.65"/>
<circle cx="286.2" cy="904.7" r="0.67" fill="#b89888" opacity="0.65"/>
<circle cx="280.8" cy="870.5" r="0.60" fill="#e6dbd7" opacity="0.65"/>
<circle cx="350.6" cy="923.3" r="0.67" fill="#b08f7f" opacity="0.65"/>
<circle cx="264.7" cy="896.8" r="0.75" fill="#b08f7f" opacity="0.65"/>
<circle cx="274.9" cy="908.7" r="0.44" fill="#dccbc3" opacity="0.65"/>
<circle cx="284.2" cy="866.0" r="0.47" fill="#b08f7f" opacity="0.65"/>
<circle cx="327.0" cy="943.6" r="0.38" fill="#b08f7f" opacity="0.65"/>
<circle cx="329.6" cy="889.1" r="0.79" fill="#b89888" opacity="0.65"/>
<circle cx="280.4" cy="926.5" r="0.38" fill="#e6dbd7" opacity="0.65"/>
<circle cx="327.6" cy="934.7" r="0.42" fill="#e6dbd7" opacity="0.65"/>
<circle cx="314.2" cy="948.4" r="0.72" fill="#e6dbd7" opacity="0.65"/>
<circle cx="297.3" cy="913.0" r="0.65" fill="#b08f7f" opacity="0.65"/>
<circle cx="325.6" cy="888.7" r="0.72" fill="#e6dbd7" opacity="0.65"/>
<circle cx="332.9" cy="926.2" r="0.60" fill="#b89888" opacity="0.65"/>
<circle cx="287.5" cy="912.0" r="0.41" fill="#e6dbd7" opacity="0.65"/>
<circle cx="334.2" cy="940.6" r="0.42" fill="#e6dbd7" opacity="0.65"/>
<circle cx="330.0" cy="896.9" r="0.77" fill="#dccbc3" opacity="0.65"/>
<circle cx="316.4" cy="874.0" r="0.47" fill="#b08f7f" opacity="0.65"/>
<circle cx="326.4" cy="936.3" r="0.74" fill="#b08f7f" opacity="0.65"/>
<circle cx="314.0" cy="891.0" r="0.55" fill="#b08f7f" opacity="0.65"/>
<circle cx="366.7" cy="874.9" r="0.76" fill="#e6dbd7" opacity="0.65"/>
<circle cx="291.9" cy="874.8" r="0.40" fill="#dccbc3" opacity="0.65"/>
<circle cx="346.6" cy="857.7" r="0.65" fill="#b89888" opacity="0.65"/>
<circle cx="285.8" cy="876.7" r="0.53" fill="#b89888" opacity="0.65"/>
<circle cx="270.1" cy="880.7" r="0.46" fill="#b89888" opacity="0.65"/>
<circle cx="286.3" cy="888.1" r="0.64" fill="#b89888" opacity="0.65"/>
<circle cx="277.5" cy="966.3" r="0.79" fill="#b08f7f" opacity="0.65"/>
<circle cx="355.7" cy="905.9" r="0.78" fill="#e6dbd7" opacity="0.65"/>
<circle cx="251.7" cy="885.1" r="0.50" fill="#dccbc3" opacity="0.65"/>
<circle cx="307.2" cy="954.2" r="0.49" fill="#b08f7f" opacity="0.65"/>
<circle cx="327.0" cy="961.9" r="0.61" fill="#b08f7f" opacity="0.65"/>
<circle cx="370.4" cy="874.5" r="0.37" fill="#e6dbd7" opacity="0.65"/>
<circle cx="353.1" cy="901.4" r="0.74" fill="#b89888" opacity="0.65"/>
<circle cx="374.9" cy="867.6" r="0.39" fill="#e6dbd7" opacity="0.65"/>
<circle cx="355.9" cy="930.7" r="0.41" fill="#dccbc3" opacity="0.65"/>
<circle cx="324.6" cy="917.3" r="0.68" fill="#dccbc3" opacity="0.65"/>
<circle cx="237.7" cy="954.6" r="0.75" fill="#dccbc3" opacity="0.65"/>
<circle cx="249.2" cy="907.0" r="0.59" fill="#b08f7f" opacity="0.65"/>
<circle cx="315.9" cy="924.1" r="0.59" fill="#dccbc3" opacity="0.65"/>
<circle cx="242.3" cy="963.5" r="0.68" fill="#b08f7f" opacity="0.65"/>
<circle cx="273.4" cy="870.7" r="0.47" fill="#e6dbd7" opacity="0.65"/>
<circle cx="383.6" cy="873.0" r="0.53" fill="#dccbc3" opacity="0.65"/>
<circle cx="318.5" cy="892.4" r="0.50" fill="#dccbc3" opacity="0.65"/>
<circle cx="274.9" cy="888.7" r="0.79" fill="#b89888" opacity="0.65"/>
<circle cx="293.5" cy="887.2" r="0.52" fill="#b89888" opacity="0.65"/>
<circle cx="254.0" cy="939.0" r="0.71" fill="#b89888" opacity="0.65"/>
<circle cx="268.0" cy="908.6" r="0.66" fill="#e6dbd7" opacity="0.65"/>
<circle cx="361.3" cy="927.6" r="0.73" fill="#dccbc3" opacity="0.65"/>
<circle cx="237.9" cy="931.2" r="0.66" fill="#e6dbd7" opacity="0.65"/>
<circle cx="300.3" cy="928.2" r="0.79" fill="#b89888" opacity="0.65"/>
<circle cx="230.1" cy="937.3" r="0.58" fill="#b89888" opacity="0.65"/>
<circle cx="324.2" cy="966.4" r="0.72" fill="#b08f7f" opacity="0.65"/>
<circle cx="286.5" cy="857.5" r="0.63" fill="#e6dbd7" opacity="0.65"/>
<circle cx="337.7" cy="887.7" r="0.77" fill="#b08f7f" opacity="0.65"/>
<circle cx="285.3" cy="919.0" r="0.80" fill="#b08f7f" opacity="0.65"/>
<circle cx="240.5" cy="938.6" r="0.59" fill="#e6dbd7" opacity="0.65"/>
<circle cx="313.9" cy="945.2" r="0.65" fill="#b08f7f" opacity="0.65"/>
<circle cx="258.3" cy="960.8" r="0.49" fill="#dccbc3" opacity="0.65"/>
<circle cx="298.1" cy="898.0" r="0.52" fill="#e6dbd7" opacity="0.65"/>
<circle cx="288.0" cy="927.6" r="0.55" fill="#e6dbd7" opacity="0.65"/>
<circle cx="301.4" cy="906.0" r="0.69" fill="#b08f7f" opacity="0.65"/>
<circle cx="288.3" cy="910.9" r="0.63" fill="#b08f7f" opacity="0.65"/>
<circle cx="313.2" cy="943.8" r="0.36" fill="#e6dbd7" opacity="0.65"/>
<circle cx="261.9" cy="916.8" r="0.62" fill="#dccbc3" opacity="0.65"/>
<circle cx="278.7" cy="913.7" r="0.47" fill="#e6dbd7" opacity="0.65"/>
<circle cx="272.2" cy="901.3" r="0.74" fill="#b89888" opacity="0.65"/>
<circle cx="262.1" cy="899.5" r="0.63" fill="#e6dbd7" opacity="0.65"/>
<circle cx="300.4" cy="893.0" r="0.79" fill="#e6dbd7" opacity="0.65"/>
<circle cx="298.5" cy="921.1" r="0.51" fill="#e6dbd7" opacity="0.65"/>
<circle cx="291.3" cy="917.7" r="0.79" fill="#b08f7f" opacity="0.65"/>
<circle cx="365.4" cy="917.9" r="0.65" fill="#dccbc3" opacity="0.65"/>
<circle cx="282.4" cy="858.3" r="0.52" fill="#b89888" opacity="0.65"/>
<circle cx="313.6" cy="908.1" r="0.40" fill="#dccbc3" opacity="0.65"/>
<circle cx="319.6" cy="959.4" r="0.54" fill="#b89888" opacity="0.65"/>
<circle cx="305.3" cy="954.2" r="0.53" fill="#b89888" opacity="0.65"/>
<circle cx="251.5" cy="938.1" r="0.65" fill="#dccbc3" opacity="0.65"/>
<circle cx="347.7" cy="897.0" r="0.77" fill="#dccbc3" opacity="0.65"/>
<circle cx="276.7" cy="888.6" r="0.70" fill="#b89888" opacity="0.65"/>
<circle cx="248.8" cy="875.8" r="0.61" fill="#dccbc3" opacity="0.65"/>
<circle cx="364.9" cy="875.2" r="0.37" fill="#b89888" opacity="0.65"/>
<circle cx="338.3" cy="933.2" r="0.74" fill="#b89888" opacity="0.65"/>
<circle cx="317.5" cy="937.5" r="0.80" fill="#b08f7f" opacity="0.65"/>
<circle cx="253.1" cy="889.1" r="0.43" fill="#dccbc3" opacity="0.65"/>
<circle cx="315.7" cy="910.8" r="0.49" fill="#dccbc3" opacity="0.65"/>
<circle cx="270.5" cy="950.5" r="0.58" fill="#b89888" opacity="0.65"/>
<circle cx="270.9" cy="873.6" r="0.44" fill="#dccbc3" opacity="0.65"/>
<circle cx="333.7" cy="959.1" r="0.67" fill="#b89888" opacity="0.65"/>
<circle cx="252.5" cy="958.9" r="0.44" fill="#e6dbd7" opacity="0.65"/>
<circle cx="314.8" cy="897.8" r="0.37" fill="#e6dbd7" opacity="0.65"/>
<circle cx="264.9" cy="901.4" r="0.67" fill="#b08f7f" opacity="0.65"/>
<circle cx="357.6" cy="919.3" r="0.53" fill="#b89888" opacity="0.65"/>
<circle cx="345.7" cy="873.9" r="0.38" fill="#b08f7f" opacity="0.65"/>
<circle cx="299.0" cy="924.8" r="0.41" fill="#dccbc3" opacity="0.65"/>
<circle cx="344.7" cy="936.3" r="0.57" fill="#b08f7f" opacity="0.65"/>
<circle cx="337.1" cy="929.0" r="0.71" fill="#e6dbd7" opacity="0.65"/>
<circle cx="315.0" cy="868.6" r="0.58" fill="#b08f7f" opacity="0.65"/>
<circle cx="304.0" cy="873.6" r="0.78" fill="#dccbc3" opacity="0.65"/>
<circle cx="295.9" cy="927.1" r="0.67" fill="#e6dbd7" opacity="0.65"/>
<circle cx="300.3" cy="899.7" r="0.77" fill="#dccbc3" opacity="0.65"/>
<circle cx="251.2" cy="868.7" r="0.48" fill="#b89888" opacity="0.65"/>
<circle cx="267.0" cy="918.1" r="0.67" fill="#e6dbd7" opacity="0.65"/>
<circle cx="344.4" cy="886.2" r="0.50" fill="#e6dbd7" opacity="0.65"/>
<circle cx="363.8" cy="867.8" r="0.53" fill="#b08f7f" opacity="0.65"/>
<circle cx="303.8" cy="935.2" r="0.50" fill="#b89888" opacity="0.65"/>
<circle cx="285.9" cy="926.9" r="0.80" fill="#b08f7f" opacity="0.65"/>
<circle cx="276.2" cy="890.7" r="0.75" fill="#b89888" opacity="0.65"/>
<circle cx="375.2" cy="873.5" r="0.74" fill="#e6dbd7" opacity="0.65"/>
<circle cx="325.0" cy="913.3" r="0.44" fill="#dccbc3" opacity="0.65"/>
<circle cx="304.8" cy="939.8" r="0.61" fill="#b08f7f" opacity="0.65"/>
<circle cx="277.7" cy="917.9" r="0.79" fill="#dccbc3" opacity="0.65"/>
<circle cx="283.0" cy="902.6" r="0.50" fill="#b08f7f" opacity="0.65"/>
<circle cx="287.9" cy="862.8" r="0.71" fill="#e6dbd7" opacity="0.65"/>
<circle cx="345.1" cy="903.2" r="0.70" fill="#dccbc3" opacity="0.65"/>
<circle cx="324.7" cy="904.0" r="0.37" fill="#dccbc3" opacity="0.65"/>
<circle cx="322.1" cy="898.3" r="0.54" fill="#b08f7f" opacity="0.65"/>
<circle cx="345.7" cy="935.9" r="0.43" fill="#e6dbd7" opacity="0.65"/>
<circle cx="306.4" cy="867.4" r="0.40" fill="#dccbc3" opacity="0.65"/>
<circle cx="268.0" cy="867.9" r="0.59" fill="#e6dbd7" opacity="0.65"/>
<circle cx="248.7" cy="904.7" r="0.61" fill="#b08f7f" opacity="0.65"/>
<circle cx="318.3" cy="965.6" r="0.68" fill="#b08f7f" opacity="0.65"/>
<circle cx="315.0" cy="878.0" r="0.36" fill="#dccbc3" opacity="0.65"/>
<circle cx="355.8" cy="916.7" r="0.39" fill="#b08f7f" opacity="0.65"/>
<circle cx="257.2" cy="948.4" r="0.54" fill="#dccbc3" opacity="0.65"/>
<circle cx="311.6" cy="945.8" r="0.38" fill="#b08f7f" opacity="0.65"/>
<circle cx="283.6" cy="861.5" r="0.63" fill="#b08f7f" opacity="0.65"/>
<circle cx="340.0" cy="945.3" r="0.39" fill="#e6dbd7" opacity="0.65"/>
<circle cx="350.7" cy="919.2" r="0.35" fill="#b08f7f" opacity="0.65"/>
<circle cx="294.7" cy="860.3" r="0.42" fill="#b08f7f" opacity="0.65"/>
<circle cx="311.3" cy="869.6" r="0.70" fill="#e6dbd7" opacity="0.65"/>
<circle cx="262.4" cy="958.2" r="0.67" fill="#e6dbd7" opacity="0.65"/>
<circle cx="313.6" cy="888.6" r="0.69" fill="#dccbc3" opacity="0.65"/>
<circle cx="329.4" cy="948.9" r="0.39" fill="#b89888" opacity="0.65"/>
<circle cx="344.1" cy="890.9" r="0.71" fill="#b08f7f" opacity="0.65"/>
<circle cx="308.3" cy="940.3" r="0.41" fill="#b89888" opacity="0.65"/>
<circle cx="323.9" cy="900.9" r="0.69" fill="#e6dbd7" opacity="0.65"/>
<circle cx="324.4" cy="926.7" r="0.38" fill="#dccbc3" opacity="0.65"/>
<circle cx="354.5" cy="943.9" r="0.46" fill="#b08f7f" opacity="0.65"/>
<circle cx="323.4" cy="915.7" r="0.61" fill="#b89888" opacity="0.65"/>
<circle cx="238.0" cy="927.6" r="0.71" fill="#b89888" opacity="0.65"/>
<circle cx="361.3" cy="897.5" r="0.45" fill="#dccbc3" opacity="0.65"/>
<circle cx="336.8" cy="942.6" r="0.71" fill="#b89888" opacity="0.65"/>
<circle cx="359.2" cy="899.0" r="0.56" fill="#e6dbd7" opacity="0.65"/>
<circle cx="283.3" cy="875.0" r="0.53" fill="#e6dbd7" opacity="0.65"/>
<circle cx="283.4" cy="966.1" r="0.67" fill="#b08f7f" opacity="0.65"/>
<circle cx="300.3" cy="927.3" r="0.40" fill="#b08f7f" opacity="0.65"/>
<circle cx="360.8" cy="871.5" r="0.50" fill="#e6dbd7" opacity="0.65"/>
<circle cx="254.0" cy="869.6" r="0.75" fill="#e6dbd7" opacity="0.65"/>
<circle cx="327.0" cy="954.6" r="0.49" fill="#b89888" opacity="0.65"/>
<circle cx="355.7" cy="921.0" r="0.53" fill="#b08f7f" opacity="0.65"/>
<circle cx="231.4" cy="949.9" r="0.78" fill="#dccbc3" opacity="0.65"/>
<circle cx="302.3" cy="944.7" r="0.68" fill="#e6dbd7" opacity="0.65"/>
<circle cx="346.8" cy="938.1" r="0.41" fill="#b89888" opacity="0.65"/>
<circle cx="296.1" cy="910.2" r="0.55" fill="#e6dbd7" opacity="0.65"/>
<circle cx="335.1" cy="923.9" r="0.77" fill="#b89888" opacity="0.65"/>
<circle cx="334.1" cy="907.7" r="0.38" fill="#dccbc3" opacity="0.65"/>
<circle cx="362.7" cy="930.0" r="0.55" fill="#b89888" opacity="0.65"/>
<circle cx="345.9" cy="937.7" r="0.78" fill="#dccbc3" opacity="0.65"/>
<circle cx="259.8" cy="957.4" r="0.80" fill="#dccbc3" opacity="0.65"/>
<circle cx="257.6" cy="919.0" r="0.63" fill="#e6dbd7" opacity="0.65"/>
<circle cx="294.8" cy="859.9" r="0.57" fill="#b89888" opacity="0.65"/>
<circle cx="362.5" cy="908.0" r="0.71" fill="#dccbc3" opacity="0.65"/>
<circle cx="285.2" cy="866.4" r="0.42" fill="#dccbc3" opacity="0.65"/>
<circle cx="347.4" cy="870.0" r="0.76" fill="#e6dbd7" opacity="0.65"/>
<circle cx="323.4" cy="963.7" r="0.78" fill="#e6dbd7" opacity="0.65"/>
<circle cx="259.8" cy="886.2" r="0.44" fill="#b89888" opacity="0.65"/>
<circle cx="281.0" cy="901.3" r="0.66" fill="#dccbc3" opacity="0.65"/>
<circle cx="287.5" cy="887.4" r="0.47" fill="#b89888" opacity="0.65"/>
<circle cx="262.4" cy="956.3" r="0.58" fill="#b89888" opacity="0.65"/>
<circle cx="294.9" cy="868.7" r="0.37" fill="#e6dbd7" opacity="0.65"/>
<circle cx="274.3" cy="912.7" r="0.69" fill="#b89888" opacity="0.65"/>
<circle cx="273.8" cy="892.4" r="0.59" fill="#b89888" opacity="0.65"/>
<circle cx="275.9" cy="923.7" r="0.55" fill="#e6dbd7" opacity="0.65"/>
<circle cx="341.0" cy="885.8" r="0.47" fill="#e6dbd7" opacity="0.65"/>
<circle cx="268.7" cy="858.2" r="0.69" fill="#dccbc3" opacity="0.65"/>
<circle cx="337.8" cy="898.3" r="0.77" fill="#dccbc3" opacity="0.65"/>
<circle cx="256.4" cy="870.6" r="0.70" fill="#dccbc3" opacity="0.65"/>
<circle cx="348.0" cy="890.0" r="0.57" fill="#b89888" opacity="0.65"/>
<circle cx="343.2" cy="866.8" r="0.65" fill="#b89888" opacity="0.65"/>
<circle cx="283.9" cy="857.7" r="0.38" fill="#b89888" opacity="0.65"/>
<circle cx="267.5" cy="900.6" r="0.61" fill="#b08f7f" opacity="0.65"/>
<circle cx="273.5" cy="948.8" r="0.42" fill="#b08f7f" opacity="0.65"/>
<circle cx="336.8" cy="938.2" r="0.75" fill="#dccbc3" opacity="0.65"/>
<circle cx="360.5" cy="925.9" r="0.41" fill="#e6dbd7" opacity="0.65"/>
<circle cx="342.0" cy="932.3" r="0.67" fill="#e6dbd7" opacity="0.65"/>
<circle cx="352.7" cy="920.8" r="0.62" fill="#e6dbd7" opacity="0.65"/>
<circle cx="287.2" cy="916.6" r="0.51" fill="#dccbc3" opacity="0.65"/>
<circle cx="341.2" cy="858.4" r="0.45" fill="#e6dbd7" opacity="0.65"/>
<circle cx="302.8" cy="939.4" r="0.47" fill="#b89888" opacity="0.65"/>
<circle cx="318.2" cy="944.5" r="0.59" fill="#dccbc3" opacity="0.65"/>
<circle cx="304.3" cy="906.6" r="0.63" fill="#e6dbd7" opacity="0.65"/>
<circle cx="284.1" cy="888.7" r="0.45" fill="#b08f7f" opacity="0.65"/>
<circle cx="356.2" cy="874.5" r="0.45" fill="#dccbc3" opacity="0.65"/>
<circle cx="257.5" cy="944.9" r="0.54" fill="#e6dbd7" opacity="0.65"/>
<circle cx="345.2" cy="918.4" r="0.53" fill="#b89888" opacity="0.65"/>
<circle cx="336.0" cy="953.2" r="0.71" fill="#dccbc3" opacity="0.65"/>
<circle cx="306.0" cy="865.6" r="0.79" fill="#b89888" opacity="0.65"/>
<circle cx="247.8" cy="869.4" r="0.38" fill="#b08f7f" opacity="0.65"/>
<circle cx="353.6" cy="942.5" r="0.70" fill="#b08f7f" opacity="0.65"/>
<circle cx="363.2" cy="884.7" r="0.76" fill="#dccbc3" opacity="0.65"/>
<circle cx="344.9" cy="934.2" r="0.51" fill="#dccbc3" opacity="0.65"/>
<circle cx="296.4" cy="947.7" r="0.60" fill="#e6dbd7" opacity="0.65"/>
<circle cx="329.8" cy="916.1" r="0.80" fill="#e6dbd7" opacity="0.65"/>
<circle cx="278.6" cy="855.2" r="0.66" fill="#b08f7f" opacity="0.65"/>
<circle cx="343.4" cy="940.4" r="0.40" fill="#e6dbd7" opacity="0.65"/>
<circle cx="254.5" cy="941.0" r="0.57" fill="#b89888" opacity="0.65"/>
<circle cx="314.0" cy="879.4" r="0.44" fill="#b89888" opacity="0.65"/>
<circle cx="299.4" cy="935.7" r="0.42" fill="#b89888" opacity="0.65"/>
<circle cx="372.5" cy="901.1" r="0.36" fill="#b08f7f" opacity="0.65"/>
<circle cx="264.0" cy="918.5" r="0.36" fill="#b89888" opacity="0.65"/>
<circle cx="243.7" cy="941.3" r="0.75" fill="#b08f7f" opacity="0.65"/>
<circle cx="281.4" cy="923.1" r="0.57" fill="#b89888" opacity="0.65"/>
<circle cx="268.7" cy="956.0" r="0.75" fill="#b89888" opacity="0.65"/>
<circle cx="245.6" cy="952.7" r="0.55" fill="#b08f7f" opacity="0.65"/>
<circle cx="321.0" cy="957.7" r="0.69" fill="#b89888" opacity="0.65"/>
<circle cx="320.7" cy="934.1" r="0.43" fill="#b89888" opacity="0.65"/>
<circle cx="333.7" cy="950.8" r="0.67" fill="#b08f7f" opacity="0.65"/>
<circle cx="304.7" cy="953.0" r="0.40" fill="#b08f7f" opacity="0.65"/>
<circle cx="309.2" cy="894.7" r="0.71" fill="#b08f7f" opacity="0.65"/>
<circle cx="320.0" cy="937.2" r="0.64" fill="#b08f7f" opacity="0.65"/>
<circle cx="244.9" cy="964.2" r="0.37" fill="#dccbc3" opacity="0.65"/>
<circle cx="378.0" cy="875.7" r="0.77" fill="#dccbc3" opacity="0.65"/>
<circle cx="331.5" cy="957.6" r="0.37" fill="#e6dbd7" opacity="0.65"/>
<circle cx="304.4" cy="906.0" r="0.69" fill="#dccbc3" opacity="0.65"/>
<circle cx="252.8" cy="911.9" r="0.40" fill="#e6dbd7" opacity="0.65"/>
<circle cx="365.4" cy="915.0" r="0.58" fill="#dccbc3" opacity="0.65"/>
<circle cx="328.6" cy="919.6" r="0.67" fill="#dccbc3" opacity="0.65"/>
<circle cx="335.2" cy="922.0" r="0.53" fill="#b89888" opacity="0.65"/>
<circle cx="231.2" cy="937.2" r="0.43" fill="#dccbc3" opacity="0.65"/>
<circle cx="310.6" cy="948.0" r="0.40" fill="#b08f7f" opacity="0.65"/>
<circle cx="298.2" cy="862.9" r="0.60" fill="#dccbc3" opacity="0.65"/>
<circle cx="286.1" cy="861.0" r="0.73" fill="#b08f7f" opacity="0.65"/>
<circle cx="364.9" cy="861.9" r="0.47" fill="#e6dbd7" opacity="0.65"/>
<circle cx="279.2" cy="884.6" r="0.62" fill="#b89888" opacity="0.65"/>
<circle cx="248.1" cy="931.0" r="0.58" fill="#b08f7f" opacity="0.65"/>
<circle cx="302.4" cy="897.7" r="0.76" fill="#b08f7f" opacity="0.65"/>
<circle cx="346.5" cy="943.2" r="0.73" fill="#dccbc3" opacity="0.65"/>
<circle cx="338.3" cy="949.4" r="0.71" fill="#b89888" opacity="0.65"/>
<circle cx="276.6" cy="879.9" r="0.46" fill="#b08f7f" opacity="0.65"/>
<circle cx="277.8" cy="890.8" r="0.52" fill="#e6dbd7" opacity="0.65"/>
<circle cx="255.8" cy="869.1" r="0.69" fill="#b89888" opacity="0.65"/>
<circle cx="269.7" cy="898.3" r="0.50" fill="#dccbc3" opacity="0.65"/>
<circle cx="316.5" cy="891.7" r="0.35" fill="#e6dbd7" opacity="0.65"/>
<circle cx="284.5" cy="859.3" r="0.40" fill="#b08f7f" opacity="0.65"/>
<circle cx="361.2" cy="886.7" r="0.52" fill="#e6dbd7" opacity="0.65"/>
<circle cx="315.4" cy="963.0" r="0.45" fill="#b08f7f" opacity="0.65"/>
<circle cx="238.5" cy="927.6" r="0.77" fill="#b08f7f" opacity="0.65"/>
<circle cx="275.7" cy="956.1" r="0.67" fill="#dccbc3" opacity="0.65"/>
<circle cx="298.6" cy="863.8" r="0.62" fill="#b08f7f" opacity="0.65"/>
<circle cx="292.2" cy="890.0" r="0.39" fill="#dccbc3" opacity="0.65"/>
<circle cx="328.3" cy="926.7" r="0.65" fill="#b08f7f" opacity="0.65"/>
<circle cx="325.1" cy="931.3" r="0.39" fill="#e6dbd7" opacity="0.65"/>
<circle cx="346.0" cy="912.7" r="0.51" fill="#dccbc3" opacity="0.65"/>
<circle cx="252.6" cy="863.2" r="0.64" fill="#b89888" opacity="0.65"/>
<circle cx="311.1" cy="952.7" r="0.43" fill="#b89888" opacity="0.65"/>
<circle cx="245.9" cy="885.5" r="0.66" fill="#b89888" opacity="0.65"/>
<circle cx="257.5" cy="965.7" r="0.74" fill="#dccbc3" opacity="0.65"/>
<circle cx="303.2" cy="887.8" r="0.36" fill="#b08f7f" opacity="0.65"/>
<circle cx="361.8" cy="876.5" r="0.71" fill="#b08f7f" opacity="0.65"/>
<circle cx="373.9" cy="868.5" r="0.65" fill="#e6dbd7" opacity="0.65"/>
<circle cx="258.7" cy="866.8" r="0.73" fill="#dccbc3" opacity="0.65"/>
<circle cx="272.7" cy="958.9" r="0.51" fill="#e6dbd7" opacity="0.65"/>
<circle cx="344.9" cy="866.2" r="0.52" fill="#e6dbd7" opacity="0.65"/>
<circle cx="256.4" cy="939.0" r="0.45" fill="#dccbc3" opacity="0.65"/>
<circle cx="260.8" cy="875.6" r="0.73" fill="#b89888" opacity="0.65"/>
<circle cx="268.3" cy="954.5" r="0.74" fill="#e6dbd7" opacity="0.65"/>
<circle cx="238.0" cy="927.6" r="0.46" fill="#e6dbd7" opacity="0.65"/>
<circle cx="248.4" cy="903.8" r="0.39" fill="#b89888" opacity="0.65"/>
<circle cx="248.7" cy="906.1" r="0.76" fill="#b08f7f" opacity="0.65"/>
<circle cx="260.3" cy="881.1" r="0.56" fill="#b89888" opacity="0.65"/>
<circle cx="348.3" cy="915.9" r="0.40" fill="#b89888" opacity="0.65"/>
<circle cx="268.1" cy="870.0" r="0.45" fill="#e6dbd7" opacity="0.65"/>
<circle cx="376.9" cy="903.9" r="0.38" fill="#b08f7f" opacity="0.65"/>
<circle cx="302.0" cy="887.2" r="0.48" fill="#b08f7f" opacity="0.65"/>
<circle cx="341.9" cy="905.6" r="0.43" fill="#e6dbd7" opacity="0.65"/>
<circle cx="304.8" cy="936.6" r="0.70" fill="#b08f7f" opacity="0.65"/>
<circle cx="288.0" cy="895.3" r="0.68" fill="#e6dbd7" opacity="0.65"/>
<circle cx="366.3" cy="893.0" r="0.66" fill="#b08f7f" opacity="0.65"/>
<circle cx="345.1" cy="902.6" r="0.48" fill="#dccbc3" opacity="0.65"/>
<circle cx="278.4" cy="886.7" r="0.77" fill="#b08f7f" opacity="0.65"/>
<circle cx="293.9" cy="929.5" r="0.51" fill="#dccbc3" opacity="0.65"/>
<circle cx="307.0" cy="857.7" r="0.58" fill="#e6dbd7" opacity="0.65"/>
<circle cx="264.4" cy="947.6" r="0.49" fill="#b08f7f" opacity="0.65"/>
<circle cx="295.7" cy="932.9" r="0.70" fill="#e6dbd7" opacity="0.65"/>
<circle cx="267.9" cy="947.9" r="0.62" fill="#b08f7f" opacity="0.65"/>
<circle cx="271.0" cy="903.1" r="0.41" fill="#b89888" opacity="0.65"/>
<circle cx="268.2" cy="864.1" r="0.42" fill="#b89888" opacity="0.65"/>
<circle cx="251.8" cy="911.1" r="0.75" fill="#e6dbd7" opacity="0.65"/>
<circle cx="256.6" cy="918.5" r="0.71" fill="#b89888" opacity="0.65"/>
<circle cx="270.3" cy="916.7" r="0.74" fill="#b08f7f" opacity="0.65"/>
<circle cx="238.2" cy="957.0" r="0.79" fill="#dccbc3" opacity="0.65"/>
<circle cx="349.8" cy="870.5" r="0.54" fill="#b08f7f" opacity="0.65"/>
<circle cx="314.2" cy="949.3" r="0.55" fill="#dccbc3" opacity="0.65"/>
<circle cx="309.4" cy="912.1" r="0.75" fill="#e6dbd7" opacity="0.65"/>
<circle cx="383.0" cy="872.5" r="0.62" fill="#dccbc3" opacity="0.65"/>
<circle cx="270.3" cy="894.7" r="0.64" fill="#e6dbd7" opacity="0.65"/>
<circle cx="270.9" cy="946.2" r="0.63" fill="#dccbc3" opacity="0.65"/>
<circle cx="305.0" cy="928.6" r="0.55" fill="#dccbc3" opacity="0.65"/>
<circle cx="284.1" cy="939.0" r="0.56" fill="#b08f7f" opacity="0.65"/>
<circle cx="281.6" cy="963.6" r="0.39" fill="#b89888" opacity="0.65"/>
<circle cx="293.8" cy="865.7" r="0.52" fill="#b08f7f" opacity="0.65"/>
<circle cx="342.6" cy="894.5" r="0.70" fill="#b89888" opacity="0.65"/>
<circle cx="250.3" cy="876.0" r="0.75" fill="#b08f7f" opacity="0.65"/>
<circle cx="248.0" cy="909.7" r="0.63" fill="#b89888" opacity="0.65"/>
<circle cx="332.8" cy="904.9" r="0.77" fill="#b89888" opacity="0.65"/>
<circle cx="321.7" cy="891.6" r="0.49" fill="#b89888" opacity="0.65"/>
<circle cx="359.0" cy="931.1" r="0.53" fill="#b08f7f" opacity="0.65"/>
<circle cx="276.5" cy="914.4" r="0.64" fill="#b08f7f" opacity="0.65"/>
<circle cx="261.2" cy="939.6" r="0.64" fill="#e6dbd7" opacity="0.65"/>
<circle cx="302.3" cy="927.9" r="0.44" fill="#dccbc3" opacity="0.65"/>
<circle cx="248.2" cy="959.3" r="0.42" fill="#b08f7f" opacity="0.65"/>
<circle cx="283.3" cy="911.1" r="0.48" fill="#e6dbd7" opacity="0.65"/>
<circle cx="272.0" cy="881.1" r="0.63" fill="#dccbc3" opacity="0.65"/>
<circle cx="355.9" cy="935.3" r="0.58" fill="#e6dbd7" opacity="0.65"/>
<circle cx="349.5" cy="948.2" r="0.52" fill="#b89888" opacity="0.65"/>
<circle cx="266.8" cy="860.9" r="0.60" fill="#b89888" opacity="0.65"/>
<circle cx="252.0" cy="872.5" r="0.40" fill="#b08f7f" opacity="0.65"/>
<circle cx="271.1" cy="899.5" r="0.68" fill="#e6dbd7" opacity="0.65"/>
<circle cx="234.9" cy="934.8" r="0.58" fill="#b08f7f" opacity="0.65"/>
<circle cx="302.2" cy="872.5" r="0.44" fill="#b08f7f" opacity="0.65"/>
<circle cx="279.5" cy="927.5" r="0.41" fill="#e6dbd7" opacity="0.65"/>
<circle cx="283.9" cy="932.4" r="0.53" fill="#e6dbd7" opacity="0.65"/>
<circle cx="313.1" cy="885.8" r="0.39" fill="#e6dbd7" opacity="0.65"/>
<circle cx="254.0" cy="959.0" r="0.56" fill="#b08f7f" opacity="0.65"/>
<circle cx="261.4" cy="864.0" r="0.66" fill="#e6dbd7" opacity="0.65"/>
<circle cx="305.8" cy="886.4" r="0.40" fill="#dccbc3" opacity="0.65"/>
<circle cx="306.9" cy="879.6" r="0.55" fill="#b08f7f" opacity="0.65"/>
<circle cx="296.5" cy="932.5" r="0.70" fill="#b89888" opacity="0.65"/>
<circle cx="345.2" cy="886.8" r="0.40" fill="#dccbc3" opacity="0.65"/>
<circle cx="302.5" cy="924.5" r="0.41" fill="#e6dbd7" opacity="0.65"/>
<circle cx="334.6" cy="949.7" r="0.55" fill="#e6dbd7" opacity="0.65"/>
<circle cx="245.0" cy="962.7" r="0.36" fill="#dccbc3" opacity="0.65"/>
<circle cx="314.3" cy="931.9" r="0.42" fill="#e6dbd7" opacity="0.65"/>
<circle cx="314.6" cy="947.5" r="0.46" fill="#b08f7f" opacity="0.65"/>
<circle cx="342.6" cy="892.4" r="0.56" fill="#b08f7f" opacity="0.65"/>
<circle cx="344.5" cy="895.2" r="0.78" fill="#b08f7f" opacity="0.65"/>
<circle cx="326.0" cy="883.8" r="0.53" fill="#b89888" opacity="0.65"/>
<circle cx="262.1" cy="942.1" r="0.76" fill="#b08f7f" opacity="0.65"/>
<circle cx="308.1" cy="951.5" r="0.71" fill="#e6dbd7" opacity="0.65"/>
<circle cx="359.4" cy="931.4" r="0.49" fill="#e6dbd7" opacity="0.65"/>
<circle cx="346.0" cy="949.3" r="0.65" fill="#b08f7f" opacity="0.65"/>
<circle cx="266.8" cy="890.2" r="0.62" fill="#e6dbd7" opacity="0.65"/>
<circle cx="288.2" cy="893.8" r="0.53" fill="#e6dbd7" opacity="0.65"/>
<circle cx="275.1" cy="960.3" r="0.76" fill="#dccbc3" opacity="0.65"/>
<circle cx="295.3" cy="924.4" r="0.72" fill="#b08f7f" opacity="0.65"/>
<circle cx="371.4" cy="870.1" r="0.72" fill="#b08f7f" opacity="0.65"/>
<circle cx="270.3" cy="926.7" r="0.55" fill="#b89888" opacity="0.65"/>
<circle cx="278.8" cy="878.1" r="0.65" fill="#e6dbd7" opacity="0.65"/>
<circle cx="238.7" cy="954.8" r="0.73" fill="#b08f7f" opacity="0.65"/>
<circle cx="337.6" cy="926.3" r="0.71" fill="#dccbc3" opacity="0.65"/>
<circle cx="303.4" cy="937.6" r="0.68" fill="#b08f7f" opacity="0.65"/>
<circle cx="287.4" cy="857.5" r="0.50" fill="#dccbc3" opacity="0.65"/>
<circle cx="234.1" cy="943.2" r="0.52" fill="#b08f7f" opacity="0.65"/>
<circle cx="327.8" cy="908.3" r="0.44" fill="#dccbc3" opacity="0.65"/>
<circle cx="303.5" cy="897.0" r="0.78" fill="#b89888" opacity="0.65"/>
<circle cx="279.3" cy="924.0" r="0.49" fill="#b89888" opacity="0.65"/>
<circle cx="347.5" cy="891.2" r="0.62" fill="#dccbc3" opacity="0.65"/>
<circle cx="231.9" cy="961.8" r="0.44" fill="#b08f7f" opacity="0.65"/>
<circle cx="287.6" cy="892.5" r="0.64" fill="#dccbc3" opacity="0.65"/>
<circle cx="320.4" cy="904.0" r="0.36" fill="#b89888" opacity="0.65"/>
<circle cx="250.8" cy="966.9" r="0.59" fill="#b08f7f" opacity="0.65"/>
<circle cx="286.7" cy="876.0" r="0.45" fill="#dccbc3" opacity="0.65"/>
<circle cx="298.9" cy="894.5" r="0.77" fill="#dccbc3" opacity="0.65"/>
<circle cx="262.1" cy="885.3" r="0.58" fill="#e6dbd7" opacity="0.65"/>
<circle cx="368.5" cy="920.8" r="0.80" fill="#b89888" opacity="0.65"/>
<circle cx="319.2" cy="943.0" r="0.36" fill="#b08f7f" opacity="0.65"/>
<circle cx="333.2" cy="952.8" r="0.74" fill="#dccbc3" opacity="0.65"/>
<circle cx="309.9" cy="955.1" r="0.58" fill="#b08f7f" opacity="0.65"/>
<circle cx="357.7" cy="899.6" r="0.62" fill="#e6dbd7" opacity="0.65"/>
<circle cx="267.2" cy="875.3" r="0.37" fill="#b89888" opacity="0.65"/>
<circle cx="353.0" cy="943.9" r="0.69" fill="#b08f7f" opacity="0.65"/>
<circle cx="267.7" cy="879.9" r="0.45" fill="#b08f7f" opacity="0.65"/>
<circle cx="257.8" cy="952.1" r="0.69" fill="#dccbc3" opacity="0.65"/>
<circle cx="343.2" cy="933.1" r="0.73" fill="#e6dbd7" opacity="0.65"/>
<circle cx="297.5" cy="909.8" r="0.77" fill="#b89888" opacity="0.65"/>
<circle cx="300.4" cy="860.1" r="0.75" fill="#dccbc3" opacity="0.65"/>
<circle cx="318.9" cy="898.6" r="0.56" fill="#e6dbd7" opacity="0.65"/>
<circle cx="283.4" cy="939.7" r="0.80" fill="#b08f7f" opacity="0.65"/>
<circle cx="266.2" cy="951.7" r="0.63" fill="#e6dbd7" opacity="0.65"/>
<circle cx="278.2" cy="868.9" r="0.55" fill="#b08f7f" opacity="0.65"/>
<circle cx="249.8" cy="884.6" r="0.57" fill="#b89888" opacity="0.65"/>
<circle cx="299.9" cy="963.8" r="0.56" fill="#b89888" opacity="0.65"/>
<circle cx="274.1" cy="910.7" r="0.62" fill="#b89888" opacity="0.65"/>
<circle cx="253.0" cy="869.8" r="0.51" fill="#dccbc3" opacity="0.65"/>
<circle cx="246.0" cy="935.9" r="0.51" fill="#e6dbd7" opacity="0.65"/>
<circle cx="339.8" cy="895.9" r="0.56" fill="#b08f7f" opacity="0.65"/>
<circle cx="362.7" cy="914.1" r="0.73" fill="#dccbc3" opacity="0.65"/>
<circle cx="345.8" cy="891.5" r="0.78" fill="#b89888" opacity="0.65"/>
<circle cx="333.7" cy="937.4" r="0.78" fill="#dccbc3" opacity="0.65"/>
<circle cx="253.1" cy="892.8" r="0.71" fill="#b89888" opacity="0.65"/>
<circle cx="323.8" cy="929.2" r="0.71" fill="#e6dbd7" opacity="0.65"/>
<circle cx="254.9" cy="914.6" r="0.48" fill="#b08f7f" opacity="0.65"/>
<circle cx="251.6" cy="955.8" r="0.63" fill="#dccbc3" opacity="0.65"/>
<circle cx="358.2" cy="901.6" r="0.51" fill="#e6dbd7" opacity="0.65"/>
<circle cx="372.3" cy="890.9" r="0.64" fill="#e6dbd7" opacity="0.65"/>
<circle cx="305.8" cy="888.9" r="0.62" fill="#b89888" opacity="0.65"/>
<circle cx="319.9" cy="950.3" r="0.52" fill="#dccbc3" opacity="0.65"/>
<circle cx="291.6" cy="892.5" r="0.47" fill="#dccbc3" opacity="0.65"/>
<circle cx="239.5" cy="944.3" r="0.49" fill="#b08f7f" opacity="0.65"/>
<circle cx="264.9" cy="901.1" r="0.68" fill="#dccbc3" opacity="0.65"/>
<circle cx="377.1" cy="900.8" r="0.37" fill="#b08f7f" opacity="0.65"/>
<circle cx="309.0" cy="935.5" r="0.39" fill="#b89888" opacity="0.65"/>
<circle cx="324.9" cy="964.3" r="0.39" fill="#dccbc3" opacity="0.65"/>
<circle cx="282.1" cy="931.2" r="0.40" fill="#b08f7f" opacity="0.65"/>
<circle cx="255.8" cy="871.2" r="0.65" fill="#e6dbd7" opacity="0.65"/>
<circle cx="292.2" cy="879.6" r="0.57" fill="#b08f7f" opacity="0.65"/>
<circle cx="233.9" cy="928.8" r="0.42" fill="#b08f7f" opacity="0.65"/>
<circle cx="329.5" cy="926.7" r="0.59" fill="#b89888" opacity="0.65"/>
<circle cx="299.9" cy="942.5" r="0.55" fill="#dccbc3" opacity="0.65"/>
<circle cx="283.6" cy="896.3" r="0.74" fill="#b08f7f" opacity="0.65"/>
<circle cx="252.7" cy="870.5" r="0.42" fill="#b89888" opacity="0.65"/>
<circle cx="332.7" cy="908.5" r="0.73" fill="#dccbc3" opacity="0.65"/>
<circle cx="287.6" cy="932.6" r="0.61" fill="#b08f7f" opacity="0.65"/>
<circle cx="345.8" cy="897.8" r="0.78" fill="#b89888" opacity="0.65"/>
<circle cx="280.3" cy="894.1" r="0.80" fill="#e6dbd7" opacity="0.65"/>
<circle cx="322.2" cy="888.2" r="0.71" fill="#e6dbd7" opacity="0.65"/>
<circle cx="283.6" cy="917.1" r="0.78" fill="#b89888" opacity="0.65"/>
<circle cx="308.2" cy="947.0" r="0.42" fill="#dccbc3" opacity="0.65"/>
<circle cx="351.0" cy="917.1" r="0.61" fill="#e6dbd7" opacity="0.65"/>
<circle cx="297.9" cy="959.2" r="0.62" fill="#dccbc3" opacity="0.65"/>
<circle cx="251.2" cy="894.0" r="0.62" fill="#dccbc3" opacity="0.65"/>
<circle cx="299.2" cy="953.3" r="0.39" fill="#e6dbd7" opacity="0.65"/>
<circle cx="301.4" cy="893.1" r="0.57" fill="#dccbc3" opacity="0.65"/>
<circle cx="297.9" cy="916.9" r="0.56" fill="#e6dbd7" opacity="0.65"/>
<circle cx="367.3" cy="896.9" r="0.78" fill="#b89888" opacity="0.65"/>
<circle cx="237.4" cy="947.8" r="0.37" fill="#e6dbd7" opacity="0.65"/>
<circle cx="347.7" cy="865.3" r="0.74" fill="#b89888" opacity="0.65"/>
<circle cx="271.3" cy="909.2" r="0.57" fill="#b89888" opacity="0.65"/>
<circle cx="243.8" cy="949.6" r="0.45" fill="#dccbc3" opacity="0.65"/>
<circle cx="325.5" cy="952.5" r="0.68" fill="#dccbc3" opacity="0.65"/>
<circle cx="259.5" cy="866.0" r="0.64" fill="#dccbc3" opacity="0.65"/>
<circle cx="256.1" cy="956.0" r="0.56" fill="#b08f7f" opacity="0.65"/>
<circle cx="375.1" cy="875.9" r="0.79" fill="#e6dbd7" opacity="0.65"/>
<circle cx="352.6" cy="923.8" r="0.45" fill="#b89888" opacity="0.65"/>
<circle cx="296.2" cy="904.9" r="0.66" fill="#e6dbd7" opacity="0.65"/>
<circle cx="303.7" cy="946.3" r="0.77" fill="#b08f7f" opacity="0.65"/>
<circle cx="318.1" cy="897.4" r="0.76" fill="#b08f7f" opacity="0.65"/>
<circle cx="372.9" cy="904.9" r="0.60" fill="#e6dbd7" opacity="0.65"/>
<circle cx="245.7" cy="908.2" r="0.42" fill="#e6dbd7" opacity="0.65"/>
<circle cx="370.9" cy="893.0" r="0.79" fill="#dccbc3" opacity="0.65"/>
<circle cx="317.0" cy="886.7" r="0.49" fill="#dccbc3" opacity="0.65"/>
<circle cx="302.9" cy="961.9" r="0.63" fill="#b89888" opacity="0.65"/>
<circle cx="319.5" cy="960.9" r="0.57" fill="#e6dbd7" opacity="0.65"/>
<circle cx="377.8" cy="873.1" r="0.51" fill="#b08f7f" opacity="0.65"/>
<circle cx="326.2" cy="885.1" r="0.67" fill="#b08f7f" opacity="0.65"/>
<circle cx="323.3" cy="899.2" r="0.60" fill="#b08f7f" opacity="0.65"/>
<circle cx="262.7" cy="909.4" r="0.69" fill="#dccbc3" opacity="0.65"/>
<circle cx="267.7" cy="862.9" r="0.77" fill="#e6dbd7" opacity="0.65"/>
<circle cx="323.7" cy="946.4" r="0.61" fill="#dccbc3" opacity="0.65"/>
<circle cx="265.6" cy="874.6" r="0.47" fill="#dccbc3" opacity="0.65"/>
<circle cx="370.0" cy="910.3" r="0.65" fill="#e6dbd7" opacity="0.65"/>
<circle cx="340.9" cy="899.7" r="0.58" fill="#e6dbd7" opacity="0.65"/>
<circle cx="298.0" cy="951.9" r="0.78" fill="#dccbc3" opacity="0.65"/>
<circle cx="329.1" cy="926.5" r="0.52" fill="#b08f7f" opacity="0.65"/>
<circle cx="288.1" cy="865.6" r="0.46" fill="#e6dbd7" opacity="0.65"/>
<circle cx="252.5" cy="868.5" r="0.40" fill="#b08f7f" opacity="0.65"/>
<circle cx="356.7" cy="864.6" r="0.58" fill="#e6dbd7" opacity="0.65"/>
<circle cx="321.3" cy="915.6" r="0.56" fill="#b89888" opacity="0.65"/>
<circle cx="349.3" cy="935.1" r="0.54" fill="#b08f7f" opacity="0.65"/>
<circle cx="268.5" cy="946.4" r="0.70" fill="#b08f7f" opacity="0.65"/>
<circle cx="362.7" cy="918.9" r="0.50" fill="#b89888" opacity="0.65"/>
<circle cx="351.7" cy="876.0" r="0.55" fill="#dccbc3" opacity="0.65"/>
<circle cx="310.0" cy="958.1" r="0.44" fill="#b08f7f" opacity="0.65"/>
<circle cx="350.0" cy="889.6" r="0.54" fill="#dccbc3" opacity="0.65"/>
<circle cx="279.1" cy="909.9" r="0.46" fill="#b89888" opacity="0.65"/>
<circle cx="254.6" cy="885.7" r="0.77" fill="#e6dbd7" opacity="0.65"/>
<circle cx="246.9" cy="910.1" r="0.61" fill="#b08f7f" opacity="0.65"/>
<circle cx="309.1" cy="965.8" r="0.72" fill="#b08f7f" opacity="0.65"/>
<circle cx="312.8" cy="937.5" r="0.58" fill="#b08f7f" opacity="0.65"/>
<circle cx="298.9" cy="927.4" r="0.46" fill="#dccbc3" opacity="0.65"/>
<circle cx="304.3" cy="932.1" r="0.40" fill="#b89888" opacity="0.65"/>
<circle cx="294.9" cy="912.7" r="0.80" fill="#e6dbd7" opacity="0.65"/>
<circle cx="283.3" cy="881.1" r="0.45" fill="#e6dbd7" opacity="0.65"/>
<circle cx="293.7" cy="930.5" r="0.38" fill="#b89888" opacity="0.65"/>
<circle cx="260.5" cy="880.8" r="0.52" fill="#dccbc3" opacity="0.65"/>
<circle cx="245.8" cy="958.2" r="0.48" fill="#b89888" opacity="0.65"/>
<circle cx="305.3" cy="866.5" r="0.55" fill="#b89888" opacity="0.65"/>
<circle cx="259.4" cy="965.2" r="0.71" fill="#dccbc3" opacity="0.65"/>
<circle cx="265.1" cy="961.0" r="0.51" fill="#e6dbd7" opacity="0.65"/>
<circle cx="340.6" cy="892.9" r="0.42" fill="#e6dbd7" opacity="0.65"/>
<circle cx="299.6" cy="871.0" r="0.39" fill="#b08f7f" opacity="0.65"/>
<circle cx="345.5" cy="951.2" r="0.65" fill="#b08f7f" opacity="0.65"/>
<circle cx="271.4" cy="863.7" r="0.39" fill="#b89888" opacity="0.65"/>
<circle cx="265.1" cy="867.9" r="0.39" fill="#e6dbd7" opacity="0.65"/>
<circle cx="278.7" cy="919.0" r="0.79" fill="#b89888" opacity="0.65"/>
<circle cx="332.4" cy="960.9" r="0.49" fill="#b08f7f" opacity="0.65"/>
<circle cx="250.1" cy="891.5" r="0.63" fill="#b08f7f" opacity="0.65"/>
<circle cx="276.6" cy="863.9" r="0.70" fill="#b89888" opacity="0.65"/>
<circle cx="312.3" cy="879.1" r="0.59" fill="#b89888" opacity="0.65"/>
<circle cx="281.0" cy="929.8" r="0.74" fill="#b89888" opacity="0.65"/>
<circle cx="342.8" cy="903.2" r="0.69" fill="#dccbc3" opacity="0.65"/>
<circle cx="346.6" cy="874.3" r="0.79" fill="#b08f7f" opacity="0.65"/>
<circle cx="298.7" cy="936.0" r="0.64" fill="#e6dbd7" opacity="0.65"/>
<circle cx="235.1" cy="962.6" r="0.71" fill="#e6dbd7" opacity="0.65"/>
<circle cx="266.5" cy="889.4" r="0.67" fill="#dccbc3" opacity="0.65"/>
<line x1="198.00" y1="963.00" x2="210.00" y2="963.00" stroke="#777" stroke-width="0.6" />
<rect x="369.2" y="836.4" width="18.6" height="10.9" fill="#fbfbfb" stroke="#b5b5b5" stroke-width="0.5"/>
<path d="M371.5,841 q3,-2 6,0 q2,2 4,0" fill="none" stroke="#c98a8a" stroke-width="1"/>
</g>
<text transform="translate(5.00 846.80) scale(1 1.0)" font-size="8.0" text-anchor="start" font-weight="normal" fill="#111" stroke="#111" stroke-width="0.2" >Patient 1</text>
<text transform="translate(200.80 844.80) scale(1 1.0)" font-size="7.9" text-anchor="start" font-weight="normal" fill="#111" stroke="#111" stroke-width="0.2" >Patient 64</text>
<text transform="translate(94.90 978.70) scale(1 1.0)" font-size="10.3" text-anchor="middle" font-weight="normal" fill="#000" stroke="#000" stroke-width="0.2" >Preoperative ctDNA -ve</text>
<text transform="translate(293.80 978.70) scale(1 1.0)" font-size="10.3" text-anchor="middle" font-weight="normal" fill="#000" stroke="#000" stroke-width="0.2" >Preoperative ctDNA +ve</text>
</svg>
</body></html>
